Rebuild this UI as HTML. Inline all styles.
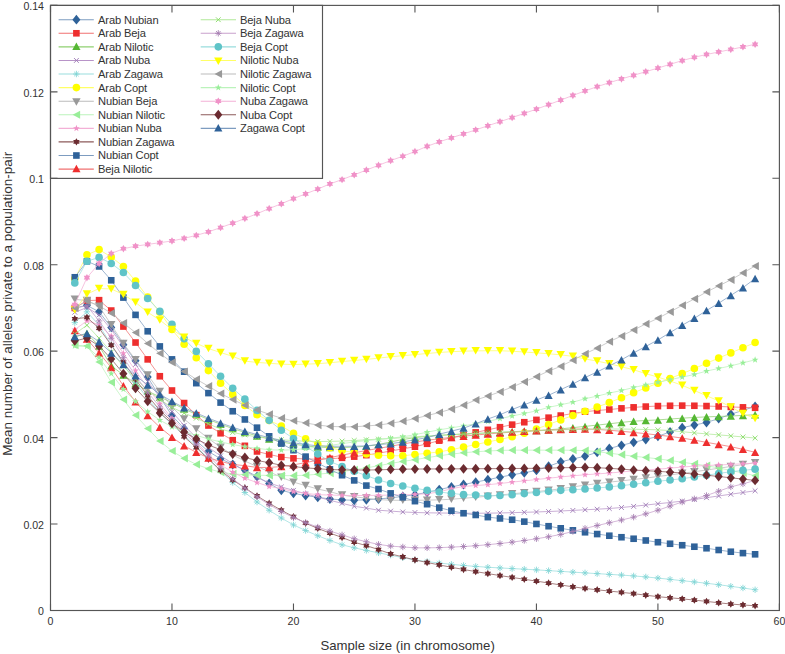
<!DOCTYPE html>
<html><head><meta charset="utf-8"><style>
html,body{margin:0;padding:0;background:#fff;}
svg{display:block;}
text{font-family:"Liberation Sans",sans-serif;fill:#333333;}
.tk text{font-size:10.6px;}
.lg text{font-size:11.15px;letter-spacing:-0.13px;}
.al{font-size:13.2px;} .al2{font-size:13.5px;}
</style></head><body>
<svg width="785" height="654" viewBox="0 0 785 654">
<rect width="785" height="654" fill="#fff"/>
<g><path d="M74.80 307.95L86.94 305.36L99.09 311.84L111.24 327.40L123.39 344.69L135.54 360.70L147.69 377.10L159.83 396.95L171.98 415.57L184.13 428.54L196.28 440.87L208.43 451.45L220.58 458.79L232.72 464.50L244.87 470.03L257.02 476.55L269.17 483.43L281.32 490.34L293.47 493.37L305.62 495.53L317.76 497.26L329.91 498.99L342.06 499.89L354.21 500.29L366.36 499.86L378.50 498.99L390.65 497.89L402.80 496.42L414.95 494.67L427.10 492.38L439.25 489.59L451.40 486.89L463.54 484.49L475.69 482.13L487.84 479.66L499.99 477.17L512.14 474.78L524.28 472.77L536.43 470.46L548.58 466.27L560.73 461.82L572.88 458.97L585.03 456.20L597.17 452.34L609.32 448.42L621.47 445.30L633.62 442.37L645.77 439.48L657.92 436.32L670.07 431.92L682.21 427.67L694.36 425.06L706.51 422.49L718.66 418.58L730.81 414.27L742.95 410.33L755.10 406.49" stroke="#7d9cc0" stroke-width="0.75" fill="none"/><path d="M74.80 303.05L78.80 307.95L74.80 312.85L70.80 307.95Z" fill="#2f6299"/><path d="M86.94 300.46L90.94 305.36L86.94 310.26L82.94 305.36Z" fill="#2f6299"/><path d="M99.09 306.94L103.09 311.84L99.09 316.74L95.09 311.84Z" fill="#2f6299"/><path d="M111.24 322.50L115.24 327.40L111.24 332.30L107.24 327.40Z" fill="#2f6299"/><path d="M123.39 339.79L127.39 344.69L123.39 349.59L119.39 344.69Z" fill="#2f6299"/><path d="M135.54 355.80L139.54 360.70L135.54 365.60L131.54 360.70Z" fill="#2f6299"/><path d="M147.69 372.20L151.69 377.10L147.69 382.00L143.69 377.10Z" fill="#2f6299"/><path d="M159.83 392.05L163.83 396.95L159.83 401.85L155.83 396.95Z" fill="#2f6299"/><path d="M171.98 410.67L175.98 415.57L171.98 420.47L167.98 415.57Z" fill="#2f6299"/><path d="M184.13 423.64L188.13 428.54L184.13 433.44L180.13 428.54Z" fill="#2f6299"/><path d="M196.28 435.97L200.28 440.87L196.28 445.77L192.28 440.87Z" fill="#2f6299"/><path d="M208.43 446.55L212.43 451.45L208.43 456.35L204.43 451.45Z" fill="#2f6299"/><path d="M220.58 453.89L224.58 458.79L220.58 463.69L216.58 458.79Z" fill="#2f6299"/><path d="M232.72 459.60L236.72 464.50L232.72 469.40L228.72 464.50Z" fill="#2f6299"/><path d="M244.87 465.13L248.87 470.03L244.87 474.93L240.87 470.03Z" fill="#2f6299"/><path d="M257.02 471.65L261.02 476.55L257.02 481.45L253.02 476.55Z" fill="#2f6299"/><path d="M269.17 478.53L273.17 483.43L269.17 488.33L265.17 483.43Z" fill="#2f6299"/><path d="M281.32 485.44L285.32 490.34L281.32 495.24L277.32 490.34Z" fill="#2f6299"/><path d="M293.47 488.47L297.47 493.37L293.47 498.27L289.47 493.37Z" fill="#2f6299"/><path d="M305.62 490.63L309.62 495.53L305.62 500.43L301.62 495.53Z" fill="#2f6299"/><path d="M317.76 492.36L321.76 497.26L317.76 502.16L313.76 497.26Z" fill="#2f6299"/><path d="M329.91 494.09L333.91 498.99L329.91 503.89L325.91 498.99Z" fill="#2f6299"/><path d="M342.06 494.99L346.06 499.89L342.06 504.79L338.06 499.89Z" fill="#2f6299"/><path d="M354.21 495.39L358.21 500.29L354.21 505.19L350.21 500.29Z" fill="#2f6299"/><path d="M366.36 494.96L370.36 499.86L366.36 504.76L362.36 499.86Z" fill="#2f6299"/><path d="M378.50 494.09L382.50 498.99L378.50 503.89L374.50 498.99Z" fill="#2f6299"/><path d="M390.65 492.99L394.65 497.89L390.65 502.79L386.65 497.89Z" fill="#2f6299"/><path d="M402.80 491.52L406.80 496.42L402.80 501.32L398.80 496.42Z" fill="#2f6299"/><path d="M414.95 489.77L418.95 494.67L414.95 499.57L410.95 494.67Z" fill="#2f6299"/><path d="M427.10 487.48L431.10 492.38L427.10 497.28L423.10 492.38Z" fill="#2f6299"/><path d="M439.25 484.69L443.25 489.59L439.25 494.49L435.25 489.59Z" fill="#2f6299"/><path d="M451.40 481.99L455.40 486.89L451.40 491.79L447.40 486.89Z" fill="#2f6299"/><path d="M463.54 479.59L467.54 484.49L463.54 489.39L459.54 484.49Z" fill="#2f6299"/><path d="M475.69 477.23L479.69 482.13L475.69 487.03L471.69 482.13Z" fill="#2f6299"/><path d="M487.84 474.76L491.84 479.66L487.84 484.56L483.84 479.66Z" fill="#2f6299"/><path d="M499.99 472.27L503.99 477.17L499.99 482.07L495.99 477.17Z" fill="#2f6299"/><path d="M512.14 469.88L516.14 474.78L512.14 479.68L508.14 474.78Z" fill="#2f6299"/><path d="M524.28 467.87L528.28 472.77L524.28 477.67L520.28 472.77Z" fill="#2f6299"/><path d="M536.43 465.56L540.43 470.46L536.43 475.36L532.43 470.46Z" fill="#2f6299"/><path d="M548.58 461.37L552.58 466.27L548.58 471.17L544.58 466.27Z" fill="#2f6299"/><path d="M560.73 456.92L564.73 461.82L560.73 466.72L556.73 461.82Z" fill="#2f6299"/><path d="M572.88 454.07L576.88 458.97L572.88 463.87L568.88 458.97Z" fill="#2f6299"/><path d="M585.03 451.30L589.03 456.20L585.03 461.10L581.03 456.20Z" fill="#2f6299"/><path d="M597.17 447.44L601.17 452.34L597.17 457.24L593.17 452.34Z" fill="#2f6299"/><path d="M609.32 443.52L613.32 448.42L609.32 453.32L605.32 448.42Z" fill="#2f6299"/><path d="M621.47 440.40L625.47 445.30L621.47 450.20L617.47 445.30Z" fill="#2f6299"/><path d="M633.62 437.47L637.62 442.37L633.62 447.27L629.62 442.37Z" fill="#2f6299"/><path d="M645.77 434.58L649.77 439.48L645.77 444.38L641.77 439.48Z" fill="#2f6299"/><path d="M657.92 431.42L661.92 436.32L657.92 441.22L653.92 436.32Z" fill="#2f6299"/><path d="M670.07 427.02L674.07 431.92L670.07 436.82L666.07 431.92Z" fill="#2f6299"/><path d="M682.21 422.77L686.21 427.67L682.21 432.57L678.21 427.67Z" fill="#2f6299"/><path d="M694.36 420.16L698.36 425.06L694.36 429.96L690.36 425.06Z" fill="#2f6299"/><path d="M706.51 417.59L710.51 422.49L706.51 427.39L702.51 422.49Z" fill="#2f6299"/><path d="M718.66 413.68L722.66 418.58L718.66 423.48L714.66 418.58Z" fill="#2f6299"/><path d="M730.81 409.37L734.81 414.27L730.81 419.17L726.81 414.27Z" fill="#2f6299"/><path d="M742.95 405.43L746.95 410.33L742.95 415.23L738.95 410.33Z" fill="#2f6299"/><path d="M755.10 401.59L759.10 406.49L755.10 411.39L751.10 406.49Z" fill="#2f6299"/></g><g><path d="M74.80 307.95L86.94 300.60L99.09 300.17L111.24 310.54L123.39 326.54L135.54 342.53L147.69 359.38L159.83 376.24L171.98 390.50L184.13 403.04L196.28 415.14L208.43 425.51L220.58 433.29L232.72 440.21L244.87 445.83L257.02 451.45L269.17 454.47L281.32 457.06L293.47 458.36L305.62 458.96L317.76 459.23L329.91 458.81L342.06 457.83L354.21 456.63L366.36 455.14L378.50 453.19L390.65 451.01L402.80 448.85L414.95 446.69L427.10 443.77L439.25 440.64L451.40 437.78L463.54 435.02L475.69 432.40L487.84 429.83L499.99 427.21L512.14 424.65L524.28 422.22L536.43 419.89L548.58 417.68L560.73 415.57L572.88 413.46L585.03 411.68L597.17 410.52L609.32 409.52L621.47 408.37L633.62 407.36L645.77 406.59L657.92 406.06L670.07 405.77L682.21 405.63L694.36 405.77L706.51 406.06L718.66 406.46L730.81 406.93L742.95 407.36L755.10 407.79" stroke="#f07070" stroke-width="0.75" fill="none"/><rect x="71.50" y="304.65" width="6.60" height="6.60" fill="#ee2e2e"/><rect x="83.64" y="297.30" width="6.60" height="6.60" fill="#ee2e2e"/><rect x="95.79" y="296.87" width="6.60" height="6.60" fill="#ee2e2e"/><rect x="107.94" y="307.24" width="6.60" height="6.60" fill="#ee2e2e"/><rect x="120.09" y="323.24" width="6.60" height="6.60" fill="#ee2e2e"/><rect x="132.24" y="339.23" width="6.60" height="6.60" fill="#ee2e2e"/><rect x="144.39" y="356.08" width="6.60" height="6.60" fill="#ee2e2e"/><rect x="156.53" y="372.94" width="6.60" height="6.60" fill="#ee2e2e"/><rect x="168.68" y="387.20" width="6.60" height="6.60" fill="#ee2e2e"/><rect x="180.83" y="399.74" width="6.60" height="6.60" fill="#ee2e2e"/><rect x="192.98" y="411.84" width="6.60" height="6.60" fill="#ee2e2e"/><rect x="205.13" y="422.21" width="6.60" height="6.60" fill="#ee2e2e"/><rect x="217.28" y="429.99" width="6.60" height="6.60" fill="#ee2e2e"/><rect x="229.42" y="436.91" width="6.60" height="6.60" fill="#ee2e2e"/><rect x="241.57" y="442.53" width="6.60" height="6.60" fill="#ee2e2e"/><rect x="253.72" y="448.15" width="6.60" height="6.60" fill="#ee2e2e"/><rect x="265.87" y="451.17" width="6.60" height="6.60" fill="#ee2e2e"/><rect x="278.02" y="453.76" width="6.60" height="6.60" fill="#ee2e2e"/><rect x="290.17" y="455.06" width="6.60" height="6.60" fill="#ee2e2e"/><rect x="302.31" y="455.66" width="6.60" height="6.60" fill="#ee2e2e"/><rect x="314.46" y="455.93" width="6.60" height="6.60" fill="#ee2e2e"/><rect x="326.61" y="455.51" width="6.60" height="6.60" fill="#ee2e2e"/><rect x="338.76" y="454.53" width="6.60" height="6.60" fill="#ee2e2e"/><rect x="350.91" y="453.33" width="6.60" height="6.60" fill="#ee2e2e"/><rect x="363.06" y="451.84" width="6.60" height="6.60" fill="#ee2e2e"/><rect x="375.20" y="449.89" width="6.60" height="6.60" fill="#ee2e2e"/><rect x="387.35" y="447.71" width="6.60" height="6.60" fill="#ee2e2e"/><rect x="399.50" y="445.55" width="6.60" height="6.60" fill="#ee2e2e"/><rect x="411.65" y="443.39" width="6.60" height="6.60" fill="#ee2e2e"/><rect x="423.80" y="440.47" width="6.60" height="6.60" fill="#ee2e2e"/><rect x="435.95" y="437.34" width="6.60" height="6.60" fill="#ee2e2e"/><rect x="448.10" y="434.48" width="6.60" height="6.60" fill="#ee2e2e"/><rect x="460.24" y="431.72" width="6.60" height="6.60" fill="#ee2e2e"/><rect x="472.39" y="429.10" width="6.60" height="6.60" fill="#ee2e2e"/><rect x="484.54" y="426.53" width="6.60" height="6.60" fill="#ee2e2e"/><rect x="496.69" y="423.91" width="6.60" height="6.60" fill="#ee2e2e"/><rect x="508.84" y="421.35" width="6.60" height="6.60" fill="#ee2e2e"/><rect x="520.99" y="418.92" width="6.60" height="6.60" fill="#ee2e2e"/><rect x="533.13" y="416.59" width="6.60" height="6.60" fill="#ee2e2e"/><rect x="545.28" y="414.38" width="6.60" height="6.60" fill="#ee2e2e"/><rect x="557.43" y="412.27" width="6.60" height="6.60" fill="#ee2e2e"/><rect x="569.58" y="410.16" width="6.60" height="6.60" fill="#ee2e2e"/><rect x="581.73" y="408.38" width="6.60" height="6.60" fill="#ee2e2e"/><rect x="593.88" y="407.22" width="6.60" height="6.60" fill="#ee2e2e"/><rect x="606.02" y="406.22" width="6.60" height="6.60" fill="#ee2e2e"/><rect x="618.17" y="405.07" width="6.60" height="6.60" fill="#ee2e2e"/><rect x="630.32" y="404.06" width="6.60" height="6.60" fill="#ee2e2e"/><rect x="642.47" y="403.29" width="6.60" height="6.60" fill="#ee2e2e"/><rect x="654.62" y="402.76" width="6.60" height="6.60" fill="#ee2e2e"/><rect x="666.77" y="402.47" width="6.60" height="6.60" fill="#ee2e2e"/><rect x="678.91" y="402.33" width="6.60" height="6.60" fill="#ee2e2e"/><rect x="691.06" y="402.47" width="6.60" height="6.60" fill="#ee2e2e"/><rect x="703.21" y="402.76" width="6.60" height="6.60" fill="#ee2e2e"/><rect x="715.36" y="403.16" width="6.60" height="6.60" fill="#ee2e2e"/><rect x="727.51" y="403.63" width="6.60" height="6.60" fill="#ee2e2e"/><rect x="739.65" y="404.06" width="6.60" height="6.60" fill="#ee2e2e"/><rect x="751.80" y="404.49" width="6.60" height="6.60" fill="#ee2e2e"/></g><g><path d="M74.80 336.91L86.94 333.45L99.09 345.98L111.24 365.87L123.39 374.94L135.54 383.59L147.69 390.94L159.83 396.99L171.98 402.60L184.13 409.09L196.28 414.27L208.43 419.46L220.58 424.22L232.72 428.54L244.87 432.43L257.02 435.89L269.17 438.91L281.32 441.94L293.47 444.10L305.62 445.83L317.76 447.12L329.91 447.56L342.06 447.56L354.21 447.12L366.36 446.26L378.50 444.53L390.65 441.94L402.80 439.53L414.95 437.61L427.10 436.37L439.25 435.39L451.40 434.59L463.54 433.94L475.69 433.40L487.84 432.86L499.99 432.29L512.14 431.72L524.28 431.13L536.43 430.53L548.58 429.83L560.73 428.85L572.88 427.64L585.03 426.38L597.17 425.10L609.32 423.78L621.47 422.38L633.62 421.19L645.77 420.51L657.92 419.89L670.07 419.03L682.21 418.16L694.36 417.46L706.51 416.87L718.66 416.44L730.81 416.00L742.95 415.41L755.10 414.71" stroke="#8fd070" stroke-width="0.75" fill="none"/><path d="M74.80 333.16L78.90 340.66L70.70 340.66Z" fill="#55b733"/><path d="M86.94 329.70L91.04 337.20L82.84 337.20Z" fill="#55b733"/><path d="M99.09 342.23L103.19 349.73L94.99 349.73Z" fill="#55b733"/><path d="M111.24 362.12L115.34 369.62L107.14 369.62Z" fill="#55b733"/><path d="M123.39 371.19L127.49 378.69L119.29 378.69Z" fill="#55b733"/><path d="M135.54 379.84L139.64 387.34L131.44 387.34Z" fill="#55b733"/><path d="M147.69 387.19L151.79 394.69L143.59 394.69Z" fill="#55b733"/><path d="M159.83 393.24L163.93 400.74L155.73 400.74Z" fill="#55b733"/><path d="M171.98 398.85L176.08 406.35L167.88 406.35Z" fill="#55b733"/><path d="M184.13 405.34L188.23 412.84L180.03 412.84Z" fill="#55b733"/><path d="M196.28 410.52L200.38 418.02L192.18 418.02Z" fill="#55b733"/><path d="M208.43 415.71L212.53 423.21L204.33 423.21Z" fill="#55b733"/><path d="M220.58 420.47L224.68 427.97L216.48 427.97Z" fill="#55b733"/><path d="M232.72 424.79L236.82 432.29L228.62 432.29Z" fill="#55b733"/><path d="M244.87 428.68L248.97 436.18L240.77 436.18Z" fill="#55b733"/><path d="M257.02 432.14L261.12 439.64L252.92 439.64Z" fill="#55b733"/><path d="M269.17 435.16L273.27 442.66L265.07 442.66Z" fill="#55b733"/><path d="M281.32 438.19L285.42 445.69L277.22 445.69Z" fill="#55b733"/><path d="M293.47 440.35L297.57 447.85L289.37 447.85Z" fill="#55b733"/><path d="M305.62 442.08L309.72 449.58L301.51 449.58Z" fill="#55b733"/><path d="M317.76 443.37L321.86 450.87L313.66 450.87Z" fill="#55b733"/><path d="M329.91 443.81L334.01 451.31L325.81 451.31Z" fill="#55b733"/><path d="M342.06 443.81L346.16 451.31L337.96 451.31Z" fill="#55b733"/><path d="M354.21 443.37L358.31 450.87L350.11 450.87Z" fill="#55b733"/><path d="M366.36 442.51L370.46 450.01L362.26 450.01Z" fill="#55b733"/><path d="M378.50 440.78L382.61 448.28L374.40 448.28Z" fill="#55b733"/><path d="M390.65 438.19L394.75 445.69L386.55 445.69Z" fill="#55b733"/><path d="M402.80 435.78L406.90 443.28L398.70 443.28Z" fill="#55b733"/><path d="M414.95 433.86L419.05 441.36L410.85 441.36Z" fill="#55b733"/><path d="M427.10 432.62L431.20 440.12L423.00 440.12Z" fill="#55b733"/><path d="M439.25 431.64L443.35 439.14L435.15 439.14Z" fill="#55b733"/><path d="M451.40 430.84L455.50 438.34L447.30 438.34Z" fill="#55b733"/><path d="M463.54 430.19L467.64 437.69L459.44 437.69Z" fill="#55b733"/><path d="M475.69 429.65L479.79 437.15L471.59 437.15Z" fill="#55b733"/><path d="M487.84 429.11L491.94 436.61L483.74 436.61Z" fill="#55b733"/><path d="M499.99 428.54L504.09 436.04L495.89 436.04Z" fill="#55b733"/><path d="M512.14 427.97L516.24 435.47L508.04 435.47Z" fill="#55b733"/><path d="M524.28 427.38L528.38 434.88L520.18 434.88Z" fill="#55b733"/><path d="M536.43 426.78L540.53 434.28L532.33 434.28Z" fill="#55b733"/><path d="M548.58 426.08L552.68 433.58L544.48 433.58Z" fill="#55b733"/><path d="M560.73 425.10L564.83 432.60L556.63 432.60Z" fill="#55b733"/><path d="M572.88 423.89L576.98 431.39L568.78 431.39Z" fill="#55b733"/><path d="M585.03 422.63L589.13 430.13L580.93 430.13Z" fill="#55b733"/><path d="M597.17 421.35L601.27 428.85L593.07 428.85Z" fill="#55b733"/><path d="M609.32 420.03L613.42 427.53L605.22 427.53Z" fill="#55b733"/><path d="M621.47 418.63L625.57 426.13L617.37 426.13Z" fill="#55b733"/><path d="M633.62 417.44L637.72 424.94L629.52 424.94Z" fill="#55b733"/><path d="M645.77 416.76L649.87 424.26L641.67 424.26Z" fill="#55b733"/><path d="M657.92 416.14L662.02 423.64L653.82 423.64Z" fill="#55b733"/><path d="M670.07 415.28L674.17 422.78L665.97 422.78Z" fill="#55b733"/><path d="M682.21 414.41L686.31 421.91L678.11 421.91Z" fill="#55b733"/><path d="M694.36 413.71L698.46 421.21L690.26 421.21Z" fill="#55b733"/><path d="M706.51 413.12L710.61 420.62L702.41 420.62Z" fill="#55b733"/><path d="M718.66 412.69L722.76 420.19L714.56 420.19Z" fill="#55b733"/><path d="M730.81 412.25L734.91 419.75L726.71 419.75Z" fill="#55b733"/><path d="M742.95 411.66L747.05 419.16L738.85 419.16Z" fill="#55b733"/><path d="M755.10 410.96L759.20 418.46L751.00 418.46Z" fill="#55b733"/></g><g><path d="M74.80 312.27L86.94 307.52L99.09 314.87L111.24 329.56L123.39 346.85L135.54 364.43L147.69 381.43L159.83 397.10L171.98 411.68L184.13 425.51L196.28 437.61L208.43 447.36L220.58 455.87L232.72 463.55L244.87 470.86L257.02 477.55L269.17 483.00L281.32 486.95L293.47 490.34L305.62 493.78L317.76 497.09L329.91 500.29L342.06 503.31L354.21 506.34L366.36 508.07L378.50 510.23L390.65 511.09L402.80 511.96L414.95 512.49L427.10 512.82L439.25 512.99L451.40 513.13L463.54 513.22L475.69 513.25L487.84 513.17L499.99 512.97L512.14 512.67L524.28 512.32L536.43 511.96L548.58 511.53L560.73 510.99L572.88 510.40L585.03 509.79L597.17 509.20L609.32 508.50L621.47 507.51L633.62 506.34L645.77 505.07L657.92 503.74L670.07 502.49L682.21 501.15L694.36 499.48L706.51 497.69L718.66 495.96L730.81 494.23L742.95 492.51L755.10 490.78" stroke="#b894c8" stroke-width="0.75" fill="none"/><path d="M72.40 309.87L77.20 314.67M72.40 314.67L77.20 309.87" stroke="#9c78b4" stroke-width="0.9" fill="none"/><path d="M84.54 305.12L89.34 309.92M84.54 309.92L89.34 305.12" stroke="#9c78b4" stroke-width="0.9" fill="none"/><path d="M96.69 312.47L101.49 317.27M96.69 317.27L101.49 312.47" stroke="#9c78b4" stroke-width="0.9" fill="none"/><path d="M108.84 327.16L113.64 331.96M108.84 331.96L113.64 327.16" stroke="#9c78b4" stroke-width="0.9" fill="none"/><path d="M120.99 344.45L125.79 349.25M120.99 349.25L125.79 344.45" stroke="#9c78b4" stroke-width="0.9" fill="none"/><path d="M133.14 362.03L137.94 366.83M133.14 366.83L137.94 362.03" stroke="#9c78b4" stroke-width="0.9" fill="none"/><path d="M145.29 379.03L150.09 383.83M145.29 383.83L150.09 379.03" stroke="#9c78b4" stroke-width="0.9" fill="none"/><path d="M157.43 394.70L162.23 399.50M157.43 399.50L162.23 394.70" stroke="#9c78b4" stroke-width="0.9" fill="none"/><path d="M169.58 409.28L174.38 414.08M169.58 414.08L174.38 409.28" stroke="#9c78b4" stroke-width="0.9" fill="none"/><path d="M181.73 423.11L186.53 427.91M181.73 427.91L186.53 423.11" stroke="#9c78b4" stroke-width="0.9" fill="none"/><path d="M193.88 435.21L198.68 440.01M193.88 440.01L198.68 435.21" stroke="#9c78b4" stroke-width="0.9" fill="none"/><path d="M206.03 444.96L210.83 449.76M206.03 449.76L210.83 444.96" stroke="#9c78b4" stroke-width="0.9" fill="none"/><path d="M218.18 453.47L222.98 458.27M218.18 458.27L222.98 453.47" stroke="#9c78b4" stroke-width="0.9" fill="none"/><path d="M230.32 461.15L235.12 465.95M230.32 465.95L235.12 461.15" stroke="#9c78b4" stroke-width="0.9" fill="none"/><path d="M242.47 468.46L247.27 473.26M242.47 473.26L247.27 468.46" stroke="#9c78b4" stroke-width="0.9" fill="none"/><path d="M254.62 475.15L259.42 479.95M254.62 479.95L259.42 475.15" stroke="#9c78b4" stroke-width="0.9" fill="none"/><path d="M266.77 480.60L271.57 485.40M266.77 485.40L271.57 480.60" stroke="#9c78b4" stroke-width="0.9" fill="none"/><path d="M278.92 484.55L283.72 489.35M278.92 489.35L283.72 484.55" stroke="#9c78b4" stroke-width="0.9" fill="none"/><path d="M291.07 487.94L295.87 492.74M291.07 492.74L295.87 487.94" stroke="#9c78b4" stroke-width="0.9" fill="none"/><path d="M303.22 491.38L308.01 496.18M303.22 496.18L308.01 491.38" stroke="#9c78b4" stroke-width="0.9" fill="none"/><path d="M315.36 494.69L320.16 499.49M315.36 499.49L320.16 494.69" stroke="#9c78b4" stroke-width="0.9" fill="none"/><path d="M327.51 497.89L332.31 502.69M327.51 502.69L332.31 497.89" stroke="#9c78b4" stroke-width="0.9" fill="none"/><path d="M339.66 500.91L344.46 505.71M339.66 505.71L344.46 500.91" stroke="#9c78b4" stroke-width="0.9" fill="none"/><path d="M351.81 503.94L356.61 508.74M351.81 508.74L356.61 503.94" stroke="#9c78b4" stroke-width="0.9" fill="none"/><path d="M363.96 505.67L368.76 510.47M363.96 510.47L368.76 505.67" stroke="#9c78b4" stroke-width="0.9" fill="none"/><path d="M376.11 507.83L380.90 512.63M376.11 512.63L380.90 507.83" stroke="#9c78b4" stroke-width="0.9" fill="none"/><path d="M388.25 508.69L393.05 513.49M388.25 513.49L393.05 508.69" stroke="#9c78b4" stroke-width="0.9" fill="none"/><path d="M400.40 509.56L405.20 514.36M400.40 514.36L405.20 509.56" stroke="#9c78b4" stroke-width="0.9" fill="none"/><path d="M412.55 510.09L417.35 514.89M412.55 514.89L417.35 510.09" stroke="#9c78b4" stroke-width="0.9" fill="none"/><path d="M424.70 510.42L429.50 515.22M424.70 515.22L429.50 510.42" stroke="#9c78b4" stroke-width="0.9" fill="none"/><path d="M436.85 510.59L441.65 515.39M436.85 515.39L441.65 510.59" stroke="#9c78b4" stroke-width="0.9" fill="none"/><path d="M449.00 510.73L453.80 515.53M449.00 515.53L453.80 510.73" stroke="#9c78b4" stroke-width="0.9" fill="none"/><path d="M461.14 510.82L465.94 515.62M461.14 515.62L465.94 510.82" stroke="#9c78b4" stroke-width="0.9" fill="none"/><path d="M473.29 510.85L478.09 515.65M473.29 515.65L478.09 510.85" stroke="#9c78b4" stroke-width="0.9" fill="none"/><path d="M485.44 510.77L490.24 515.57M485.44 515.57L490.24 510.77" stroke="#9c78b4" stroke-width="0.9" fill="none"/><path d="M497.59 510.57L502.39 515.37M497.59 515.37L502.39 510.57" stroke="#9c78b4" stroke-width="0.9" fill="none"/><path d="M509.74 510.27L514.54 515.07M509.74 515.07L514.54 510.27" stroke="#9c78b4" stroke-width="0.9" fill="none"/><path d="M521.88 509.92L526.68 514.72M521.88 514.72L526.68 509.92" stroke="#9c78b4" stroke-width="0.9" fill="none"/><path d="M534.03 509.56L538.83 514.36M534.03 514.36L538.83 509.56" stroke="#9c78b4" stroke-width="0.9" fill="none"/><path d="M546.18 509.13L550.98 513.93M546.18 513.93L550.98 509.13" stroke="#9c78b4" stroke-width="0.9" fill="none"/><path d="M558.33 508.59L563.13 513.39M558.33 513.39L563.13 508.59" stroke="#9c78b4" stroke-width="0.9" fill="none"/><path d="M570.48 508.00L575.28 512.80M570.48 512.80L575.28 508.00" stroke="#9c78b4" stroke-width="0.9" fill="none"/><path d="M582.63 507.39L587.43 512.19M582.63 512.19L587.43 507.39" stroke="#9c78b4" stroke-width="0.9" fill="none"/><path d="M594.77 506.80L599.57 511.60M594.77 511.60L599.57 506.80" stroke="#9c78b4" stroke-width="0.9" fill="none"/><path d="M606.92 506.10L611.72 510.90M606.92 510.90L611.72 506.10" stroke="#9c78b4" stroke-width="0.9" fill="none"/><path d="M619.07 505.11L623.87 509.91M619.07 509.91L623.87 505.11" stroke="#9c78b4" stroke-width="0.9" fill="none"/><path d="M631.22 503.94L636.02 508.74M631.22 508.74L636.02 503.94" stroke="#9c78b4" stroke-width="0.9" fill="none"/><path d="M643.37 502.67L648.17 507.47M643.37 507.47L648.17 502.67" stroke="#9c78b4" stroke-width="0.9" fill="none"/><path d="M655.52 501.34L660.32 506.14M655.52 506.14L660.32 501.34" stroke="#9c78b4" stroke-width="0.9" fill="none"/><path d="M667.67 500.09L672.47 504.89M667.67 504.89L672.47 500.09" stroke="#9c78b4" stroke-width="0.9" fill="none"/><path d="M679.81 498.75L684.61 503.55M679.81 503.55L684.61 498.75" stroke="#9c78b4" stroke-width="0.9" fill="none"/><path d="M691.96 497.08L696.76 501.88M691.96 501.88L696.76 497.08" stroke="#9c78b4" stroke-width="0.9" fill="none"/><path d="M704.11 495.29L708.91 500.09M704.11 500.09L708.91 495.29" stroke="#9c78b4" stroke-width="0.9" fill="none"/><path d="M716.26 493.56L721.06 498.36M716.26 498.36L721.06 493.56" stroke="#9c78b4" stroke-width="0.9" fill="none"/><path d="M728.41 491.83L733.21 496.63M728.41 496.63L733.21 491.83" stroke="#9c78b4" stroke-width="0.9" fill="none"/><path d="M740.55 490.11L745.35 494.91M740.55 494.91L745.35 490.11" stroke="#9c78b4" stroke-width="0.9" fill="none"/><path d="M752.70 488.38L757.50 493.18M752.70 493.18L757.50 488.38" stroke="#9c78b4" stroke-width="0.9" fill="none"/></g><g><path d="M74.80 322.65L86.94 311.84L99.09 325.24L111.24 344.69L123.39 364.14L135.54 382.33L147.69 398.72L159.83 412.44L171.98 424.65L184.13 435.56L196.28 446.26L208.43 458.34L220.58 470.91L232.72 482.56L244.87 492.51L257.02 502.01L269.17 510.23L281.32 518.01L293.47 524.92L305.62 530.54L317.76 535.73L329.91 540.48L342.06 544.80L354.21 547.83L366.36 550.42L378.50 552.83L390.65 555.18L402.80 557.71L414.95 559.93L427.10 561.58L439.25 563.04L451.40 564.32L463.54 565.44L475.69 566.41L487.84 567.24L499.99 567.93L512.14 568.57L524.28 569.19L536.43 569.87L548.58 570.61L560.73 571.37L572.88 572.13L585.03 572.90L597.17 573.63L609.32 574.33L621.47 575.08L633.62 575.92L645.77 576.94L657.92 578.08L670.07 579.35L682.21 580.68L694.36 581.95L706.51 583.27L718.66 584.73L730.81 586.30L742.95 587.97L755.10 589.75" stroke="#99dddd" stroke-width="0.75" fill="none"/><path d="M71.60 322.65H78.00M74.80 319.45V325.85M72.53 320.38L77.06 324.91M72.53 324.91L77.06 320.38" stroke="#7fd4d4" stroke-width="0.85" fill="none"/><path d="M83.74 311.84H90.14M86.94 308.64V315.04M84.68 309.58L89.21 314.10M84.68 314.10L89.21 309.58" stroke="#7fd4d4" stroke-width="0.85" fill="none"/><path d="M95.89 325.24H102.29M99.09 322.04V328.44M96.83 322.98L101.36 327.50M96.83 327.50L101.36 322.98" stroke="#7fd4d4" stroke-width="0.85" fill="none"/><path d="M108.04 344.69H114.44M111.24 341.49V347.89M108.98 342.43L113.50 346.95M108.98 346.95L113.50 342.43" stroke="#7fd4d4" stroke-width="0.85" fill="none"/><path d="M120.19 364.14H126.59M123.39 360.94V367.34M121.13 361.88L125.65 366.40M121.13 366.40L125.65 361.88" stroke="#7fd4d4" stroke-width="0.85" fill="none"/><path d="M132.34 382.33H138.74M135.54 379.13V385.53M133.28 380.07L137.80 384.59M133.28 384.59L137.80 380.07" stroke="#7fd4d4" stroke-width="0.85" fill="none"/><path d="M144.49 398.72H150.89M147.69 395.52V401.92M145.42 396.45L149.95 400.98M145.42 400.98L149.95 396.45" stroke="#7fd4d4" stroke-width="0.85" fill="none"/><path d="M156.63 412.44H163.03M159.83 409.24V415.64M157.57 410.18L162.10 414.70M157.57 414.70L162.10 410.18" stroke="#7fd4d4" stroke-width="0.85" fill="none"/><path d="M168.78 424.65H175.18M171.98 421.45V427.85M169.72 422.39L174.25 426.91M169.72 426.91L174.25 422.39" stroke="#7fd4d4" stroke-width="0.85" fill="none"/><path d="M180.93 435.56H187.33M184.13 432.36V438.76M181.87 433.29L186.39 437.82M181.87 437.82L186.39 433.29" stroke="#7fd4d4" stroke-width="0.85" fill="none"/><path d="M193.08 446.26H199.48M196.28 443.06V449.46M194.02 444.00L198.54 448.52M194.02 448.52L198.54 444.00" stroke="#7fd4d4" stroke-width="0.85" fill="none"/><path d="M205.23 458.34H211.63M208.43 455.14V461.54M206.17 456.08L210.69 460.60M206.17 460.60L210.69 456.08" stroke="#7fd4d4" stroke-width="0.85" fill="none"/><path d="M217.38 470.91H223.78M220.58 467.71V474.11M218.31 468.64L222.84 473.17M218.31 473.17L222.84 468.64" stroke="#7fd4d4" stroke-width="0.85" fill="none"/><path d="M229.53 482.56H235.92M232.72 479.36V485.76M230.46 480.30L234.99 484.83M230.46 484.83L234.99 480.30" stroke="#7fd4d4" stroke-width="0.85" fill="none"/><path d="M241.67 492.51H248.07M244.87 489.31V495.71M242.61 490.24L247.14 494.77M242.61 494.77L247.14 490.24" stroke="#7fd4d4" stroke-width="0.85" fill="none"/><path d="M253.82 502.01H260.22M257.02 498.81V505.21M254.76 499.75L259.28 504.28M254.76 504.28L259.28 499.75" stroke="#7fd4d4" stroke-width="0.85" fill="none"/><path d="M265.97 510.23H272.37M269.17 507.03V513.43M266.91 507.96L271.43 512.49M266.91 512.49L271.43 507.96" stroke="#7fd4d4" stroke-width="0.85" fill="none"/><path d="M278.12 518.01H284.52M281.32 514.81V521.21M279.06 515.74L283.58 520.27M279.06 520.27L283.58 515.74" stroke="#7fd4d4" stroke-width="0.85" fill="none"/><path d="M290.27 524.92H296.67M293.47 521.72V528.12M291.20 522.66L295.73 527.18M291.20 527.18L295.73 522.66" stroke="#7fd4d4" stroke-width="0.85" fill="none"/><path d="M302.42 530.54H308.81M305.62 527.34V533.74M303.35 528.28L307.88 532.80M303.35 532.80L307.88 528.28" stroke="#7fd4d4" stroke-width="0.85" fill="none"/><path d="M314.56 535.73H320.96M317.76 532.53V538.93M315.50 533.46L320.03 537.99M315.50 537.99L320.03 533.46" stroke="#7fd4d4" stroke-width="0.85" fill="none"/><path d="M326.71 540.48H333.11M329.91 537.28V543.68M327.65 538.22L332.17 542.74M327.65 542.74L332.17 538.22" stroke="#7fd4d4" stroke-width="0.85" fill="none"/><path d="M338.86 544.80H345.26M342.06 541.60V548.00M339.80 542.54L344.32 547.07M339.80 547.07L344.32 542.54" stroke="#7fd4d4" stroke-width="0.85" fill="none"/><path d="M351.01 547.83H357.41M354.21 544.63V551.03M351.95 545.57L356.47 550.09M351.95 550.09L356.47 545.57" stroke="#7fd4d4" stroke-width="0.85" fill="none"/><path d="M363.16 550.42H369.56M366.36 547.22V553.62M364.09 548.16L368.62 552.68M364.09 552.68L368.62 548.16" stroke="#7fd4d4" stroke-width="0.85" fill="none"/><path d="M375.31 552.83H381.70M378.50 549.63V556.03M376.24 550.57L380.77 555.09M376.24 555.09L380.77 550.57" stroke="#7fd4d4" stroke-width="0.85" fill="none"/><path d="M387.45 555.18H393.85M390.65 551.98V558.38M388.39 552.91L392.92 557.44M388.39 557.44L392.92 552.91" stroke="#7fd4d4" stroke-width="0.85" fill="none"/><path d="M399.60 557.71H406.00M402.80 554.51V560.91M400.54 555.45L405.06 559.97M400.54 559.97L405.06 555.45" stroke="#7fd4d4" stroke-width="0.85" fill="none"/><path d="M411.75 559.93H418.15M414.95 556.73V563.13M412.69 557.67L417.21 562.19M412.69 562.19L417.21 557.67" stroke="#7fd4d4" stroke-width="0.85" fill="none"/><path d="M423.90 561.58H430.30M427.10 558.38V564.78M424.84 559.32L429.36 563.84M424.84 563.84L429.36 559.32" stroke="#7fd4d4" stroke-width="0.85" fill="none"/><path d="M436.05 563.04H442.45M439.25 559.84V566.24M436.98 560.78L441.51 565.30M436.98 565.30L441.51 560.78" stroke="#7fd4d4" stroke-width="0.85" fill="none"/><path d="M448.20 564.32H454.60M451.40 561.12V567.52M449.13 562.06L453.66 566.59M449.13 566.59L453.66 562.06" stroke="#7fd4d4" stroke-width="0.85" fill="none"/><path d="M460.34 565.44H466.74M463.54 562.24V568.64M461.28 563.18L465.81 567.71M461.28 567.71L465.81 563.18" stroke="#7fd4d4" stroke-width="0.85" fill="none"/><path d="M472.49 566.41H478.89M475.69 563.21V569.61M473.43 564.15L477.95 568.68M473.43 568.68L477.95 564.15" stroke="#7fd4d4" stroke-width="0.85" fill="none"/><path d="M484.64 567.24H491.04M487.84 564.04V570.44M485.58 564.97L490.10 569.50M485.58 569.50L490.10 564.97" stroke="#7fd4d4" stroke-width="0.85" fill="none"/><path d="M496.79 567.93H503.19M499.99 564.73V571.13M497.73 565.67L502.25 570.20M497.73 570.20L502.25 565.67" stroke="#7fd4d4" stroke-width="0.85" fill="none"/><path d="M508.94 568.57H515.34M512.14 565.37V571.77M509.87 566.30L514.40 570.83M509.87 570.83L514.40 566.30" stroke="#7fd4d4" stroke-width="0.85" fill="none"/><path d="M521.08 569.19H527.49M524.28 565.99V572.39M522.02 566.93L526.55 571.46M522.02 571.46L526.55 566.93" stroke="#7fd4d4" stroke-width="0.85" fill="none"/><path d="M533.23 569.87H539.63M536.43 566.67V573.07M534.17 567.61L538.70 572.13M534.17 572.13L538.70 567.61" stroke="#7fd4d4" stroke-width="0.85" fill="none"/><path d="M545.38 570.61H551.78M548.58 567.41V573.81M546.32 568.35L550.84 572.87M546.32 572.87L550.84 568.35" stroke="#7fd4d4" stroke-width="0.85" fill="none"/><path d="M557.53 571.37H563.93M560.73 568.17V574.57M558.47 569.11L562.99 573.63M558.47 573.63L562.99 569.11" stroke="#7fd4d4" stroke-width="0.85" fill="none"/><path d="M569.68 572.13H576.08M572.88 568.93V575.33M570.62 569.87L575.14 574.40M570.62 574.40L575.14 569.87" stroke="#7fd4d4" stroke-width="0.85" fill="none"/><path d="M581.83 572.90H588.23M585.03 569.70V576.10M582.76 570.63L587.29 575.16M582.76 575.16L587.29 570.63" stroke="#7fd4d4" stroke-width="0.85" fill="none"/><path d="M593.97 573.63H600.38M597.17 570.43V576.83M594.91 571.36L599.44 575.89M594.91 575.89L599.44 571.36" stroke="#7fd4d4" stroke-width="0.85" fill="none"/><path d="M606.12 574.33H612.52M609.32 571.13V577.53M607.06 572.07L611.59 576.60M607.06 576.60L611.59 572.07" stroke="#7fd4d4" stroke-width="0.85" fill="none"/><path d="M618.27 575.08H624.67M621.47 571.88V578.28M619.21 572.82L623.73 577.34M619.21 577.34L623.73 572.82" stroke="#7fd4d4" stroke-width="0.85" fill="none"/><path d="M630.42 575.92H636.82M633.62 572.72V579.12M631.36 573.66L635.88 578.19M631.36 578.19L635.88 573.66" stroke="#7fd4d4" stroke-width="0.85" fill="none"/><path d="M642.57 576.94H648.97M645.77 573.74V580.14M643.51 574.67L648.03 579.20M643.51 579.20L648.03 574.67" stroke="#7fd4d4" stroke-width="0.85" fill="none"/><path d="M654.72 578.08H661.12M657.92 574.88V581.28M655.65 575.82L660.18 580.35M655.65 580.35L660.18 575.82" stroke="#7fd4d4" stroke-width="0.85" fill="none"/><path d="M666.87 579.35H673.27M670.07 576.15V582.55M667.80 577.09L672.33 581.61M667.80 581.61L672.33 577.09" stroke="#7fd4d4" stroke-width="0.85" fill="none"/><path d="M679.01 580.68H685.41M682.21 577.48V583.88M679.95 578.41L684.48 582.94M679.95 582.94L684.48 578.41" stroke="#7fd4d4" stroke-width="0.85" fill="none"/><path d="M691.16 581.95H697.56M694.36 578.75V585.15M692.10 579.69L696.62 584.21M692.10 584.21L696.62 579.69" stroke="#7fd4d4" stroke-width="0.85" fill="none"/><path d="M703.31 583.27H709.71M706.51 580.07V586.47M704.25 581.01L708.77 585.53M704.25 585.53L708.77 581.01" stroke="#7fd4d4" stroke-width="0.85" fill="none"/><path d="M715.46 584.73H721.86M718.66 581.53V587.93M716.40 582.47L720.92 586.99M716.40 586.99L720.92 582.47" stroke="#7fd4d4" stroke-width="0.85" fill="none"/><path d="M727.61 586.30H734.01M730.81 583.10V589.50M728.54 584.03L733.07 588.56M728.54 588.56L733.07 584.03" stroke="#7fd4d4" stroke-width="0.85" fill="none"/><path d="M739.75 587.97H746.15M742.95 584.77V591.17M740.69 585.71L745.22 590.23M740.69 590.23L745.22 585.71" stroke="#7fd4d4" stroke-width="0.85" fill="none"/><path d="M751.90 589.75H758.30M755.10 586.55V592.95M752.84 587.49L757.37 592.02M752.84 592.02L757.37 587.49" stroke="#7fd4d4" stroke-width="0.85" fill="none"/></g><g><path d="M74.80 278.56L86.94 254.79L99.09 249.60L111.24 256.95L123.39 266.46L135.54 281.15L147.69 297.14L159.83 312.27L171.98 329.56L184.13 344.26L196.28 357.73L208.43 370.62L220.58 383.16L232.72 394.39L244.87 405.42L257.02 414.71L269.17 420.52L281.32 425.94L293.47 433.29L305.62 438.91L317.76 444.10L329.91 447.80L342.06 450.58L354.21 452.59L366.36 454.04L378.50 455.19L390.65 455.77L402.80 455.77L414.95 454.47L427.10 453.27L439.25 451.88L451.40 449.70L463.54 447.12L475.69 444.56L487.84 441.94L499.99 439.47L512.14 436.75L524.28 433.13L536.43 428.97L548.58 424.49L560.73 419.89L572.88 415.55L585.03 411.25L597.17 407.00L609.32 402.60L621.47 397.69L633.62 392.66L645.77 387.88L657.92 383.16L670.07 378.45L682.21 373.65L694.36 368.52L706.51 363.27L718.66 358.09L730.81 352.90L742.95 347.71L755.10 342.53" stroke="#ffff66" stroke-width="0.75" fill="none"/><circle cx="74.80" cy="278.56" r="3.8" fill="#ffff00"/><circle cx="86.94" cy="254.79" r="3.8" fill="#ffff00"/><circle cx="99.09" cy="249.60" r="3.8" fill="#ffff00"/><circle cx="111.24" cy="256.95" r="3.8" fill="#ffff00"/><circle cx="123.39" cy="266.46" r="3.8" fill="#ffff00"/><circle cx="135.54" cy="281.15" r="3.8" fill="#ffff00"/><circle cx="147.69" cy="297.14" r="3.8" fill="#ffff00"/><circle cx="159.83" cy="312.27" r="3.8" fill="#ffff00"/><circle cx="171.98" cy="329.56" r="3.8" fill="#ffff00"/><circle cx="184.13" cy="344.26" r="3.8" fill="#ffff00"/><circle cx="196.28" cy="357.73" r="3.8" fill="#ffff00"/><circle cx="208.43" cy="370.62" r="3.8" fill="#ffff00"/><circle cx="220.58" cy="383.16" r="3.8" fill="#ffff00"/><circle cx="232.72" cy="394.39" r="3.8" fill="#ffff00"/><circle cx="244.87" cy="405.42" r="3.8" fill="#ffff00"/><circle cx="257.02" cy="414.71" r="3.8" fill="#ffff00"/><circle cx="269.17" cy="420.52" r="3.8" fill="#ffff00"/><circle cx="281.32" cy="425.94" r="3.8" fill="#ffff00"/><circle cx="293.47" cy="433.29" r="3.8" fill="#ffff00"/><circle cx="305.62" cy="438.91" r="3.8" fill="#ffff00"/><circle cx="317.76" cy="444.10" r="3.8" fill="#ffff00"/><circle cx="329.91" cy="447.80" r="3.8" fill="#ffff00"/><circle cx="342.06" cy="450.58" r="3.8" fill="#ffff00"/><circle cx="354.21" cy="452.59" r="3.8" fill="#ffff00"/><circle cx="366.36" cy="454.04" r="3.8" fill="#ffff00"/><circle cx="378.50" cy="455.19" r="3.8" fill="#ffff00"/><circle cx="390.65" cy="455.77" r="3.8" fill="#ffff00"/><circle cx="402.80" cy="455.77" r="3.8" fill="#ffff00"/><circle cx="414.95" cy="454.47" r="3.8" fill="#ffff00"/><circle cx="427.10" cy="453.27" r="3.8" fill="#ffff00"/><circle cx="439.25" cy="451.88" r="3.8" fill="#ffff00"/><circle cx="451.40" cy="449.70" r="3.8" fill="#ffff00"/><circle cx="463.54" cy="447.12" r="3.8" fill="#ffff00"/><circle cx="475.69" cy="444.56" r="3.8" fill="#ffff00"/><circle cx="487.84" cy="441.94" r="3.8" fill="#ffff00"/><circle cx="499.99" cy="439.47" r="3.8" fill="#ffff00"/><circle cx="512.14" cy="436.75" r="3.8" fill="#ffff00"/><circle cx="524.28" cy="433.13" r="3.8" fill="#ffff00"/><circle cx="536.43" cy="428.97" r="3.8" fill="#ffff00"/><circle cx="548.58" cy="424.49" r="3.8" fill="#ffff00"/><circle cx="560.73" cy="419.89" r="3.8" fill="#ffff00"/><circle cx="572.88" cy="415.55" r="3.8" fill="#ffff00"/><circle cx="585.03" cy="411.25" r="3.8" fill="#ffff00"/><circle cx="597.17" cy="407.00" r="3.8" fill="#ffff00"/><circle cx="609.32" cy="402.60" r="3.8" fill="#ffff00"/><circle cx="621.47" cy="397.69" r="3.8" fill="#ffff00"/><circle cx="633.62" cy="392.66" r="3.8" fill="#ffff00"/><circle cx="645.77" cy="387.88" r="3.8" fill="#ffff00"/><circle cx="657.92" cy="383.16" r="3.8" fill="#ffff00"/><circle cx="670.07" cy="378.45" r="3.8" fill="#ffff00"/><circle cx="682.21" cy="373.65" r="3.8" fill="#ffff00"/><circle cx="694.36" cy="368.52" r="3.8" fill="#ffff00"/><circle cx="706.51" cy="363.27" r="3.8" fill="#ffff00"/><circle cx="718.66" cy="358.09" r="3.8" fill="#ffff00"/><circle cx="730.81" cy="352.90" r="3.8" fill="#ffff00"/><circle cx="742.95" cy="347.71" r="3.8" fill="#ffff00"/><circle cx="755.10" cy="342.53" r="3.8" fill="#ffff00"/></g><g><path d="M74.80 299.31L86.94 300.60L99.09 306.22L111.24 324.81L123.39 343.39L135.54 359.82L147.69 374.94L159.83 391.42L171.98 406.93L184.13 419.03L196.28 428.97L208.43 438.48L220.58 447.22L232.72 454.90L244.87 461.08L257.02 466.50L269.17 471.76L281.32 477.28L293.47 482.13L305.62 485.59L317.76 489.05L329.91 491.64L342.06 495.10L354.21 496.85L366.36 498.12L378.50 499.52L390.65 500.29L402.80 500.29L414.95 500.29L427.10 500.15L439.25 499.85L451.40 499.25L463.54 498.30L475.69 497.26L487.84 496.18L499.99 494.99L512.14 493.80L524.28 492.70L536.43 491.60L548.58 490.34L560.73 488.74L572.88 486.91L585.03 485.16L597.17 483.59L609.32 482.13L621.47 480.84L633.62 479.54L645.77 478.07L657.92 476.51L670.07 474.95L682.21 473.35L694.36 471.72L706.51 470.03L718.66 468.28L730.81 466.47L742.95 464.60L755.10 462.68" stroke="#bbbbbb" stroke-width="0.75" fill="none"/><path d="M74.80 303.06L79.00 295.56L70.60 295.56Z" fill="#999999"/><path d="M86.94 304.35L91.14 296.85L82.74 296.85Z" fill="#999999"/><path d="M99.09 309.97L103.29 302.47L94.89 302.47Z" fill="#999999"/><path d="M111.24 328.56L115.44 321.06L107.04 321.06Z" fill="#999999"/><path d="M123.39 347.14L127.59 339.64L119.19 339.64Z" fill="#999999"/><path d="M135.54 363.57L139.74 356.07L131.34 356.07Z" fill="#999999"/><path d="M147.69 378.69L151.89 371.19L143.49 371.19Z" fill="#999999"/><path d="M159.83 395.17L164.03 387.67L155.63 387.67Z" fill="#999999"/><path d="M171.98 410.68L176.18 403.18L167.78 403.18Z" fill="#999999"/><path d="M184.13 422.78L188.33 415.28L179.93 415.28Z" fill="#999999"/><path d="M196.28 432.72L200.48 425.22L192.08 425.22Z" fill="#999999"/><path d="M208.43 442.23L212.63 434.73L204.23 434.73Z" fill="#999999"/><path d="M220.58 450.97L224.78 443.47L216.38 443.47Z" fill="#999999"/><path d="M232.72 458.65L236.92 451.15L228.53 451.15Z" fill="#999999"/><path d="M244.87 464.83L249.07 457.33L240.67 457.33Z" fill="#999999"/><path d="M257.02 470.25L261.22 462.75L252.82 462.75Z" fill="#999999"/><path d="M269.17 475.51L273.37 468.01L264.97 468.01Z" fill="#999999"/><path d="M281.32 481.03L285.52 473.53L277.12 473.53Z" fill="#999999"/><path d="M293.47 485.88L297.67 478.38L289.27 478.38Z" fill="#999999"/><path d="M305.62 489.34L309.81 481.84L301.42 481.84Z" fill="#999999"/><path d="M317.76 492.80L321.96 485.30L313.56 485.30Z" fill="#999999"/><path d="M329.91 495.39L334.11 487.89L325.71 487.89Z" fill="#999999"/><path d="M342.06 498.85L346.26 491.35L337.86 491.35Z" fill="#999999"/><path d="M354.21 500.60L358.41 493.10L350.01 493.10Z" fill="#999999"/><path d="M366.36 501.87L370.56 494.37L362.16 494.37Z" fill="#999999"/><path d="M378.50 503.27L382.70 495.77L374.31 495.77Z" fill="#999999"/><path d="M390.65 504.04L394.85 496.54L386.45 496.54Z" fill="#999999"/><path d="M402.80 504.04L407.00 496.54L398.60 496.54Z" fill="#999999"/><path d="M414.95 504.04L419.15 496.54L410.75 496.54Z" fill="#999999"/><path d="M427.10 503.90L431.30 496.40L422.90 496.40Z" fill="#999999"/><path d="M439.25 503.60L443.45 496.10L435.05 496.10Z" fill="#999999"/><path d="M451.40 503.00L455.60 495.50L447.20 495.50Z" fill="#999999"/><path d="M463.54 502.05L467.74 494.55L459.34 494.55Z" fill="#999999"/><path d="M475.69 501.01L479.89 493.51L471.49 493.51Z" fill="#999999"/><path d="M487.84 499.93L492.04 492.43L483.64 492.43Z" fill="#999999"/><path d="M499.99 498.74L504.19 491.24L495.79 491.24Z" fill="#999999"/><path d="M512.14 497.55L516.34 490.05L507.94 490.05Z" fill="#999999"/><path d="M524.28 496.45L528.49 488.95L520.08 488.95Z" fill="#999999"/><path d="M536.43 495.35L540.63 487.85L532.23 487.85Z" fill="#999999"/><path d="M548.58 494.09L552.78 486.59L544.38 486.59Z" fill="#999999"/><path d="M560.73 492.49L564.93 484.99L556.53 484.99Z" fill="#999999"/><path d="M572.88 490.66L577.08 483.16L568.68 483.16Z" fill="#999999"/><path d="M585.03 488.91L589.23 481.41L580.83 481.41Z" fill="#999999"/><path d="M597.17 487.34L601.38 479.84L592.97 479.84Z" fill="#999999"/><path d="M609.32 485.88L613.52 478.38L605.12 478.38Z" fill="#999999"/><path d="M621.47 484.59L625.67 477.09L617.27 477.09Z" fill="#999999"/><path d="M633.62 483.29L637.82 475.79L629.42 475.79Z" fill="#999999"/><path d="M645.77 481.82L649.97 474.32L641.57 474.32Z" fill="#999999"/><path d="M657.92 480.26L662.12 472.76L653.72 472.76Z" fill="#999999"/><path d="M670.07 478.70L674.27 471.20L665.87 471.20Z" fill="#999999"/><path d="M682.21 477.10L686.41 469.60L678.01 469.60Z" fill="#999999"/><path d="M694.36 475.47L698.56 467.97L690.16 467.97Z" fill="#999999"/><path d="M706.51 473.78L710.71 466.28L702.31 466.28Z" fill="#999999"/><path d="M718.66 472.03L722.86 464.53L714.46 464.53Z" fill="#999999"/><path d="M730.81 470.22L735.01 462.72L726.61 462.72Z" fill="#999999"/><path d="M742.95 468.35L747.15 460.85L738.75 460.85Z" fill="#999999"/><path d="M755.10 466.43L759.30 458.93L750.90 458.93Z" fill="#999999"/></g><g><path d="M74.80 345.12L86.94 345.98L99.09 361.98L111.24 382.29L123.39 399.58L135.54 415.14L147.69 428.54L159.83 441.07L171.98 451.01L184.13 458.36L196.28 464.41L208.43 468.73L220.58 472.19L232.72 473.92L244.87 474.76L257.02 475.22L269.17 475.44L281.32 475.59L293.47 475.65L305.62 475.23L317.76 474.24L329.91 473.06L342.06 471.63L354.21 469.81L366.36 467.87L378.50 465.75L390.65 463.48L402.80 461.39L414.95 459.66L427.10 457.68L439.25 455.77L451.40 454.10L463.54 452.74L475.69 451.75L487.84 451.01L499.99 450.44L512.14 450.15L524.28 450.15L536.43 450.15L548.58 450.15L560.73 450.15L572.88 450.27L585.03 450.58L597.17 451.62L609.32 453.17L621.47 454.69L633.62 456.20L645.77 457.47L657.92 458.79L670.07 460.46L682.21 462.25L694.36 463.91L706.51 465.71L718.66 467.97L730.81 470.46L742.95 473.00L755.10 475.65" stroke="#bbf3bb" stroke-width="0.75" fill="none"/><path d="M71.05 345.12L78.55 341.02L78.55 349.22Z" fill="#99ee99"/><path d="M83.19 345.98L90.69 341.88L90.69 350.08Z" fill="#99ee99"/><path d="M95.34 361.98L102.84 357.88L102.84 366.08Z" fill="#99ee99"/><path d="M107.49 382.29L114.99 378.19L114.99 386.39Z" fill="#99ee99"/><path d="M119.64 399.58L127.14 395.48L127.14 403.68Z" fill="#99ee99"/><path d="M131.79 415.14L139.29 411.04L139.29 419.24Z" fill="#99ee99"/><path d="M143.94 428.54L151.44 424.44L151.44 432.64Z" fill="#99ee99"/><path d="M156.08 441.07L163.58 436.97L163.58 445.17Z" fill="#99ee99"/><path d="M168.23 451.01L175.73 446.91L175.73 455.11Z" fill="#99ee99"/><path d="M180.38 458.36L187.88 454.26L187.88 462.46Z" fill="#99ee99"/><path d="M192.53 464.41L200.03 460.31L200.03 468.51Z" fill="#99ee99"/><path d="M204.68 468.73L212.18 464.63L212.18 472.83Z" fill="#99ee99"/><path d="M216.83 472.19L224.33 468.09L224.33 476.29Z" fill="#99ee99"/><path d="M228.97 473.92L236.47 469.82L236.47 478.02Z" fill="#99ee99"/><path d="M241.12 474.76L248.62 470.66L248.62 478.86Z" fill="#99ee99"/><path d="M253.27 475.22L260.77 471.12L260.77 479.32Z" fill="#99ee99"/><path d="M265.42 475.44L272.92 471.34L272.92 479.54Z" fill="#99ee99"/><path d="M277.57 475.59L285.07 471.49L285.07 479.69Z" fill="#99ee99"/><path d="M289.72 475.65L297.22 471.55L297.22 479.75Z" fill="#99ee99"/><path d="M301.87 475.23L309.37 471.13L309.37 479.33Z" fill="#99ee99"/><path d="M314.01 474.24L321.51 470.14L321.51 478.34Z" fill="#99ee99"/><path d="M326.16 473.06L333.66 468.96L333.66 477.16Z" fill="#99ee99"/><path d="M338.31 471.63L345.81 467.53L345.81 475.73Z" fill="#99ee99"/><path d="M350.46 469.81L357.96 465.71L357.96 473.91Z" fill="#99ee99"/><path d="M362.61 467.87L370.11 463.77L370.11 471.97Z" fill="#99ee99"/><path d="M374.75 465.75L382.25 461.65L382.25 469.85Z" fill="#99ee99"/><path d="M386.90 463.48L394.40 459.38L394.40 467.58Z" fill="#99ee99"/><path d="M399.05 461.39L406.55 457.29L406.55 465.49Z" fill="#99ee99"/><path d="M411.20 459.66L418.70 455.56L418.70 463.76Z" fill="#99ee99"/><path d="M423.35 457.68L430.85 453.58L430.85 461.78Z" fill="#99ee99"/><path d="M435.50 455.77L443.00 451.67L443.00 459.87Z" fill="#99ee99"/><path d="M447.65 454.10L455.15 450.00L455.15 458.20Z" fill="#99ee99"/><path d="M459.79 452.74L467.29 448.64L467.29 456.84Z" fill="#99ee99"/><path d="M471.94 451.75L479.44 447.65L479.44 455.85Z" fill="#99ee99"/><path d="M484.09 451.01L491.59 446.91L491.59 455.11Z" fill="#99ee99"/><path d="M496.24 450.44L503.74 446.34L503.74 454.54Z" fill="#99ee99"/><path d="M508.39 450.15L515.89 446.05L515.89 454.25Z" fill="#99ee99"/><path d="M520.53 450.15L528.03 446.05L528.03 454.25Z" fill="#99ee99"/><path d="M532.68 450.15L540.18 446.05L540.18 454.25Z" fill="#99ee99"/><path d="M544.83 450.15L552.33 446.05L552.33 454.25Z" fill="#99ee99"/><path d="M556.98 450.15L564.48 446.05L564.48 454.25Z" fill="#99ee99"/><path d="M569.13 450.27L576.63 446.17L576.63 454.37Z" fill="#99ee99"/><path d="M581.28 450.58L588.78 446.48L588.78 454.68Z" fill="#99ee99"/><path d="M593.42 451.62L600.92 447.52L600.92 455.72Z" fill="#99ee99"/><path d="M605.57 453.17L613.07 449.07L613.07 457.27Z" fill="#99ee99"/><path d="M617.72 454.69L625.22 450.59L625.22 458.79Z" fill="#99ee99"/><path d="M629.87 456.20L637.37 452.10L637.37 460.30Z" fill="#99ee99"/><path d="M642.02 457.47L649.52 453.37L649.52 461.57Z" fill="#99ee99"/><path d="M654.17 458.79L661.67 454.69L661.67 462.89Z" fill="#99ee99"/><path d="M666.32 460.46L673.82 456.36L673.82 464.56Z" fill="#99ee99"/><path d="M678.46 462.25L685.96 458.15L685.96 466.35Z" fill="#99ee99"/><path d="M690.61 463.91L698.11 459.81L698.11 468.01Z" fill="#99ee99"/><path d="M702.76 465.71L710.26 461.61L710.26 469.81Z" fill="#99ee99"/><path d="M714.91 467.97L722.41 463.87L722.41 472.07Z" fill="#99ee99"/><path d="M727.06 470.46L734.56 466.36L734.56 474.56Z" fill="#99ee99"/><path d="M739.20 473.00L746.70 468.90L746.70 477.10Z" fill="#99ee99"/><path d="M751.35 475.65L758.85 471.55L758.85 479.75Z" fill="#99ee99"/></g><g><path d="M74.80 329.56L86.94 320.92L99.09 324.81L111.24 336.04L123.39 353.33L135.54 370.62L147.69 387.91L159.83 403.77L171.98 418.16L184.13 430.26L196.28 441.94L208.43 454.90L220.58 464.84L232.72 472.19L244.87 478.24L257.02 482.56L269.17 486.45L281.32 488.62L293.47 491.64L305.62 493.37L317.76 494.67L329.91 495.10L342.06 495.39L354.21 495.53L366.36 495.47L378.50 495.31L390.65 495.10L402.80 494.83L414.95 494.42L427.10 493.80L439.25 491.85L451.40 488.75L463.54 486.45L475.69 485.54L487.84 484.73L499.99 483.49L512.14 482.13L524.28 480.84L536.43 479.54L548.58 478.21L560.73 476.95L572.88 475.81L585.03 474.78L597.17 473.92L609.32 473.06L621.47 471.98L633.62 470.89L645.77 470.02L657.92 469.17L670.07 468.13L682.21 467.04L694.36 466.14L706.51 465.50L718.66 464.97L730.81 464.41L742.95 463.78L755.10 463.11" stroke="#f3b0d6" stroke-width="0.75" fill="none"/><path d="M74.80 326.06L75.65 328.39L78.13 328.48L76.18 330.01L76.85 332.39L74.80 331.01L72.74 332.39L73.42 330.01L71.47 328.48L73.94 328.39Z" fill="#f092c8"/><path d="M86.94 317.42L87.80 319.74L90.27 319.83L88.32 321.36L89.00 323.75L86.94 322.37L84.89 323.75L85.57 321.36L83.62 319.83L86.09 319.74Z" fill="#f092c8"/><path d="M99.09 321.31L99.95 323.63L102.42 323.72L100.47 325.25L101.15 327.64L99.09 326.26L97.04 327.64L97.71 325.25L95.76 323.72L98.24 323.63Z" fill="#f092c8"/><path d="M111.24 332.54L112.09 334.87L114.57 334.96L112.62 336.49L113.30 338.88L111.24 337.49L109.18 338.88L109.86 336.49L107.91 334.96L110.39 334.87Z" fill="#f092c8"/><path d="M123.39 349.83L124.24 352.16L126.72 352.25L124.77 353.78L125.45 356.16L123.39 354.78L121.33 356.16L122.01 353.78L120.06 352.25L122.54 352.16Z" fill="#f092c8"/><path d="M135.54 367.12L136.39 369.45L138.87 369.54L136.92 371.07L137.60 373.45L135.54 372.07L133.48 373.45L134.16 371.07L132.21 369.54L134.69 369.45Z" fill="#f092c8"/><path d="M147.69 384.41L148.54 386.74L151.02 386.83L149.07 388.36L149.74 390.74L147.69 389.36L145.63 390.74L146.31 388.36L144.36 386.83L146.83 386.74Z" fill="#f092c8"/><path d="M159.83 400.27L160.69 402.60L163.16 402.69L161.21 404.22L161.89 406.60L159.83 405.22L157.78 406.60L158.46 404.22L156.51 402.69L158.98 402.60Z" fill="#f092c8"/><path d="M171.98 414.66L172.84 416.99L175.31 417.08L173.36 418.61L174.04 421.00L171.98 419.61L169.93 421.00L170.60 418.61L168.65 417.08L171.13 416.99Z" fill="#f092c8"/><path d="M184.13 426.76L184.98 429.09L187.46 429.18L185.51 430.71L186.19 433.09L184.13 431.71L182.07 433.09L182.75 430.71L180.80 429.18L183.28 429.09Z" fill="#f092c8"/><path d="M196.28 438.44L197.13 440.76L199.61 440.85L197.66 442.38L198.34 444.77L196.28 443.39L194.22 444.77L194.90 442.38L192.95 440.85L195.43 440.76Z" fill="#f092c8"/><path d="M208.43 451.40L209.28 453.73L211.76 453.82L209.81 455.35L210.49 457.73L208.43 456.35L206.37 457.73L207.05 455.35L205.10 453.82L207.58 453.73Z" fill="#f092c8"/><path d="M220.58 461.34L221.43 463.67L223.91 463.76L221.96 465.29L222.63 467.68L220.58 466.29L218.52 467.68L219.20 465.29L217.25 463.76L219.72 463.67Z" fill="#f092c8"/><path d="M232.72 468.69L233.58 471.02L236.05 471.11L234.10 472.64L234.78 475.02L232.72 473.64L230.67 475.02L231.35 472.64L229.40 471.11L231.87 471.02Z" fill="#f092c8"/><path d="M244.87 474.74L245.73 477.07L248.20 477.16L246.25 478.69L246.93 481.07L244.87 479.69L242.82 481.07L243.49 478.69L241.54 477.16L244.02 477.07Z" fill="#f092c8"/><path d="M257.02 479.06L257.87 481.39L260.35 481.48L258.40 483.01L259.08 485.40L257.02 484.01L254.96 485.40L255.64 483.01L253.69 481.48L256.17 481.39Z" fill="#f092c8"/><path d="M269.17 482.95L270.02 485.28L272.50 485.37L270.55 486.90L271.23 489.29L269.17 487.90L267.11 489.29L267.79 486.90L265.84 485.37L268.32 485.28Z" fill="#f092c8"/><path d="M281.32 485.12L282.17 487.44L284.65 487.53L282.70 489.06L283.38 491.45L281.32 490.07L279.26 491.45L279.94 489.06L277.99 487.53L280.47 487.44Z" fill="#f092c8"/><path d="M293.47 488.14L294.32 490.47L296.80 490.56L294.85 492.09L295.52 494.47L293.47 493.09L291.41 494.47L292.09 492.09L290.14 490.56L292.61 490.47Z" fill="#f092c8"/><path d="M305.62 489.87L306.47 492.20L308.94 492.29L306.99 493.82L307.67 496.20L305.62 494.82L303.56 496.20L304.24 493.82L302.29 492.29L304.76 492.20Z" fill="#f092c8"/><path d="M317.76 491.17L318.62 493.49L321.09 493.59L319.14 495.11L319.82 497.50L317.76 496.12L315.71 497.50L316.38 495.11L314.43 493.59L316.91 493.49Z" fill="#f092c8"/><path d="M329.91 491.60L330.76 493.93L333.24 494.02L331.29 495.55L331.97 497.93L329.91 496.55L327.85 497.93L328.53 495.55L326.58 494.02L329.06 493.93Z" fill="#f092c8"/><path d="M342.06 491.89L342.91 494.22L345.39 494.31L343.44 495.84L344.12 498.22L342.06 496.84L340.00 498.22L340.68 495.84L338.73 494.31L341.21 494.22Z" fill="#f092c8"/><path d="M354.21 492.03L355.06 494.36L357.54 494.45L355.59 495.98L356.27 498.36L354.21 496.98L352.15 498.36L352.83 495.98L350.88 494.45L353.36 494.36Z" fill="#f092c8"/><path d="M366.36 491.97L367.21 494.29L369.69 494.39L367.74 495.92L368.41 498.30L366.36 496.92L364.30 498.30L364.98 495.92L363.03 494.39L365.50 494.29Z" fill="#f092c8"/><path d="M378.50 491.81L379.36 494.13L381.83 494.23L379.88 495.75L380.56 498.14L378.50 496.76L376.45 498.14L377.13 495.75L375.18 494.23L377.65 494.13Z" fill="#f092c8"/><path d="M390.65 491.60L391.51 493.93L393.98 494.02L392.03 495.55L392.71 497.93L390.65 496.55L388.60 497.93L389.27 495.55L387.32 494.02L389.80 493.93Z" fill="#f092c8"/><path d="M402.80 491.33L403.65 493.66L406.13 493.75L404.18 495.28L404.86 497.66L402.80 496.28L400.74 497.66L401.42 495.28L399.47 493.75L401.95 493.66Z" fill="#f092c8"/><path d="M414.95 490.92L415.80 493.24L418.28 493.34L416.33 494.86L417.01 497.25L414.95 495.87L412.89 497.25L413.57 494.86L411.62 493.34L414.10 493.24Z" fill="#f092c8"/><path d="M427.10 490.30L427.95 492.63L430.43 492.72L428.48 494.25L429.16 496.63L427.10 495.25L425.04 496.63L425.72 494.25L423.77 492.72L426.25 492.63Z" fill="#f092c8"/><path d="M439.25 488.35L440.10 490.67L442.58 490.76L440.63 492.29L441.30 494.68L439.25 493.30L437.19 494.68L437.87 492.29L435.92 490.76L438.39 490.67Z" fill="#f092c8"/><path d="M451.40 485.25L452.25 487.57L454.72 487.66L452.77 489.19L453.45 491.58L451.40 490.20L449.34 491.58L450.02 489.19L448.07 487.66L450.54 487.57Z" fill="#f092c8"/><path d="M463.54 482.95L464.40 485.28L466.87 485.37L464.92 486.90L465.60 489.29L463.54 487.90L461.49 489.29L462.16 486.90L460.21 485.37L462.69 485.28Z" fill="#f092c8"/><path d="M475.69 482.04L476.54 484.37L479.02 484.46L477.07 485.99L477.75 488.37L475.69 486.99L473.63 488.37L474.31 485.99L472.36 484.46L474.84 484.37Z" fill="#f092c8"/><path d="M487.84 481.23L488.69 483.55L491.17 483.64L489.22 485.17L489.90 487.56L487.84 486.18L485.78 487.56L486.46 485.17L484.51 483.64L486.99 483.55Z" fill="#f092c8"/><path d="M499.99 479.99L500.84 482.32L503.32 482.41L501.37 483.94L502.05 486.33L499.99 484.94L497.93 486.33L498.61 483.94L496.66 482.41L499.14 482.32Z" fill="#f092c8"/><path d="M512.14 478.63L512.99 480.96L515.47 481.05L513.52 482.58L514.19 484.96L512.14 483.58L510.08 484.96L510.76 482.58L508.81 481.05L511.28 480.96Z" fill="#f092c8"/><path d="M524.28 477.34L525.14 479.66L527.61 479.75L525.66 481.28L526.34 483.67L524.28 482.29L522.23 483.67L522.91 481.28L520.96 479.75L523.43 479.66Z" fill="#f092c8"/><path d="M536.43 476.04L537.29 478.37L539.76 478.46L537.81 479.99L538.49 482.37L536.43 480.99L534.38 482.37L535.05 479.99L533.10 478.46L535.58 478.37Z" fill="#f092c8"/><path d="M548.58 474.71L549.43 477.04L551.91 477.13L549.96 478.66L550.64 481.04L548.58 479.66L546.52 481.04L547.20 478.66L545.25 477.13L547.73 477.04Z" fill="#f092c8"/><path d="M560.73 473.45L561.58 475.77L564.06 475.86L562.11 477.39L562.79 479.78L560.73 478.40L558.67 479.78L559.35 477.39L557.40 475.86L559.88 475.77Z" fill="#f092c8"/><path d="M572.88 472.31L573.73 474.64L576.21 474.73L574.26 476.26L574.94 478.64L572.88 477.26L570.82 478.64L571.50 476.26L569.55 474.73L572.03 474.64Z" fill="#f092c8"/><path d="M585.03 471.28L585.88 473.61L588.36 473.70L586.41 475.23L587.08 477.62L585.03 476.23L582.97 477.62L583.65 475.23L581.70 473.70L584.17 473.61Z" fill="#f092c8"/><path d="M597.17 470.42L598.03 472.75L600.50 472.84L598.55 474.37L599.23 476.75L597.17 475.37L595.12 476.75L595.80 474.37L593.85 472.84L596.32 472.75Z" fill="#f092c8"/><path d="M609.32 469.56L610.18 471.88L612.65 471.97L610.70 473.50L611.38 475.89L609.32 474.51L607.27 475.89L607.94 473.50L605.99 471.97L608.47 471.88Z" fill="#f092c8"/><path d="M621.47 468.48L622.32 470.80L624.80 470.89L622.85 472.42L623.53 474.81L621.47 473.43L619.41 474.81L620.09 472.42L618.14 470.89L620.62 470.80Z" fill="#f092c8"/><path d="M633.62 467.39L634.47 469.72L636.95 469.81L635.00 471.34L635.68 473.73L633.62 472.34L631.56 473.73L632.24 471.34L630.29 469.81L632.77 469.72Z" fill="#f092c8"/><path d="M645.77 466.52L646.62 468.85L649.10 468.94L647.15 470.47L647.83 472.85L645.77 471.47L643.71 472.85L644.39 470.47L642.44 468.94L644.92 468.85Z" fill="#f092c8"/><path d="M657.92 465.67L658.77 467.99L661.25 468.08L659.30 469.61L659.97 472.00L657.92 470.62L655.86 472.00L656.54 469.61L654.59 468.08L657.06 467.99Z" fill="#f092c8"/><path d="M670.07 464.63L670.92 466.96L673.39 467.05L671.44 468.58L672.12 470.96L670.07 469.58L668.01 470.96L668.69 468.58L666.74 467.05L669.21 466.96Z" fill="#f092c8"/><path d="M682.21 463.54L683.07 465.87L685.54 465.96L683.59 467.49L684.27 469.88L682.21 468.49L680.16 469.88L680.83 467.49L678.88 465.96L681.36 465.87Z" fill="#f092c8"/><path d="M694.36 462.64L695.21 464.97L697.69 465.06L695.74 466.59L696.42 468.97L694.36 467.59L692.30 468.97L692.98 466.59L691.03 465.06L693.51 464.97Z" fill="#f092c8"/><path d="M706.51 462.00L707.36 464.33L709.84 464.42L707.89 465.95L708.57 468.33L706.51 466.95L704.45 468.33L705.13 465.95L703.18 464.42L705.66 464.33Z" fill="#f092c8"/><path d="M718.66 461.47L719.51 463.80L721.99 463.89L720.04 465.42L720.72 467.80L718.66 466.42L716.60 467.80L717.28 465.42L715.33 463.89L717.81 463.80Z" fill="#f092c8"/><path d="M730.81 460.91L731.66 463.24L734.14 463.33L732.19 464.86L732.86 467.24L730.81 465.86L728.75 467.24L729.43 464.86L727.48 463.33L729.95 463.24Z" fill="#f092c8"/><path d="M742.95 460.28L743.81 462.61L746.28 462.70L744.33 464.23L745.01 466.61L742.95 465.23L740.90 466.61L741.58 464.23L739.63 462.70L742.10 462.61Z" fill="#f092c8"/><path d="M755.10 459.61L755.96 461.94L758.43 462.03L756.48 463.56L757.16 465.95L755.10 464.56L753.05 465.95L753.72 463.56L751.77 462.03L754.25 461.94Z" fill="#f092c8"/></g><g><path d="M74.80 318.76L86.94 317.46L99.09 328.26L111.24 345.12L123.39 361.98L135.54 379.27L147.69 395.69L159.83 410.38L171.98 421.62L184.13 436.75L196.28 447.56L208.43 459.21L220.58 470.46L232.72 479.97L244.87 487.75L257.02 495.96L269.17 503.31L281.32 510.23L293.47 516.71L305.62 523.19L317.76 528.38L329.91 533.13L342.06 537.46L354.21 542.21L366.36 545.67L378.50 549.56L390.65 553.88L402.80 556.91L414.95 559.93L427.10 562.52L439.25 564.93L451.40 567.25L463.54 569.47L475.69 571.60L487.84 573.62L499.99 575.55L512.14 577.41L524.28 579.26L536.43 581.11L548.58 583.03L560.73 584.97L572.88 586.82L585.03 588.46L597.17 589.80L609.32 591.05L621.47 592.32L633.62 593.64L645.77 595.19L657.92 596.67L670.07 597.77L682.21 598.83L694.36 600.10L706.51 601.42L718.66 602.78L730.81 604.02L742.95 604.98L755.10 605.75" stroke="#8c5a5a" stroke-width="0.75" fill="none"/><path d="M74.80 315.06L75.87 316.89L78.00 316.91L76.95 318.76L78.00 320.61L75.87 320.62L74.80 322.46L73.72 320.62L71.59 320.61L72.65 318.76L71.59 316.91L73.72 316.89Z" fill="#6b2b30"/><path d="M86.94 313.76L88.02 315.60L90.15 315.61L89.09 317.46L90.15 319.31L88.02 319.32L86.94 321.16L85.87 319.32L83.74 319.31L84.79 317.46L83.74 315.61L85.87 315.60Z" fill="#6b2b30"/><path d="M99.09 324.56L100.17 326.40L102.30 326.41L101.24 328.26L102.30 330.11L100.17 330.13L99.09 331.96L98.02 330.13L95.89 330.11L96.94 328.26L95.89 326.41L98.02 326.40Z" fill="#6b2b30"/><path d="M111.24 341.42L112.32 343.26L114.45 343.27L113.39 345.12L114.45 346.97L112.32 346.98L111.24 348.82L110.17 346.98L108.04 346.97L109.09 345.12L108.04 343.27L110.17 343.26Z" fill="#6b2b30"/><path d="M123.39 358.28L124.47 360.11L126.59 360.13L125.54 361.98L126.59 363.83L124.47 363.84L123.39 365.68L122.31 363.84L120.19 363.83L121.24 361.98L120.19 360.13L122.31 360.11Z" fill="#6b2b30"/><path d="M135.54 375.57L136.61 377.40L138.74 377.42L137.69 379.27L138.74 381.12L136.61 381.13L135.54 382.97L134.46 381.13L132.33 381.12L133.39 379.27L132.33 377.42L134.46 377.40Z" fill="#6b2b30"/><path d="M147.69 391.99L148.76 393.83L150.89 393.84L149.84 395.69L150.89 397.54L148.76 397.55L147.69 399.39L146.61 397.55L144.48 397.54L145.54 395.69L144.48 393.84L146.61 393.83Z" fill="#6b2b30"/><path d="M159.83 406.68L160.91 408.52L163.04 408.53L161.98 410.38L163.04 412.23L160.91 412.25L159.83 414.08L158.76 412.25L156.63 412.23L157.68 410.38L156.63 408.53L158.76 408.52Z" fill="#6b2b30"/><path d="M171.98 417.92L173.06 419.76L175.19 419.77L174.13 421.62L175.19 423.47L173.06 423.48L171.98 425.32L170.91 423.48L168.78 423.47L169.83 421.62L168.78 419.77L170.91 419.76Z" fill="#6b2b30"/><path d="M184.13 433.05L185.21 434.89L187.34 434.90L186.28 436.75L187.34 438.60L185.21 438.61L184.13 440.45L183.06 438.61L180.93 438.60L181.98 436.75L180.93 434.90L183.06 434.89Z" fill="#6b2b30"/><path d="M196.28 443.86L197.35 445.69L199.48 445.71L198.43 447.56L199.48 449.41L197.35 449.42L196.28 451.26L195.21 449.42L193.08 449.41L194.13 447.56L193.08 445.71L195.21 445.69Z" fill="#6b2b30"/><path d="M208.43 455.51L209.50 457.35L211.63 457.36L210.58 459.21L211.63 461.06L209.50 461.07L208.43 462.91L207.35 461.07L205.22 461.06L206.28 459.21L205.22 457.36L207.35 457.35Z" fill="#6b2b30"/><path d="M220.58 466.76L221.65 468.60L223.78 468.61L222.73 470.46L223.78 472.31L221.65 472.32L220.58 474.16L219.50 472.32L217.37 472.31L218.43 470.46L217.37 468.61L219.50 468.60Z" fill="#6b2b30"/><path d="M232.72 476.27L233.80 478.11L235.93 478.12L234.88 479.97L235.93 481.82L233.80 481.83L232.72 483.67L231.65 481.83L229.52 481.82L230.57 479.97L229.52 478.12L231.65 478.11Z" fill="#6b2b30"/><path d="M244.87 484.05L245.95 485.89L248.08 485.90L247.02 487.75L248.08 489.60L245.95 489.61L244.87 491.45L243.80 489.61L241.67 489.60L242.72 487.75L241.67 485.90L243.80 485.89Z" fill="#6b2b30"/><path d="M257.02 492.26L258.10 494.10L260.23 494.11L259.17 495.96L260.23 497.81L258.10 497.83L257.02 499.66L255.95 497.83L253.82 497.81L254.87 495.96L253.82 494.11L255.95 494.10Z" fill="#6b2b30"/><path d="M269.17 499.61L270.24 501.45L272.37 501.46L271.32 503.31L272.37 505.16L270.24 505.17L269.17 507.01L268.09 505.17L265.97 505.16L267.02 503.31L265.97 501.46L268.09 501.45Z" fill="#6b2b30"/><path d="M281.32 506.53L282.39 508.36L284.52 508.38L283.47 510.23L284.52 512.08L282.39 512.09L281.32 513.93L280.24 512.09L278.11 512.08L279.17 510.23L278.11 508.38L280.24 508.36Z" fill="#6b2b30"/><path d="M293.47 513.01L294.54 514.85L296.67 514.86L295.62 516.71L296.67 518.56L294.54 518.57L293.47 520.41L292.39 518.57L290.26 518.56L291.32 516.71L290.26 514.86L292.39 514.85Z" fill="#6b2b30"/><path d="M305.62 519.49L306.69 521.33L308.82 521.34L307.76 523.19L308.82 525.04L306.69 525.05L305.62 526.89L304.54 525.05L302.41 525.04L303.47 523.19L302.41 521.34L304.54 521.33Z" fill="#6b2b30"/><path d="M317.76 524.68L318.84 526.52L320.97 526.53L319.91 528.38L320.97 530.23L318.84 530.24L317.76 532.08L316.69 530.24L314.56 530.23L315.61 528.38L314.56 526.53L316.69 526.52Z" fill="#6b2b30"/><path d="M329.91 529.43L330.99 531.27L333.12 531.28L332.06 533.13L333.12 534.98L330.99 535.00L329.91 536.83L328.84 535.00L326.71 534.98L327.76 533.13L326.71 531.28L328.84 531.27Z" fill="#6b2b30"/><path d="M342.06 533.76L343.13 535.59L345.26 535.61L344.21 537.46L345.26 539.31L343.13 539.32L342.06 541.16L340.99 539.32L338.86 539.31L339.91 537.46L338.86 535.61L340.99 535.59Z" fill="#6b2b30"/><path d="M354.21 538.51L355.28 540.35L357.41 540.36L356.36 542.21L357.41 544.06L355.28 544.07L354.21 545.91L353.13 544.07L351.00 544.06L352.06 542.21L351.00 540.36L353.13 540.35Z" fill="#6b2b30"/><path d="M366.36 541.97L367.43 543.81L369.56 543.82L368.51 545.67L369.56 547.52L367.43 547.53L366.36 549.37L365.28 547.53L363.15 547.52L364.21 545.67L363.15 543.82L365.28 543.81Z" fill="#6b2b30"/><path d="M378.50 545.86L379.58 547.70L381.71 547.71L380.65 549.56L381.71 551.41L379.58 551.42L378.50 553.26L377.43 551.42L375.30 551.41L376.36 549.56L375.30 547.71L377.43 547.70Z" fill="#6b2b30"/><path d="M390.65 550.18L391.73 552.02L393.86 552.03L392.80 553.88L393.86 555.73L391.73 555.74L390.65 557.58L389.58 555.74L387.45 555.73L388.50 553.88L387.45 552.03L389.58 552.02Z" fill="#6b2b30"/><path d="M402.80 553.21L403.88 555.04L406.01 555.06L404.95 556.91L406.01 558.76L403.88 558.77L402.80 560.61L401.73 558.77L399.60 558.76L400.65 556.91L399.60 555.06L401.73 555.04Z" fill="#6b2b30"/><path d="M414.95 556.23L416.02 558.07L418.15 558.08L417.10 559.93L418.15 561.78L416.02 561.79L414.95 563.63L413.88 561.79L411.75 561.78L412.80 559.93L411.75 558.08L413.88 558.07Z" fill="#6b2b30"/><path d="M427.10 558.82L428.17 560.66L430.30 560.67L429.25 562.52L430.30 564.37L428.17 564.39L427.10 566.22L426.02 564.39L423.89 564.37L424.95 562.52L423.89 560.67L426.02 560.66Z" fill="#6b2b30"/><path d="M439.25 561.23L440.32 563.07L442.45 563.08L441.40 564.93L442.45 566.78L440.32 566.79L439.25 568.63L438.17 566.79L436.04 566.78L437.10 564.93L436.04 563.08L438.17 563.07Z" fill="#6b2b30"/><path d="M451.40 563.55L452.47 565.39L454.60 565.40L453.55 567.25L454.60 569.10L452.47 569.11L451.40 570.95L450.32 569.11L448.19 569.10L449.25 567.25L448.19 565.40L450.32 565.39Z" fill="#6b2b30"/><path d="M463.54 565.77L464.62 567.61L466.75 567.62L465.69 569.47L466.75 571.32L464.62 571.34L463.54 573.17L462.47 571.34L460.34 571.32L461.39 569.47L460.34 567.62L462.47 567.61Z" fill="#6b2b30"/><path d="M475.69 567.90L476.77 569.74L478.90 569.75L477.84 571.60L478.90 573.45L476.77 573.46L475.69 575.30L474.62 573.46L472.49 573.45L473.54 571.60L472.49 569.75L474.62 569.74Z" fill="#6b2b30"/><path d="M487.84 569.92L488.91 571.76L491.04 571.77L489.99 573.62L491.04 575.47L488.91 575.48L487.84 577.32L486.76 575.48L484.64 575.47L485.69 573.62L484.64 571.77L486.76 571.76Z" fill="#6b2b30"/><path d="M499.99 571.85L501.06 573.68L503.19 573.70L502.14 575.55L503.19 577.40L501.06 577.41L499.99 579.25L498.91 577.41L496.78 577.40L497.84 575.55L496.78 573.70L498.91 573.68Z" fill="#6b2b30"/><path d="M512.14 573.71L513.21 575.55L515.34 575.56L514.29 577.41L515.34 579.26L513.21 579.28L512.14 581.11L511.06 579.28L508.93 579.26L509.99 577.41L508.93 575.56L511.06 575.55Z" fill="#6b2b30"/><path d="M524.28 575.56L525.36 577.40L527.49 577.41L526.43 579.26L527.49 581.11L525.36 581.12L524.28 582.96L523.21 581.12L521.08 581.11L522.13 579.26L521.08 577.41L523.21 577.40Z" fill="#6b2b30"/><path d="M536.43 577.41L537.51 579.25L539.64 579.26L538.58 581.11L539.64 582.96L537.51 582.97L536.43 584.81L535.36 582.97L533.23 582.96L534.28 581.11L533.23 579.26L535.36 579.25Z" fill="#6b2b30"/><path d="M548.58 579.33L549.66 581.17L551.79 581.18L550.73 583.03L551.79 584.88L549.66 584.89L548.58 586.73L547.51 584.89L545.38 584.88L546.43 583.03L545.38 581.18L547.51 581.17Z" fill="#6b2b30"/><path d="M560.73 581.27L561.81 583.11L563.93 583.12L562.88 584.97L563.93 586.82L561.81 586.83L560.73 588.67L559.65 586.83L557.53 586.82L558.58 584.97L557.53 583.12L559.65 583.11Z" fill="#6b2b30"/><path d="M572.88 583.12L573.95 584.96L576.08 584.97L575.03 586.82L576.08 588.67L573.95 588.68L572.88 590.52L571.80 588.68L569.67 588.67L570.73 586.82L569.67 584.97L571.80 584.96Z" fill="#6b2b30"/><path d="M585.03 584.76L586.10 586.60L588.23 586.61L587.18 588.46L588.23 590.31L586.10 590.32L585.03 592.16L583.95 590.32L581.82 590.31L582.88 588.46L581.82 586.61L583.95 586.60Z" fill="#6b2b30"/><path d="M597.17 586.10L598.25 587.94L600.38 587.95L599.32 589.80L600.38 591.65L598.25 591.66L597.17 593.50L596.10 591.66L593.97 591.65L595.02 589.80L593.97 587.95L596.10 587.94Z" fill="#6b2b30"/><path d="M609.32 587.35L610.40 589.19L612.53 589.20L611.47 591.05L612.53 592.90L610.40 592.91L609.32 594.75L608.25 592.91L606.12 592.90L607.17 591.05L606.12 589.20L608.25 589.19Z" fill="#6b2b30"/><path d="M621.47 588.62L622.55 590.46L624.68 590.47L623.62 592.32L624.68 594.17L622.55 594.18L621.47 596.02L620.40 594.18L618.27 594.17L619.32 592.32L618.27 590.47L620.40 590.46Z" fill="#6b2b30"/><path d="M633.62 589.94L634.70 591.78L636.82 591.79L635.77 593.64L636.82 595.49L634.70 595.51L633.62 597.34L632.54 595.51L630.42 595.49L631.47 593.64L630.42 591.79L632.54 591.78Z" fill="#6b2b30"/><path d="M645.77 591.49L646.84 593.33L648.97 593.34L647.92 595.19L648.97 597.04L646.84 597.05L645.77 598.89L644.69 597.05L642.56 597.04L643.62 595.19L642.56 593.34L644.69 593.33Z" fill="#6b2b30"/><path d="M657.92 592.97L658.99 594.81L661.12 594.82L660.07 596.67L661.12 598.52L658.99 598.53L657.92 600.37L656.84 598.53L654.71 598.52L655.77 596.67L654.71 594.82L656.84 594.81Z" fill="#6b2b30"/><path d="M670.07 594.07L671.14 595.91L673.27 595.92L672.22 597.77L673.27 599.62L671.14 599.63L670.07 601.47L668.99 599.63L666.86 599.62L667.92 597.77L666.86 595.92L668.99 595.91Z" fill="#6b2b30"/><path d="M682.21 595.13L683.29 596.97L685.42 596.98L684.36 598.83L685.42 600.68L683.29 600.69L682.21 602.53L681.14 600.69L679.01 600.68L680.06 598.83L679.01 596.98L681.14 596.97Z" fill="#6b2b30"/><path d="M694.36 596.40L695.44 598.24L697.57 598.25L696.51 600.10L697.57 601.95L695.44 601.96L694.36 603.80L693.29 601.96L691.16 601.95L692.21 600.10L691.16 598.25L693.29 598.24Z" fill="#6b2b30"/><path d="M706.51 597.72L707.59 599.56L709.71 599.57L708.66 601.42L709.71 603.27L707.59 603.29L706.51 605.12L705.43 603.29L703.31 603.27L704.36 601.42L703.31 599.57L705.43 599.56Z" fill="#6b2b30"/><path d="M718.66 599.08L719.73 600.92L721.86 600.93L720.81 602.78L721.86 604.63L719.73 604.65L718.66 606.48L717.58 604.65L715.45 604.63L716.51 602.78L715.45 600.93L717.58 600.92Z" fill="#6b2b30"/><path d="M730.81 600.32L731.88 602.15L734.01 602.17L732.96 604.02L734.01 605.87L731.88 605.88L730.81 607.72L729.73 605.88L727.60 605.87L728.66 604.02L727.60 602.17L729.73 602.15Z" fill="#6b2b30"/><path d="M742.95 601.28L744.03 603.12L746.16 603.13L745.10 604.98L746.16 606.83L744.03 606.84L742.95 608.68L741.88 606.84L739.75 606.83L740.80 604.98L739.75 603.13L741.88 603.12Z" fill="#6b2b30"/><path d="M755.10 602.05L756.18 603.88L758.31 603.90L757.25 605.75L758.31 607.60L756.18 607.61L755.10 609.45L754.03 607.61L751.90 607.60L752.95 605.75L751.90 603.90L754.03 603.88Z" fill="#6b2b30"/></g><g><path d="M74.80 277.26L86.94 261.27L99.09 266.46L111.24 280.29L123.39 297.58L135.54 314.87L147.69 331.29L159.83 346.42L171.98 359.38L184.13 371.70L196.28 383.16L208.43 393.10L220.58 402.60L232.72 411.25L244.87 419.46L257.02 427.67L269.17 436.32L281.32 443.59L293.47 450.21L305.62 456.63L317.76 463.09L329.91 469.36L342.06 475.22L354.21 480.40L366.36 485.59L378.50 489.05L390.65 493.37L402.80 497.26L414.95 501.15L427.10 504.18L439.25 507.63L451.40 510.71L463.54 513.25L475.69 514.98L487.84 517.14L499.99 518.44L512.14 519.74L524.28 521.64L536.43 523.96L548.58 526.22L560.73 528.30L572.88 530.34L585.03 532.27L597.17 534.06L609.32 535.73L621.47 537.24L633.62 538.75L645.77 540.48L657.92 542.21L670.07 543.75L682.21 545.24L694.36 546.72L706.51 548.26L718.66 550.02L730.81 551.72L742.95 553.12L755.10 554.31" stroke="#7d9cc0" stroke-width="0.75" fill="none"/><rect x="71.50" y="273.96" width="6.60" height="6.60" fill="#2f6299"/><rect x="83.64" y="257.97" width="6.60" height="6.60" fill="#2f6299"/><rect x="95.79" y="263.16" width="6.60" height="6.60" fill="#2f6299"/><rect x="107.94" y="276.99" width="6.60" height="6.60" fill="#2f6299"/><rect x="120.09" y="294.28" width="6.60" height="6.60" fill="#2f6299"/><rect x="132.24" y="311.57" width="6.60" height="6.60" fill="#2f6299"/><rect x="144.39" y="327.99" width="6.60" height="6.60" fill="#2f6299"/><rect x="156.53" y="343.12" width="6.60" height="6.60" fill="#2f6299"/><rect x="168.68" y="356.08" width="6.60" height="6.60" fill="#2f6299"/><rect x="180.83" y="368.40" width="6.60" height="6.60" fill="#2f6299"/><rect x="192.98" y="379.86" width="6.60" height="6.60" fill="#2f6299"/><rect x="205.13" y="389.80" width="6.60" height="6.60" fill="#2f6299"/><rect x="217.28" y="399.30" width="6.60" height="6.60" fill="#2f6299"/><rect x="229.42" y="407.95" width="6.60" height="6.60" fill="#2f6299"/><rect x="241.57" y="416.16" width="6.60" height="6.60" fill="#2f6299"/><rect x="253.72" y="424.37" width="6.60" height="6.60" fill="#2f6299"/><rect x="265.87" y="433.02" width="6.60" height="6.60" fill="#2f6299"/><rect x="278.02" y="440.29" width="6.60" height="6.60" fill="#2f6299"/><rect x="290.17" y="446.91" width="6.60" height="6.60" fill="#2f6299"/><rect x="302.31" y="453.33" width="6.60" height="6.60" fill="#2f6299"/><rect x="314.46" y="459.79" width="6.60" height="6.60" fill="#2f6299"/><rect x="326.61" y="466.06" width="6.60" height="6.60" fill="#2f6299"/><rect x="338.76" y="471.92" width="6.60" height="6.60" fill="#2f6299"/><rect x="350.91" y="477.10" width="6.60" height="6.60" fill="#2f6299"/><rect x="363.06" y="482.29" width="6.60" height="6.60" fill="#2f6299"/><rect x="375.20" y="485.75" width="6.60" height="6.60" fill="#2f6299"/><rect x="387.35" y="490.07" width="6.60" height="6.60" fill="#2f6299"/><rect x="399.50" y="493.96" width="6.60" height="6.60" fill="#2f6299"/><rect x="411.65" y="497.85" width="6.60" height="6.60" fill="#2f6299"/><rect x="423.80" y="500.88" width="6.60" height="6.60" fill="#2f6299"/><rect x="435.95" y="504.33" width="6.60" height="6.60" fill="#2f6299"/><rect x="448.10" y="507.41" width="6.60" height="6.60" fill="#2f6299"/><rect x="460.24" y="509.95" width="6.60" height="6.60" fill="#2f6299"/><rect x="472.39" y="511.68" width="6.60" height="6.60" fill="#2f6299"/><rect x="484.54" y="513.84" width="6.60" height="6.60" fill="#2f6299"/><rect x="496.69" y="515.14" width="6.60" height="6.60" fill="#2f6299"/><rect x="508.84" y="516.44" width="6.60" height="6.60" fill="#2f6299"/><rect x="520.99" y="518.34" width="6.60" height="6.60" fill="#2f6299"/><rect x="533.13" y="520.66" width="6.60" height="6.60" fill="#2f6299"/><rect x="545.28" y="522.92" width="6.60" height="6.60" fill="#2f6299"/><rect x="557.43" y="525.00" width="6.60" height="6.60" fill="#2f6299"/><rect x="569.58" y="527.04" width="6.60" height="6.60" fill="#2f6299"/><rect x="581.73" y="528.97" width="6.60" height="6.60" fill="#2f6299"/><rect x="593.88" y="530.76" width="6.60" height="6.60" fill="#2f6299"/><rect x="606.02" y="532.43" width="6.60" height="6.60" fill="#2f6299"/><rect x="618.17" y="533.94" width="6.60" height="6.60" fill="#2f6299"/><rect x="630.32" y="535.45" width="6.60" height="6.60" fill="#2f6299"/><rect x="642.47" y="537.18" width="6.60" height="6.60" fill="#2f6299"/><rect x="654.62" y="538.91" width="6.60" height="6.60" fill="#2f6299"/><rect x="666.77" y="540.45" width="6.60" height="6.60" fill="#2f6299"/><rect x="678.91" y="541.94" width="6.60" height="6.60" fill="#2f6299"/><rect x="691.06" y="543.42" width="6.60" height="6.60" fill="#2f6299"/><rect x="703.21" y="544.96" width="6.60" height="6.60" fill="#2f6299"/><rect x="715.36" y="546.72" width="6.60" height="6.60" fill="#2f6299"/><rect x="727.51" y="548.42" width="6.60" height="6.60" fill="#2f6299"/><rect x="739.65" y="549.82" width="6.60" height="6.60" fill="#2f6299"/><rect x="751.80" y="551.01" width="6.60" height="6.60" fill="#2f6299"/></g><g><path d="M74.80 330.43L86.94 339.07L99.09 352.90L111.24 367.60L123.39 385.75L135.54 401.74L147.69 415.57L159.83 427.24L171.98 437.18L184.13 445.83L196.28 452.31L208.43 457.93L220.58 461.39L232.72 464.41L244.87 465.71L257.02 467.44L269.17 467.44L281.32 466.56L293.47 464.84L305.62 462.65L317.76 460.09L329.91 457.62L342.06 455.13L354.21 452.74L366.36 450.52L378.50 448.39L390.65 446.26L402.80 443.99L414.95 441.94L427.10 440.27L439.25 438.76L451.40 437.39L463.54 436.14L475.69 435.02L487.84 433.98L499.99 433.01L512.14 432.12L524.28 431.34L536.43 430.70L548.58 430.11L560.73 429.55L572.88 429.13L585.03 428.97L597.17 429.42L609.32 430.27L621.47 431.26L633.62 432.43L645.77 433.67L657.92 435.02L670.07 436.44L682.21 438.05L694.36 440.11L706.51 442.37L718.66 444.46L730.81 446.69L742.95 449.33L755.10 452.31" stroke="#f07070" stroke-width="0.75" fill="none"/><path d="M74.80 326.68L78.90 334.18L70.70 334.18Z" fill="#ee2e2e"/><path d="M86.94 335.32L91.04 342.82L82.84 342.82Z" fill="#ee2e2e"/><path d="M99.09 349.15L103.19 356.65L94.99 356.65Z" fill="#ee2e2e"/><path d="M111.24 363.85L115.34 371.35L107.14 371.35Z" fill="#ee2e2e"/><path d="M123.39 382.00L127.49 389.50L119.29 389.50Z" fill="#ee2e2e"/><path d="M135.54 397.99L139.64 405.49L131.44 405.49Z" fill="#ee2e2e"/><path d="M147.69 411.82L151.79 419.32L143.59 419.32Z" fill="#ee2e2e"/><path d="M159.83 423.49L163.93 430.99L155.73 430.99Z" fill="#ee2e2e"/><path d="M171.98 433.43L176.08 440.93L167.88 440.93Z" fill="#ee2e2e"/><path d="M184.13 442.08L188.23 449.58L180.03 449.58Z" fill="#ee2e2e"/><path d="M196.28 448.56L200.38 456.06L192.18 456.06Z" fill="#ee2e2e"/><path d="M208.43 454.18L212.53 461.68L204.33 461.68Z" fill="#ee2e2e"/><path d="M220.58 457.64L224.68 465.14L216.48 465.14Z" fill="#ee2e2e"/><path d="M232.72 460.66L236.82 468.16L228.62 468.16Z" fill="#ee2e2e"/><path d="M244.87 461.96L248.97 469.46L240.77 469.46Z" fill="#ee2e2e"/><path d="M257.02 463.69L261.12 471.19L252.92 471.19Z" fill="#ee2e2e"/><path d="M269.17 463.69L273.27 471.19L265.07 471.19Z" fill="#ee2e2e"/><path d="M281.32 462.81L285.42 470.31L277.22 470.31Z" fill="#ee2e2e"/><path d="M293.47 461.09L297.57 468.59L289.37 468.59Z" fill="#ee2e2e"/><path d="M305.62 458.90L309.72 466.40L301.51 466.40Z" fill="#ee2e2e"/><path d="M317.76 456.34L321.86 463.84L313.66 463.84Z" fill="#ee2e2e"/><path d="M329.91 453.87L334.01 461.37L325.81 461.37Z" fill="#ee2e2e"/><path d="M342.06 451.38L346.16 458.88L337.96 458.88Z" fill="#ee2e2e"/><path d="M354.21 448.99L358.31 456.49L350.11 456.49Z" fill="#ee2e2e"/><path d="M366.36 446.77L370.46 454.27L362.26 454.27Z" fill="#ee2e2e"/><path d="M378.50 444.64L382.61 452.14L374.40 452.14Z" fill="#ee2e2e"/><path d="M390.65 442.51L394.75 450.01L386.55 450.01Z" fill="#ee2e2e"/><path d="M402.80 440.24L406.90 447.74L398.70 447.74Z" fill="#ee2e2e"/><path d="M414.95 438.19L419.05 445.69L410.85 445.69Z" fill="#ee2e2e"/><path d="M427.10 436.52L431.20 444.02L423.00 444.02Z" fill="#ee2e2e"/><path d="M439.25 435.01L443.35 442.51L435.15 442.51Z" fill="#ee2e2e"/><path d="M451.40 433.64L455.50 441.14L447.30 441.14Z" fill="#ee2e2e"/><path d="M463.54 432.39L467.64 439.89L459.44 439.89Z" fill="#ee2e2e"/><path d="M475.69 431.27L479.79 438.77L471.59 438.77Z" fill="#ee2e2e"/><path d="M487.84 430.23L491.94 437.73L483.74 437.73Z" fill="#ee2e2e"/><path d="M499.99 429.26L504.09 436.76L495.89 436.76Z" fill="#ee2e2e"/><path d="M512.14 428.37L516.24 435.87L508.04 435.87Z" fill="#ee2e2e"/><path d="M524.28 427.59L528.38 435.09L520.18 435.09Z" fill="#ee2e2e"/><path d="M536.43 426.95L540.53 434.45L532.33 434.45Z" fill="#ee2e2e"/><path d="M548.58 426.36L552.68 433.86L544.48 433.86Z" fill="#ee2e2e"/><path d="M560.73 425.80L564.83 433.30L556.63 433.30Z" fill="#ee2e2e"/><path d="M572.88 425.38L576.98 432.88L568.78 432.88Z" fill="#ee2e2e"/><path d="M585.03 425.22L589.13 432.72L580.93 432.72Z" fill="#ee2e2e"/><path d="M597.17 425.67L601.27 433.17L593.07 433.17Z" fill="#ee2e2e"/><path d="M609.32 426.52L613.42 434.02L605.22 434.02Z" fill="#ee2e2e"/><path d="M621.47 427.51L625.57 435.01L617.37 435.01Z" fill="#ee2e2e"/><path d="M633.62 428.68L637.72 436.18L629.52 436.18Z" fill="#ee2e2e"/><path d="M645.77 429.92L649.87 437.42L641.67 437.42Z" fill="#ee2e2e"/><path d="M657.92 431.27L662.02 438.77L653.82 438.77Z" fill="#ee2e2e"/><path d="M670.07 432.69L674.17 440.19L665.97 440.19Z" fill="#ee2e2e"/><path d="M682.21 434.30L686.31 441.80L678.11 441.80Z" fill="#ee2e2e"/><path d="M694.36 436.36L698.46 443.86L690.26 443.86Z" fill="#ee2e2e"/><path d="M706.51 438.62L710.61 446.12L702.41 446.12Z" fill="#ee2e2e"/><path d="M718.66 440.71L722.76 448.21L714.56 448.21Z" fill="#ee2e2e"/><path d="M730.81 442.94L734.91 450.44L726.71 450.44Z" fill="#ee2e2e"/><path d="M742.95 445.58L747.05 453.08L738.85 453.08Z" fill="#ee2e2e"/><path d="M755.10 448.56L759.20 456.06L751.00 456.06Z" fill="#ee2e2e"/></g><g><path d="M74.80 333.88L86.94 325.24L99.09 338.20L111.24 352.04L123.39 366.30L135.54 378.96L147.69 390.07L159.83 399.55L171.98 407.36L184.13 413.07L196.28 418.16L208.43 423.89L220.58 428.97L232.72 432.43L244.87 434.87L257.02 436.89L269.17 438.48L281.32 439.75L293.47 440.64L305.62 441.23L317.76 441.50L329.91 441.37L342.06 441.07L354.21 440.50L366.36 439.78L378.50 439.15L390.65 438.48L402.80 437.62L414.95 436.75L427.10 436.03L439.25 435.37L451.40 434.75L463.54 434.16L475.69 433.59L487.84 433.05L499.99 432.53L512.14 432.00L524.28 431.41L536.43 430.80L548.58 430.24L560.73 429.83L572.88 429.53L585.03 429.25L597.17 429.05L609.32 428.97L621.47 429.04L633.62 429.22L645.77 429.49L657.92 429.83L670.07 430.56L682.21 431.71L694.36 432.86L706.51 433.86L718.66 434.86L730.81 435.89L742.95 436.95L755.10 438.05" stroke="#b0e898" stroke-width="0.75" fill="none"/><path d="M72.40 331.48L77.20 336.28M72.40 336.28L77.20 331.48" stroke="#88dd66" stroke-width="0.9" fill="none"/><path d="M84.54 322.84L89.34 327.64M84.54 327.64L89.34 322.84" stroke="#88dd66" stroke-width="0.9" fill="none"/><path d="M96.69 335.81L101.49 340.60M96.69 340.60L101.49 335.81" stroke="#88dd66" stroke-width="0.9" fill="none"/><path d="M108.84 349.64L113.64 354.44M108.84 354.44L113.64 349.64" stroke="#88dd66" stroke-width="0.9" fill="none"/><path d="M120.99 363.90L125.79 368.70M120.99 368.70L125.79 363.90" stroke="#88dd66" stroke-width="0.9" fill="none"/><path d="M133.14 376.56L137.94 381.36M133.14 381.36L137.94 376.56" stroke="#88dd66" stroke-width="0.9" fill="none"/><path d="M145.29 387.67L150.09 392.47M145.29 392.47L150.09 387.67" stroke="#88dd66" stroke-width="0.9" fill="none"/><path d="M157.43 397.15L162.23 401.95M157.43 401.95L162.23 397.15" stroke="#88dd66" stroke-width="0.9" fill="none"/><path d="M169.58 404.96L174.38 409.76M169.58 409.76L174.38 404.96" stroke="#88dd66" stroke-width="0.9" fill="none"/><path d="M181.73 410.67L186.53 415.47M181.73 415.47L186.53 410.67" stroke="#88dd66" stroke-width="0.9" fill="none"/><path d="M193.88 415.76L198.68 420.56M193.88 420.56L198.68 415.76" stroke="#88dd66" stroke-width="0.9" fill="none"/><path d="M206.03 421.49L210.83 426.29M206.03 426.29L210.83 421.49" stroke="#88dd66" stroke-width="0.9" fill="none"/><path d="M218.18 426.57L222.98 431.37M218.18 431.37L222.98 426.57" stroke="#88dd66" stroke-width="0.9" fill="none"/><path d="M230.32 430.03L235.12 434.83M230.32 434.83L235.12 430.03" stroke="#88dd66" stroke-width="0.9" fill="none"/><path d="M242.47 432.47L247.27 437.27M242.47 437.27L247.27 432.47" stroke="#88dd66" stroke-width="0.9" fill="none"/><path d="M254.62 434.49L259.42 439.29M254.62 439.29L259.42 434.49" stroke="#88dd66" stroke-width="0.9" fill="none"/><path d="M266.77 436.08L271.57 440.88M266.77 440.88L271.57 436.08" stroke="#88dd66" stroke-width="0.9" fill="none"/><path d="M278.92 437.35L283.72 442.15M278.92 442.15L283.72 437.35" stroke="#88dd66" stroke-width="0.9" fill="none"/><path d="M291.07 438.24L295.87 443.04M291.07 443.04L295.87 438.24" stroke="#88dd66" stroke-width="0.9" fill="none"/><path d="M303.22 438.83L308.01 443.63M303.22 443.63L308.01 438.83" stroke="#88dd66" stroke-width="0.9" fill="none"/><path d="M315.36 439.10L320.16 443.90M315.36 443.90L320.16 439.10" stroke="#88dd66" stroke-width="0.9" fill="none"/><path d="M327.51 438.97L332.31 443.77M327.51 443.77L332.31 438.97" stroke="#88dd66" stroke-width="0.9" fill="none"/><path d="M339.66 438.67L344.46 443.47M339.66 443.47L344.46 438.67" stroke="#88dd66" stroke-width="0.9" fill="none"/><path d="M351.81 438.10L356.61 442.90M351.81 442.90L356.61 438.10" stroke="#88dd66" stroke-width="0.9" fill="none"/><path d="M363.96 437.38L368.76 442.18M363.96 442.18L368.76 437.38" stroke="#88dd66" stroke-width="0.9" fill="none"/><path d="M376.11 436.75L380.90 441.55M376.11 441.55L380.90 436.75" stroke="#88dd66" stroke-width="0.9" fill="none"/><path d="M388.25 436.08L393.05 440.88M388.25 440.88L393.05 436.08" stroke="#88dd66" stroke-width="0.9" fill="none"/><path d="M400.40 435.22L405.20 440.02M400.40 440.02L405.20 435.22" stroke="#88dd66" stroke-width="0.9" fill="none"/><path d="M412.55 434.35L417.35 439.15M412.55 439.15L417.35 434.35" stroke="#88dd66" stroke-width="0.9" fill="none"/><path d="M424.70 433.63L429.50 438.43M424.70 438.43L429.50 433.63" stroke="#88dd66" stroke-width="0.9" fill="none"/><path d="M436.85 432.97L441.65 437.77M436.85 437.77L441.65 432.97" stroke="#88dd66" stroke-width="0.9" fill="none"/><path d="M449.00 432.35L453.80 437.15M449.00 437.15L453.80 432.35" stroke="#88dd66" stroke-width="0.9" fill="none"/><path d="M461.14 431.76L465.94 436.56M461.14 436.56L465.94 431.76" stroke="#88dd66" stroke-width="0.9" fill="none"/><path d="M473.29 431.19L478.09 435.99M473.29 435.99L478.09 431.19" stroke="#88dd66" stroke-width="0.9" fill="none"/><path d="M485.44 430.65L490.24 435.45M485.44 435.45L490.24 430.65" stroke="#88dd66" stroke-width="0.9" fill="none"/><path d="M497.59 430.13L502.39 434.93M497.59 434.93L502.39 430.13" stroke="#88dd66" stroke-width="0.9" fill="none"/><path d="M509.74 429.60L514.54 434.40M509.74 434.40L514.54 429.60" stroke="#88dd66" stroke-width="0.9" fill="none"/><path d="M521.88 429.01L526.68 433.81M521.88 433.81L526.68 429.01" stroke="#88dd66" stroke-width="0.9" fill="none"/><path d="M534.03 428.40L538.83 433.20M534.03 433.20L538.83 428.40" stroke="#88dd66" stroke-width="0.9" fill="none"/><path d="M546.18 427.84L550.98 432.64M546.18 432.64L550.98 427.84" stroke="#88dd66" stroke-width="0.9" fill="none"/><path d="M558.33 427.43L563.13 432.23M558.33 432.23L563.13 427.43" stroke="#88dd66" stroke-width="0.9" fill="none"/><path d="M570.48 427.13L575.28 431.93M570.48 431.93L575.28 427.13" stroke="#88dd66" stroke-width="0.9" fill="none"/><path d="M582.63 426.85L587.43 431.65M582.63 431.65L587.43 426.85" stroke="#88dd66" stroke-width="0.9" fill="none"/><path d="M594.77 426.65L599.57 431.45M594.77 431.45L599.57 426.65" stroke="#88dd66" stroke-width="0.9" fill="none"/><path d="M606.92 426.57L611.72 431.37M606.92 431.37L611.72 426.57" stroke="#88dd66" stroke-width="0.9" fill="none"/><path d="M619.07 426.64L623.87 431.44M619.07 431.44L623.87 426.64" stroke="#88dd66" stroke-width="0.9" fill="none"/><path d="M631.22 426.82L636.02 431.62M631.22 431.62L636.02 426.82" stroke="#88dd66" stroke-width="0.9" fill="none"/><path d="M643.37 427.09L648.17 431.89M643.37 431.89L648.17 427.09" stroke="#88dd66" stroke-width="0.9" fill="none"/><path d="M655.52 427.43L660.32 432.23M655.52 432.23L660.32 427.43" stroke="#88dd66" stroke-width="0.9" fill="none"/><path d="M667.67 428.16L672.47 432.96M667.67 432.96L672.47 428.16" stroke="#88dd66" stroke-width="0.9" fill="none"/><path d="M679.81 429.31L684.61 434.11M679.81 434.11L684.61 429.31" stroke="#88dd66" stroke-width="0.9" fill="none"/><path d="M691.96 430.46L696.76 435.26M691.96 435.26L696.76 430.46" stroke="#88dd66" stroke-width="0.9" fill="none"/><path d="M704.11 431.46L708.91 436.26M704.11 436.26L708.91 431.46" stroke="#88dd66" stroke-width="0.9" fill="none"/><path d="M716.26 432.46L721.06 437.26M716.26 437.26L721.06 432.46" stroke="#88dd66" stroke-width="0.9" fill="none"/><path d="M728.41 433.49L733.21 438.29M728.41 438.29L733.21 433.49" stroke="#88dd66" stroke-width="0.9" fill="none"/><path d="M740.55 434.55L745.35 439.35M740.55 439.35L745.35 434.55" stroke="#88dd66" stroke-width="0.9" fill="none"/><path d="M752.70 435.65L757.50 440.45M752.70 440.45L757.50 435.65" stroke="#88dd66" stroke-width="0.9" fill="none"/></g><g><path d="M74.80 307.95L86.94 305.79L99.09 320.92L111.24 338.20L123.39 357.65L135.54 375.67L147.69 392.23L159.83 406.93L171.98 420.33L184.13 432.50L196.28 444.10L208.43 456.07L220.58 467.92L232.72 478.67L244.87 488.16L257.02 496.82L269.17 504.61L281.32 511.55L293.47 517.57L305.62 522.63L317.76 527.08L329.91 531.07L342.06 534.86L354.21 538.75L366.36 541.78L378.50 544.37L390.65 546.10L402.80 546.96L414.95 547.83L427.10 547.83L439.25 547.63L451.40 547.14L463.54 546.53L475.69 545.75L487.84 544.70L499.99 543.51L512.14 542.14L524.28 540.53L536.43 538.75L548.58 536.76L560.73 534.43L572.88 531.50L585.03 528.38L597.17 525.54L609.32 522.76L621.47 520.02L633.62 517.14L645.77 513.85L657.92 510.23L670.07 506.09L682.21 502.01L694.36 498.81L706.51 495.53L718.66 491.21L730.81 486.89L742.95 483.86L755.10 480.40" stroke="#c8a0cc" stroke-width="0.75" fill="none"/><path d="M71.60 307.95H78.00M74.80 304.75V311.15M72.53 305.69L77.06 310.21M72.53 310.21L77.06 305.69" stroke="#a47cb0" stroke-width="0.85" fill="none"/><path d="M83.74 305.79H90.14M86.94 302.59V308.99M84.68 303.53L89.21 308.05M84.68 308.05L89.21 303.53" stroke="#a47cb0" stroke-width="0.85" fill="none"/><path d="M95.89 320.92H102.29M99.09 317.72V324.12M96.83 318.65L101.36 323.18M96.83 323.18L101.36 318.65" stroke="#a47cb0" stroke-width="0.85" fill="none"/><path d="M108.04 338.20H114.44M111.24 335.00V341.40M108.98 335.94L113.50 340.47M108.98 340.47L113.50 335.94" stroke="#a47cb0" stroke-width="0.85" fill="none"/><path d="M120.19 357.65H126.59M123.39 354.45V360.85M121.13 355.39L125.65 359.92M121.13 359.92L125.65 355.39" stroke="#a47cb0" stroke-width="0.85" fill="none"/><path d="M132.34 375.67H138.74M135.54 372.47V378.87M133.28 373.41L137.80 377.94M133.28 377.94L137.80 373.41" stroke="#a47cb0" stroke-width="0.85" fill="none"/><path d="M144.49 392.23H150.89M147.69 389.03V395.43M145.42 389.97L149.95 394.49M145.42 394.49L149.95 389.97" stroke="#a47cb0" stroke-width="0.85" fill="none"/><path d="M156.63 406.93H163.03M159.83 403.73V410.13M157.57 404.67L162.10 409.20M157.57 409.20L162.10 404.67" stroke="#a47cb0" stroke-width="0.85" fill="none"/><path d="M168.78 420.33H175.18M171.98 417.13V423.53M169.72 418.06L174.25 422.59M169.72 422.59L174.25 418.06" stroke="#a47cb0" stroke-width="0.85" fill="none"/><path d="M180.93 432.50H187.33M184.13 429.30V435.70M181.87 430.24L186.39 434.76M181.87 434.76L186.39 430.24" stroke="#a47cb0" stroke-width="0.85" fill="none"/><path d="M193.08 444.10H199.48M196.28 440.90V447.30M194.02 441.84L198.54 446.36M194.02 446.36L198.54 441.84" stroke="#a47cb0" stroke-width="0.85" fill="none"/><path d="M205.23 456.07H211.63M208.43 452.87V459.27M206.17 453.81L210.69 458.34M206.17 458.34L210.69 453.81" stroke="#a47cb0" stroke-width="0.85" fill="none"/><path d="M217.38 467.92H223.78M220.58 464.72V471.12M218.31 465.66L222.84 470.19M218.31 470.19L222.84 465.66" stroke="#a47cb0" stroke-width="0.85" fill="none"/><path d="M229.53 478.67H235.92M232.72 475.47V481.87M230.46 476.41L234.99 480.94M230.46 480.94L234.99 476.41" stroke="#a47cb0" stroke-width="0.85" fill="none"/><path d="M241.67 488.16H248.07M244.87 484.96V491.36M242.61 485.90L247.14 490.42M242.61 490.42L247.14 485.90" stroke="#a47cb0" stroke-width="0.85" fill="none"/><path d="M253.82 496.82H260.22M257.02 493.62V500.02M254.76 494.56L259.28 499.08M254.76 499.08L259.28 494.56" stroke="#a47cb0" stroke-width="0.85" fill="none"/><path d="M265.97 504.61H272.37M269.17 501.41V507.81M266.91 502.35L271.43 506.87M266.91 506.87L271.43 502.35" stroke="#a47cb0" stroke-width="0.85" fill="none"/><path d="M278.12 511.55H284.52M281.32 508.35V514.75M279.06 509.29L283.58 513.82M279.06 513.82L283.58 509.29" stroke="#a47cb0" stroke-width="0.85" fill="none"/><path d="M290.27 517.57H296.67M293.47 514.37V520.77M291.20 515.31L295.73 519.84M291.20 519.84L295.73 515.31" stroke="#a47cb0" stroke-width="0.85" fill="none"/><path d="M302.42 522.63H308.81M305.62 519.43V525.83M303.35 520.37L307.88 524.89M303.35 524.89L307.88 520.37" stroke="#a47cb0" stroke-width="0.85" fill="none"/><path d="M314.56 527.08H320.96M317.76 523.88V530.28M315.50 524.82L320.03 529.35M315.50 529.35L320.03 524.82" stroke="#a47cb0" stroke-width="0.85" fill="none"/><path d="M326.71 531.07H333.11M329.91 527.87V534.27M327.65 528.81L332.17 533.33M327.65 533.33L332.17 528.81" stroke="#a47cb0" stroke-width="0.85" fill="none"/><path d="M338.86 534.86H345.26M342.06 531.66V538.06M339.80 532.60L344.32 537.12M339.80 537.12L344.32 532.60" stroke="#a47cb0" stroke-width="0.85" fill="none"/><path d="M351.01 538.75H357.41M354.21 535.55V541.95M351.95 536.49L356.47 541.01M351.95 541.01L356.47 536.49" stroke="#a47cb0" stroke-width="0.85" fill="none"/><path d="M363.16 541.78H369.56M366.36 538.58V544.98M364.09 539.52L368.62 544.04M364.09 544.04L368.62 539.52" stroke="#a47cb0" stroke-width="0.85" fill="none"/><path d="M375.31 544.37H381.70M378.50 541.17V547.57M376.24 542.11L380.77 546.63M376.24 546.63L380.77 542.11" stroke="#a47cb0" stroke-width="0.85" fill="none"/><path d="M387.45 546.10H393.85M390.65 542.90V549.30M388.39 543.84L392.92 548.36M388.39 548.36L392.92 543.84" stroke="#a47cb0" stroke-width="0.85" fill="none"/><path d="M399.60 546.96H406.00M402.80 543.76V550.16M400.54 544.70L405.06 549.23M400.54 549.23L405.06 544.70" stroke="#a47cb0" stroke-width="0.85" fill="none"/><path d="M411.75 547.83H418.15M414.95 544.63V551.03M412.69 545.57L417.21 550.09M412.69 550.09L417.21 545.57" stroke="#a47cb0" stroke-width="0.85" fill="none"/><path d="M423.90 547.83H430.30M427.10 544.63V551.03M424.84 545.57L429.36 550.09M424.84 550.09L429.36 545.57" stroke="#a47cb0" stroke-width="0.85" fill="none"/><path d="M436.05 547.63H442.45M439.25 544.43V550.83M436.98 545.36L441.51 549.89M436.98 549.89L441.51 545.36" stroke="#a47cb0" stroke-width="0.85" fill="none"/><path d="M448.20 547.14H454.60M451.40 543.94V550.34M449.13 544.87L453.66 549.40M449.13 549.40L453.66 544.87" stroke="#a47cb0" stroke-width="0.85" fill="none"/><path d="M460.34 546.53H466.74M463.54 543.33V549.73M461.28 544.27L465.81 548.79M461.28 548.79L465.81 544.27" stroke="#a47cb0" stroke-width="0.85" fill="none"/><path d="M472.49 545.75H478.89M475.69 542.55V548.95M473.43 543.49L477.95 548.02M473.43 548.02L477.95 543.49" stroke="#a47cb0" stroke-width="0.85" fill="none"/><path d="M484.64 544.70H491.04M487.84 541.50V547.90M485.58 542.44L490.10 546.97M485.58 546.97L490.10 542.44" stroke="#a47cb0" stroke-width="0.85" fill="none"/><path d="M496.79 543.51H503.19M499.99 540.31V546.71M497.73 541.24L502.25 545.77M497.73 545.77L502.25 541.24" stroke="#a47cb0" stroke-width="0.85" fill="none"/><path d="M508.94 542.14H515.34M512.14 538.94V545.34M509.87 539.87L514.40 544.40M509.87 544.40L514.40 539.87" stroke="#a47cb0" stroke-width="0.85" fill="none"/><path d="M521.08 540.53H527.49M524.28 537.33V543.73M522.02 538.27L526.55 542.79M522.02 542.79L526.55 538.27" stroke="#a47cb0" stroke-width="0.85" fill="none"/><path d="M533.23 538.75H539.63M536.43 535.55V541.95M534.17 536.49L538.70 541.01M534.17 541.01L538.70 536.49" stroke="#a47cb0" stroke-width="0.85" fill="none"/><path d="M545.38 536.76H551.78M548.58 533.56V539.96M546.32 534.50L550.84 539.02M546.32 539.02L550.84 534.50" stroke="#a47cb0" stroke-width="0.85" fill="none"/><path d="M557.53 534.43H563.93M560.73 531.23V537.63M558.47 532.17L562.99 536.69M558.47 536.69L562.99 532.17" stroke="#a47cb0" stroke-width="0.85" fill="none"/><path d="M569.68 531.50H576.08M572.88 528.30V534.70M570.62 529.24L575.14 533.77M570.62 533.77L575.14 529.24" stroke="#a47cb0" stroke-width="0.85" fill="none"/><path d="M581.83 528.38H588.23M585.03 525.18V531.58M582.76 526.12L587.29 530.64M582.76 530.64L587.29 526.12" stroke="#a47cb0" stroke-width="0.85" fill="none"/><path d="M593.97 525.54H600.38M597.17 522.34V528.74M594.91 523.28L599.44 527.81M594.91 527.81L599.44 523.28" stroke="#a47cb0" stroke-width="0.85" fill="none"/><path d="M606.12 522.76H612.52M609.32 519.56V525.96M607.06 520.50L611.59 525.02M607.06 525.02L611.59 520.50" stroke="#a47cb0" stroke-width="0.85" fill="none"/><path d="M618.27 520.02H624.67M621.47 516.82V523.22M619.21 517.76L623.73 522.29M619.21 522.29L623.73 517.76" stroke="#a47cb0" stroke-width="0.85" fill="none"/><path d="M630.42 517.14H636.82M633.62 513.94V520.34M631.36 514.88L635.88 519.40M631.36 519.40L635.88 514.88" stroke="#a47cb0" stroke-width="0.85" fill="none"/><path d="M642.57 513.85H648.97M645.77 510.65V517.05M643.51 511.59L648.03 516.11M643.51 516.11L648.03 511.59" stroke="#a47cb0" stroke-width="0.85" fill="none"/><path d="M654.72 510.23H661.12M657.92 507.03V513.43M655.65 507.96L660.18 512.49M655.65 512.49L660.18 507.96" stroke="#a47cb0" stroke-width="0.85" fill="none"/><path d="M666.87 506.09H673.27M670.07 502.89V509.29M667.80 503.83L672.33 508.35M667.80 508.35L672.33 503.83" stroke="#a47cb0" stroke-width="0.85" fill="none"/><path d="M679.01 502.01H685.41M682.21 498.81V505.21M679.95 499.75L684.48 504.28M679.95 504.28L684.48 499.75" stroke="#a47cb0" stroke-width="0.85" fill="none"/><path d="M691.16 498.81H697.56M694.36 495.61V502.01M692.10 496.55L696.62 501.07M692.10 501.07L696.62 496.55" stroke="#a47cb0" stroke-width="0.85" fill="none"/><path d="M703.31 495.53H709.71M706.51 492.33V498.73M704.25 493.27L708.77 497.79M704.25 497.79L708.77 493.27" stroke="#a47cb0" stroke-width="0.85" fill="none"/><path d="M715.46 491.21H721.86M718.66 488.01V494.41M716.40 488.95L720.92 493.47M716.40 493.47L720.92 488.95" stroke="#a47cb0" stroke-width="0.85" fill="none"/><path d="M727.61 486.89H734.01M730.81 483.69V490.09M728.54 484.62L733.07 489.15M728.54 489.15L733.07 484.62" stroke="#a47cb0" stroke-width="0.85" fill="none"/><path d="M739.75 483.86H746.15M742.95 480.66V487.06M740.69 481.60L745.22 486.12M740.69 486.12L745.22 481.60" stroke="#a47cb0" stroke-width="0.85" fill="none"/><path d="M751.90 480.40H758.30M755.10 477.20V483.60M752.84 478.14L757.37 482.67M752.84 482.67L757.37 478.14" stroke="#a47cb0" stroke-width="0.85" fill="none"/></g><g><path d="M74.80 282.88L86.94 261.27L99.09 257.38L111.24 263.43L123.39 272.51L135.54 285.47L147.69 298.44L159.83 311.41L171.98 324.37L184.13 338.64L196.28 351.40L208.43 363.71L220.58 376.24L232.72 388.34L244.87 399.15L257.02 410.38L269.17 420.33L281.32 430.27L293.47 438.48L305.62 446.38L317.76 454.04L329.91 461.39L342.06 466.57L354.21 471.23L366.36 475.65L378.50 479.97L390.65 483.43L402.80 486.02L414.95 488.18L427.10 490.34L439.25 492.07L451.40 493.37L463.54 494.67L475.69 495.10L487.84 495.96L499.99 495.53L512.14 494.67L524.28 493.62L536.43 492.51L548.58 491.36L560.73 490.34L572.88 489.70L585.03 489.05L597.17 488.06L609.32 486.89L621.47 485.64L633.62 484.29L645.77 482.78L657.92 481.27L670.07 479.99L682.21 478.67L694.36 477.01L706.51 475.22L718.66 473.43L730.81 471.76L742.95 470.36L755.10 469.17" stroke="#99dddd" stroke-width="0.75" fill="none"/><circle cx="74.80" cy="282.88" r="3.8" fill="#5fc4c8"/><circle cx="86.94" cy="261.27" r="3.8" fill="#5fc4c8"/><circle cx="99.09" cy="257.38" r="3.8" fill="#5fc4c8"/><circle cx="111.24" cy="263.43" r="3.8" fill="#5fc4c8"/><circle cx="123.39" cy="272.51" r="3.8" fill="#5fc4c8"/><circle cx="135.54" cy="285.47" r="3.8" fill="#5fc4c8"/><circle cx="147.69" cy="298.44" r="3.8" fill="#5fc4c8"/><circle cx="159.83" cy="311.41" r="3.8" fill="#5fc4c8"/><circle cx="171.98" cy="324.37" r="3.8" fill="#5fc4c8"/><circle cx="184.13" cy="338.64" r="3.8" fill="#5fc4c8"/><circle cx="196.28" cy="351.40" r="3.8" fill="#5fc4c8"/><circle cx="208.43" cy="363.71" r="3.8" fill="#5fc4c8"/><circle cx="220.58" cy="376.24" r="3.8" fill="#5fc4c8"/><circle cx="232.72" cy="388.34" r="3.8" fill="#5fc4c8"/><circle cx="244.87" cy="399.15" r="3.8" fill="#5fc4c8"/><circle cx="257.02" cy="410.38" r="3.8" fill="#5fc4c8"/><circle cx="269.17" cy="420.33" r="3.8" fill="#5fc4c8"/><circle cx="281.32" cy="430.27" r="3.8" fill="#5fc4c8"/><circle cx="293.47" cy="438.48" r="3.8" fill="#5fc4c8"/><circle cx="305.62" cy="446.38" r="3.8" fill="#5fc4c8"/><circle cx="317.76" cy="454.04" r="3.8" fill="#5fc4c8"/><circle cx="329.91" cy="461.39" r="3.8" fill="#5fc4c8"/><circle cx="342.06" cy="466.57" r="3.8" fill="#5fc4c8"/><circle cx="354.21" cy="471.23" r="3.8" fill="#5fc4c8"/><circle cx="366.36" cy="475.65" r="3.8" fill="#5fc4c8"/><circle cx="378.50" cy="479.97" r="3.8" fill="#5fc4c8"/><circle cx="390.65" cy="483.43" r="3.8" fill="#5fc4c8"/><circle cx="402.80" cy="486.02" r="3.8" fill="#5fc4c8"/><circle cx="414.95" cy="488.18" r="3.8" fill="#5fc4c8"/><circle cx="427.10" cy="490.34" r="3.8" fill="#5fc4c8"/><circle cx="439.25" cy="492.07" r="3.8" fill="#5fc4c8"/><circle cx="451.40" cy="493.37" r="3.8" fill="#5fc4c8"/><circle cx="463.54" cy="494.67" r="3.8" fill="#5fc4c8"/><circle cx="475.69" cy="495.10" r="3.8" fill="#5fc4c8"/><circle cx="487.84" cy="495.96" r="3.8" fill="#5fc4c8"/><circle cx="499.99" cy="495.53" r="3.8" fill="#5fc4c8"/><circle cx="512.14" cy="494.67" r="3.8" fill="#5fc4c8"/><circle cx="524.28" cy="493.62" r="3.8" fill="#5fc4c8"/><circle cx="536.43" cy="492.51" r="3.8" fill="#5fc4c8"/><circle cx="548.58" cy="491.36" r="3.8" fill="#5fc4c8"/><circle cx="560.73" cy="490.34" r="3.8" fill="#5fc4c8"/><circle cx="572.88" cy="489.70" r="3.8" fill="#5fc4c8"/><circle cx="585.03" cy="489.05" r="3.8" fill="#5fc4c8"/><circle cx="597.17" cy="488.06" r="3.8" fill="#5fc4c8"/><circle cx="609.32" cy="486.89" r="3.8" fill="#5fc4c8"/><circle cx="621.47" cy="485.64" r="3.8" fill="#5fc4c8"/><circle cx="633.62" cy="484.29" r="3.8" fill="#5fc4c8"/><circle cx="645.77" cy="482.78" r="3.8" fill="#5fc4c8"/><circle cx="657.92" cy="481.27" r="3.8" fill="#5fc4c8"/><circle cx="670.07" cy="479.99" r="3.8" fill="#5fc4c8"/><circle cx="682.21" cy="478.67" r="3.8" fill="#5fc4c8"/><circle cx="694.36" cy="477.01" r="3.8" fill="#5fc4c8"/><circle cx="706.51" cy="475.22" r="3.8" fill="#5fc4c8"/><circle cx="718.66" cy="473.43" r="3.8" fill="#5fc4c8"/><circle cx="730.81" cy="471.76" r="3.8" fill="#5fc4c8"/><circle cx="742.95" cy="470.36" r="3.8" fill="#5fc4c8"/><circle cx="755.10" cy="469.17" r="3.8" fill="#5fc4c8"/></g><g><path d="M74.80 310.11L86.94 294.12L99.09 288.50L111.24 288.93L123.39 294.55L135.54 302.33L147.69 312.27L159.83 320.05L171.98 329.56L184.13 337.34L196.28 343.39L208.43 348.58L220.58 352.52L232.72 356.36L244.87 361.11L257.02 362.41L269.17 363.27L281.32 364.14L293.47 364.57L305.62 364.14L317.76 363.71L329.91 362.75L342.06 361.54L354.21 360.49L366.36 359.38L378.50 358.09L390.65 356.79L402.80 355.69L414.95 354.63L427.10 353.48L439.25 352.47L451.40 351.70L463.54 351.17L475.69 350.87L487.84 350.74L499.99 350.74L512.14 351.20L524.28 352.04L536.43 352.83L548.58 353.76L560.73 354.87L572.88 356.36L585.03 358.95L597.17 361.11L609.32 363.71L621.47 366.73L633.62 369.76L645.77 373.65L657.92 377.10L670.07 380.99L682.21 385.32L694.36 390.50L706.51 395.69L718.66 400.88L730.81 406.93L742.95 413.41L755.10 418.60" stroke="#ffff66" stroke-width="0.75" fill="none"/><path d="M74.80 313.86L79.00 306.36L70.60 306.36Z" fill="#ffff00"/><path d="M86.94 297.87L91.14 290.37L82.74 290.37Z" fill="#ffff00"/><path d="M99.09 292.25L103.29 284.75L94.89 284.75Z" fill="#ffff00"/><path d="M111.24 292.68L115.44 285.18L107.04 285.18Z" fill="#ffff00"/><path d="M123.39 298.30L127.59 290.80L119.19 290.80Z" fill="#ffff00"/><path d="M135.54 306.08L139.74 298.58L131.34 298.58Z" fill="#ffff00"/><path d="M147.69 316.02L151.89 308.52L143.49 308.52Z" fill="#ffff00"/><path d="M159.83 323.80L164.03 316.30L155.63 316.30Z" fill="#ffff00"/><path d="M171.98 333.31L176.18 325.81L167.78 325.81Z" fill="#ffff00"/><path d="M184.13 341.09L188.33 333.59L179.93 333.59Z" fill="#ffff00"/><path d="M196.28 347.14L200.48 339.64L192.08 339.64Z" fill="#ffff00"/><path d="M208.43 352.33L212.63 344.83L204.23 344.83Z" fill="#ffff00"/><path d="M220.58 356.27L224.78 348.77L216.38 348.77Z" fill="#ffff00"/><path d="M232.72 360.11L236.92 352.61L228.53 352.61Z" fill="#ffff00"/><path d="M244.87 364.86L249.07 357.36L240.67 357.36Z" fill="#ffff00"/><path d="M257.02 366.16L261.22 358.66L252.82 358.66Z" fill="#ffff00"/><path d="M269.17 367.02L273.37 359.52L264.97 359.52Z" fill="#ffff00"/><path d="M281.32 367.89L285.52 360.39L277.12 360.39Z" fill="#ffff00"/><path d="M293.47 368.32L297.67 360.82L289.27 360.82Z" fill="#ffff00"/><path d="M305.62 367.89L309.81 360.39L301.42 360.39Z" fill="#ffff00"/><path d="M317.76 367.46L321.96 359.96L313.56 359.96Z" fill="#ffff00"/><path d="M329.91 366.50L334.11 359.00L325.71 359.00Z" fill="#ffff00"/><path d="M342.06 365.29L346.26 357.79L337.86 357.79Z" fill="#ffff00"/><path d="M354.21 364.24L358.41 356.74L350.01 356.74Z" fill="#ffff00"/><path d="M366.36 363.13L370.56 355.63L362.16 355.63Z" fill="#ffff00"/><path d="M378.50 361.84L382.70 354.34L374.31 354.34Z" fill="#ffff00"/><path d="M390.65 360.54L394.85 353.04L386.45 353.04Z" fill="#ffff00"/><path d="M402.80 359.44L407.00 351.94L398.60 351.94Z" fill="#ffff00"/><path d="M414.95 358.38L419.15 350.88L410.75 350.88Z" fill="#ffff00"/><path d="M427.10 357.23L431.30 349.73L422.90 349.73Z" fill="#ffff00"/><path d="M439.25 356.22L443.45 348.72L435.05 348.72Z" fill="#ffff00"/><path d="M451.40 355.45L455.60 347.95L447.20 347.95Z" fill="#ffff00"/><path d="M463.54 354.92L467.74 347.42L459.34 347.42Z" fill="#ffff00"/><path d="M475.69 354.62L479.89 347.12L471.49 347.12Z" fill="#ffff00"/><path d="M487.84 354.49L492.04 346.99L483.64 346.99Z" fill="#ffff00"/><path d="M499.99 354.49L504.19 346.99L495.79 346.99Z" fill="#ffff00"/><path d="M512.14 354.95L516.34 347.45L507.94 347.45Z" fill="#ffff00"/><path d="M524.28 355.79L528.49 348.29L520.08 348.29Z" fill="#ffff00"/><path d="M536.43 356.58L540.63 349.08L532.23 349.08Z" fill="#ffff00"/><path d="M548.58 357.51L552.78 350.01L544.38 350.01Z" fill="#ffff00"/><path d="M560.73 358.62L564.93 351.12L556.53 351.12Z" fill="#ffff00"/><path d="M572.88 360.11L577.08 352.61L568.68 352.61Z" fill="#ffff00"/><path d="M585.03 362.70L589.23 355.20L580.83 355.20Z" fill="#ffff00"/><path d="M597.17 364.86L601.38 357.36L592.97 357.36Z" fill="#ffff00"/><path d="M609.32 367.46L613.52 359.96L605.12 359.96Z" fill="#ffff00"/><path d="M621.47 370.48L625.67 362.98L617.27 362.98Z" fill="#ffff00"/><path d="M633.62 373.51L637.82 366.01L629.42 366.01Z" fill="#ffff00"/><path d="M645.77 377.40L649.97 369.90L641.57 369.90Z" fill="#ffff00"/><path d="M657.92 380.85L662.12 373.35L653.72 373.35Z" fill="#ffff00"/><path d="M670.07 384.74L674.27 377.24L665.87 377.24Z" fill="#ffff00"/><path d="M682.21 389.07L686.41 381.57L678.01 381.57Z" fill="#ffff00"/><path d="M694.36 394.25L698.56 386.75L690.16 386.75Z" fill="#ffff00"/><path d="M706.51 399.44L710.71 391.94L702.31 391.94Z" fill="#ffff00"/><path d="M718.66 404.63L722.86 397.13L714.46 397.13Z" fill="#ffff00"/><path d="M730.81 410.68L735.01 403.18L726.61 403.18Z" fill="#ffff00"/><path d="M742.95 417.16L747.15 409.66L738.75 409.66Z" fill="#ffff00"/><path d="M755.10 422.35L759.30 414.85L750.90 414.85Z" fill="#ffff00"/></g><g><path d="M74.80 307.95L86.94 301.03L99.09 305.79L111.24 313.14L123.39 323.08L135.54 332.59L147.69 343.39L159.83 353.33L171.98 362.41L184.13 371.49L196.28 379.27L208.43 386.18L220.58 393.53L232.72 399.58L244.87 405.20L257.02 409.95L269.17 414.27L281.32 418.16L293.47 420.76L305.62 422.92L317.76 425.08L329.91 426.38L342.06 426.81L354.21 426.81L366.36 425.94L378.50 425.08L390.65 423.35L402.80 421.19L414.95 418.60L427.10 415.57L439.25 412.55L451.40 409.09L463.54 405.20L475.69 400.01L487.84 396.12L499.99 391.80L512.14 387.05L524.28 381.86L536.43 376.67L548.58 371.05L560.73 366.30L572.88 360.25L585.03 353.76L597.17 348.15L609.32 341.66L621.47 336.04L633.62 329.99L645.77 323.94L657.92 318.32L670.07 311.84L682.21 305.36L694.36 298.87L706.51 291.96L718.66 285.91L730.81 279.86L742.95 272.94L755.10 266.03" stroke="#bbbbbb" stroke-width="0.75" fill="none"/><path d="M71.05 307.95L78.55 303.85L78.55 312.05Z" fill="#999999"/><path d="M83.19 301.03L90.69 296.93L90.69 305.13Z" fill="#999999"/><path d="M95.34 305.79L102.84 301.69L102.84 309.89Z" fill="#999999"/><path d="M107.49 313.14L114.99 309.04L114.99 317.24Z" fill="#999999"/><path d="M119.64 323.08L127.14 318.98L127.14 327.18Z" fill="#999999"/><path d="M131.79 332.59L139.29 328.49L139.29 336.69Z" fill="#999999"/><path d="M143.94 343.39L151.44 339.29L151.44 347.49Z" fill="#999999"/><path d="M156.08 353.33L163.58 349.23L163.58 357.43Z" fill="#999999"/><path d="M168.23 362.41L175.73 358.31L175.73 366.51Z" fill="#999999"/><path d="M180.38 371.49L187.88 367.39L187.88 375.59Z" fill="#999999"/><path d="M192.53 379.27L200.03 375.17L200.03 383.37Z" fill="#999999"/><path d="M204.68 386.18L212.18 382.08L212.18 390.28Z" fill="#999999"/><path d="M216.83 393.53L224.33 389.43L224.33 397.63Z" fill="#999999"/><path d="M228.97 399.58L236.47 395.48L236.47 403.68Z" fill="#999999"/><path d="M241.12 405.20L248.62 401.10L248.62 409.30Z" fill="#999999"/><path d="M253.27 409.95L260.77 405.85L260.77 414.05Z" fill="#999999"/><path d="M265.42 414.27L272.92 410.17L272.92 418.37Z" fill="#999999"/><path d="M277.57 418.16L285.07 414.06L285.07 422.26Z" fill="#999999"/><path d="M289.72 420.76L297.22 416.66L297.22 424.86Z" fill="#999999"/><path d="M301.87 422.92L309.37 418.82L309.37 427.02Z" fill="#999999"/><path d="M314.01 425.08L321.51 420.98L321.51 429.18Z" fill="#999999"/><path d="M326.16 426.38L333.66 422.28L333.66 430.48Z" fill="#999999"/><path d="M338.31 426.81L345.81 422.71L345.81 430.91Z" fill="#999999"/><path d="M350.46 426.81L357.96 422.71L357.96 430.91Z" fill="#999999"/><path d="M362.61 425.94L370.11 421.84L370.11 430.04Z" fill="#999999"/><path d="M374.75 425.08L382.25 420.98L382.25 429.18Z" fill="#999999"/><path d="M386.90 423.35L394.40 419.25L394.40 427.45Z" fill="#999999"/><path d="M399.05 421.19L406.55 417.09L406.55 425.29Z" fill="#999999"/><path d="M411.20 418.60L418.70 414.50L418.70 422.70Z" fill="#999999"/><path d="M423.35 415.57L430.85 411.47L430.85 419.67Z" fill="#999999"/><path d="M435.50 412.55L443.00 408.45L443.00 416.65Z" fill="#999999"/><path d="M447.65 409.09L455.15 404.99L455.15 413.19Z" fill="#999999"/><path d="M459.79 405.20L467.29 401.10L467.29 409.30Z" fill="#999999"/><path d="M471.94 400.01L479.44 395.91L479.44 404.11Z" fill="#999999"/><path d="M484.09 396.12L491.59 392.02L491.59 400.22Z" fill="#999999"/><path d="M496.24 391.80L503.74 387.70L503.74 395.90Z" fill="#999999"/><path d="M508.39 387.05L515.89 382.95L515.89 391.15Z" fill="#999999"/><path d="M520.53 381.86L528.03 377.76L528.03 385.96Z" fill="#999999"/><path d="M532.68 376.67L540.18 372.57L540.18 380.77Z" fill="#999999"/><path d="M544.83 371.05L552.33 366.95L552.33 375.15Z" fill="#999999"/><path d="M556.98 366.30L564.48 362.20L564.48 370.40Z" fill="#999999"/><path d="M569.13 360.25L576.63 356.15L576.63 364.35Z" fill="#999999"/><path d="M581.28 353.76L588.78 349.66L588.78 357.86Z" fill="#999999"/><path d="M593.42 348.15L600.92 344.05L600.92 352.25Z" fill="#999999"/><path d="M605.57 341.66L613.07 337.56L613.07 345.76Z" fill="#999999"/><path d="M617.72 336.04L625.22 331.94L625.22 340.14Z" fill="#999999"/><path d="M629.87 329.99L637.37 325.89L637.37 334.09Z" fill="#999999"/><path d="M642.02 323.94L649.52 319.84L649.52 328.04Z" fill="#999999"/><path d="M654.17 318.32L661.67 314.22L661.67 322.42Z" fill="#999999"/><path d="M666.32 311.84L673.82 307.74L673.82 315.94Z" fill="#999999"/><path d="M678.46 305.36L685.96 301.26L685.96 309.46Z" fill="#999999"/><path d="M690.61 298.87L698.11 294.77L698.11 302.97Z" fill="#999999"/><path d="M702.76 291.96L710.26 287.86L710.26 296.06Z" fill="#999999"/><path d="M714.91 285.91L722.41 281.81L722.41 290.01Z" fill="#999999"/><path d="M727.06 279.86L734.56 275.76L734.56 283.96Z" fill="#999999"/><path d="M739.20 272.94L746.70 268.84L746.70 277.04Z" fill="#999999"/><path d="M751.35 266.03L758.85 261.93L758.85 270.13Z" fill="#999999"/></g><g><path d="M74.80 345.98L86.94 346.42L99.09 357.65L111.24 373.65L123.39 389.21L135.54 401.51L147.69 411.68L159.83 420.13L171.98 426.81L184.13 431.56L196.28 435.45L208.43 438.91L220.58 441.94L232.72 444.53L244.87 446.69L257.02 448.42L269.17 449.72L281.32 450.15L293.47 449.72L305.62 448.63L317.76 447.12L329.91 445.46L342.06 443.62L354.21 441.94L366.36 440.60L378.50 439.44L390.65 438.23L402.80 436.75L414.95 434.69L427.10 432.21L439.25 429.83L451.40 427.81L463.54 425.88L475.69 423.78L487.84 421.33L499.99 418.67L512.14 416.00L524.28 413.51L536.43 410.82L548.58 407.36L560.73 404.77L572.88 402.17L585.03 398.72L597.17 396.12L609.32 393.10L621.47 390.50L633.62 387.48L645.77 384.88L657.92 382.29L670.07 379.70L682.21 377.10L694.36 374.51L706.51 371.05L718.66 368.46L730.81 365.87L742.95 362.84L755.10 359.82" stroke="#bbf3bb" stroke-width="0.75" fill="none"/><path d="M74.80 342.48L75.65 344.81L78.13 344.90L76.18 346.43L76.85 348.82L74.80 347.43L72.74 348.82L73.42 346.43L71.47 344.90L73.94 344.81Z" fill="#99ee99"/><path d="M86.94 342.92L87.80 345.24L90.27 345.34L88.32 346.87L89.00 349.25L86.94 347.87L84.89 349.25L85.57 346.87L83.62 345.34L86.09 345.24Z" fill="#99ee99"/><path d="M99.09 354.15L99.95 356.48L102.42 356.57L100.47 358.10L101.15 360.49L99.09 359.10L97.04 360.49L97.71 358.10L95.76 356.57L98.24 356.48Z" fill="#99ee99"/><path d="M111.24 370.15L112.09 372.47L114.57 372.57L112.62 374.09L113.30 376.48L111.24 375.10L109.18 376.48L109.86 374.09L107.91 372.57L110.39 372.47Z" fill="#99ee99"/><path d="M123.39 385.71L124.24 388.03L126.72 388.12L124.77 389.65L125.45 392.04L123.39 390.66L121.33 392.04L122.01 389.65L120.06 388.12L122.54 388.03Z" fill="#99ee99"/><path d="M135.54 398.01L136.39 400.33L138.87 400.42L136.92 401.95L137.60 404.34L135.54 402.96L133.48 404.34L134.16 401.95L132.21 400.42L134.69 400.33Z" fill="#99ee99"/><path d="M147.69 408.18L148.54 410.51L151.02 410.60L149.07 412.13L149.74 414.51L147.69 413.13L145.63 414.51L146.31 412.13L144.36 410.60L146.83 410.51Z" fill="#99ee99"/><path d="M159.83 416.63L160.69 418.96L163.16 419.05L161.21 420.58L161.89 422.96L159.83 421.58L157.78 422.96L158.46 420.58L156.51 419.05L158.98 418.96Z" fill="#99ee99"/><path d="M171.98 423.31L172.84 425.64L175.31 425.73L173.36 427.26L174.04 429.64L171.98 428.26L169.93 429.64L170.60 427.26L168.65 425.73L171.13 425.64Z" fill="#99ee99"/><path d="M184.13 428.06L184.98 430.38L187.46 430.48L185.51 432.01L186.19 434.39L184.13 433.01L182.07 434.39L182.75 432.01L180.80 430.48L183.28 430.38Z" fill="#99ee99"/><path d="M196.28 431.95L197.13 434.28L199.61 434.37L197.66 435.90L198.34 438.28L196.28 436.90L194.22 438.28L194.90 435.90L192.95 434.37L195.43 434.28Z" fill="#99ee99"/><path d="M208.43 435.41L209.28 437.74L211.76 437.83L209.81 439.36L210.49 441.74L208.43 440.36L206.37 441.74L207.05 439.36L205.10 437.83L207.58 437.74Z" fill="#99ee99"/><path d="M220.58 438.44L221.43 440.76L223.91 440.85L221.96 442.38L222.63 444.77L220.58 443.39L218.52 444.77L219.20 442.38L217.25 440.85L219.72 440.76Z" fill="#99ee99"/><path d="M232.72 441.03L233.58 443.36L236.05 443.45L234.10 444.98L234.78 447.36L232.72 445.98L230.67 447.36L231.35 444.98L229.40 443.45L231.87 443.36Z" fill="#99ee99"/><path d="M244.87 443.19L245.73 445.52L248.20 445.61L246.25 447.14L246.93 449.52L244.87 448.14L242.82 449.52L243.49 447.14L241.54 445.61L244.02 445.52Z" fill="#99ee99"/><path d="M257.02 444.92L257.87 447.25L260.35 447.34L258.40 448.87L259.08 451.25L257.02 449.87L254.96 451.25L255.64 448.87L253.69 447.34L256.17 447.25Z" fill="#99ee99"/><path d="M269.17 446.22L270.02 448.54L272.50 448.63L270.55 450.16L271.23 452.55L269.17 451.17L267.11 452.55L267.79 450.16L265.84 448.63L268.32 448.54Z" fill="#99ee99"/><path d="M281.32 446.65L282.17 448.98L284.65 449.07L282.70 450.60L283.38 452.98L281.32 451.60L279.26 452.98L279.94 450.60L277.99 449.07L280.47 448.98Z" fill="#99ee99"/><path d="M293.47 446.22L294.32 448.54L296.80 448.63L294.85 450.16L295.52 452.55L293.47 451.17L291.41 452.55L292.09 450.16L290.14 448.63L292.61 448.54Z" fill="#99ee99"/><path d="M305.62 445.13L306.47 447.46L308.94 447.55L306.99 449.08L307.67 451.46L305.62 450.08L303.56 451.46L304.24 449.08L302.29 447.55L304.76 447.46Z" fill="#99ee99"/><path d="M317.76 443.62L318.62 445.95L321.09 446.04L319.14 447.57L319.82 449.95L317.76 448.57L315.71 449.95L316.38 447.57L314.43 446.04L316.91 445.95Z" fill="#99ee99"/><path d="M329.91 441.96L330.76 444.28L333.24 444.38L331.29 445.91L331.97 448.29L329.91 446.91L327.85 448.29L328.53 445.91L326.58 444.38L329.06 444.28Z" fill="#99ee99"/><path d="M342.06 440.12L342.91 442.44L345.39 442.54L343.44 444.07L344.12 446.45L342.06 445.07L340.00 446.45L340.68 444.07L338.73 442.54L341.21 442.44Z" fill="#99ee99"/><path d="M354.21 438.44L355.06 440.76L357.54 440.85L355.59 442.38L356.27 444.77L354.21 443.39L352.15 444.77L352.83 442.38L350.88 440.85L353.36 440.76Z" fill="#99ee99"/><path d="M366.36 437.10L367.21 439.43L369.69 439.52L367.74 441.05L368.41 443.43L366.36 442.05L364.30 443.43L364.98 441.05L363.03 439.52L365.50 439.43Z" fill="#99ee99"/><path d="M378.50 435.94L379.36 438.27L381.83 438.36L379.88 439.89L380.56 442.27L378.50 440.89L376.45 442.27L377.13 439.89L375.18 438.36L377.65 438.27Z" fill="#99ee99"/><path d="M390.65 434.73L391.51 437.05L393.98 437.15L392.03 438.67L392.71 441.06L390.65 439.68L388.60 441.06L389.27 438.67L387.32 437.15L389.80 437.05Z" fill="#99ee99"/><path d="M402.80 433.25L403.65 435.58L406.13 435.67L404.18 437.20L404.86 439.58L402.80 438.20L400.74 439.58L401.42 437.20L399.47 435.67L401.95 435.58Z" fill="#99ee99"/><path d="M414.95 431.19L415.80 433.51L418.28 433.61L416.33 435.14L417.01 437.52L414.95 436.14L412.89 437.52L413.57 435.14L411.62 433.61L414.10 433.51Z" fill="#99ee99"/><path d="M427.10 428.71L427.95 431.04L430.43 431.13L428.48 432.66L429.16 435.04L427.10 433.66L425.04 435.04L425.72 432.66L423.77 431.13L426.25 431.04Z" fill="#99ee99"/><path d="M439.25 426.33L440.10 428.66L442.58 428.75L440.63 430.28L441.30 432.67L439.25 431.28L437.19 432.67L437.87 430.28L435.92 428.75L438.39 428.66Z" fill="#99ee99"/><path d="M451.40 424.31L452.25 426.64L454.72 426.73L452.77 428.26L453.45 430.65L451.40 429.26L449.34 430.65L450.02 428.26L448.07 426.73L450.54 426.64Z" fill="#99ee99"/><path d="M463.54 422.38L464.40 424.71L466.87 424.80L464.92 426.33L465.60 428.71L463.54 427.33L461.49 428.71L462.16 426.33L460.21 424.80L462.69 424.71Z" fill="#99ee99"/><path d="M475.69 420.28L476.54 422.61L479.02 422.70L477.07 424.23L477.75 426.61L475.69 425.23L473.63 426.61L474.31 424.23L472.36 422.70L474.84 422.61Z" fill="#99ee99"/><path d="M487.84 417.83L488.69 420.16L491.17 420.25L489.22 421.78L489.90 424.17L487.84 422.78L485.78 424.17L486.46 421.78L484.51 420.25L486.99 420.16Z" fill="#99ee99"/><path d="M499.99 415.17L500.84 417.50L503.32 417.59L501.37 419.12L502.05 421.50L499.99 420.12L497.93 421.50L498.61 419.12L496.66 417.59L499.14 417.50Z" fill="#99ee99"/><path d="M512.14 412.50L512.99 414.83L515.47 414.92L513.52 416.45L514.19 418.84L512.14 417.45L510.08 418.84L510.76 416.45L508.81 414.92L511.28 414.83Z" fill="#99ee99"/><path d="M524.28 410.01L525.14 412.34L527.61 412.43L525.66 413.96L526.34 416.35L524.28 414.96L522.23 416.35L522.91 413.96L520.96 412.43L523.43 412.34Z" fill="#99ee99"/><path d="M536.43 407.32L537.29 409.64L539.76 409.74L537.81 411.27L538.49 413.65L536.43 412.27L534.38 413.65L535.05 411.27L533.10 409.74L535.58 409.64Z" fill="#99ee99"/><path d="M548.58 403.86L549.43 406.19L551.91 406.28L549.96 407.81L550.64 410.19L548.58 408.81L546.52 410.19L547.20 407.81L545.25 406.28L547.73 406.19Z" fill="#99ee99"/><path d="M560.73 401.27L561.58 403.59L564.06 403.68L562.11 405.21L562.79 407.60L560.73 406.22L558.67 407.60L559.35 405.21L557.40 403.68L559.88 403.59Z" fill="#99ee99"/><path d="M572.88 398.67L573.73 401.00L576.21 401.09L574.26 402.62L574.94 405.00L572.88 403.62L570.82 405.00L571.50 402.62L569.55 401.09L572.03 401.00Z" fill="#99ee99"/><path d="M585.03 395.22L585.88 397.54L588.36 397.63L586.41 399.16L587.08 401.55L585.03 400.17L582.97 401.55L583.65 399.16L581.70 397.63L584.17 397.54Z" fill="#99ee99"/><path d="M597.17 392.62L598.03 394.95L600.50 395.04L598.55 396.57L599.23 398.95L597.17 397.57L595.12 398.95L595.80 396.57L593.85 395.04L596.32 394.95Z" fill="#99ee99"/><path d="M609.32 389.60L610.18 391.92L612.65 392.01L610.70 393.54L611.38 395.93L609.32 394.55L607.27 395.93L607.94 393.54L605.99 392.01L608.47 391.92Z" fill="#99ee99"/><path d="M621.47 387.00L622.32 389.33L624.80 389.42L622.85 390.95L623.53 393.33L621.47 391.95L619.41 393.33L620.09 390.95L618.14 389.42L620.62 389.33Z" fill="#99ee99"/><path d="M633.62 383.98L634.47 386.30L636.95 386.40L635.00 387.93L635.68 390.31L633.62 388.93L631.56 390.31L632.24 387.93L630.29 386.40L632.77 386.30Z" fill="#99ee99"/><path d="M645.77 381.38L646.62 383.71L649.10 383.80L647.15 385.33L647.83 387.72L645.77 386.33L643.71 387.72L644.39 385.33L642.44 383.80L644.92 383.71Z" fill="#99ee99"/><path d="M657.92 378.79L658.77 381.12L661.25 381.21L659.30 382.74L659.97 385.12L657.92 383.74L655.86 385.12L656.54 382.74L654.59 381.21L657.06 381.12Z" fill="#99ee99"/><path d="M670.07 376.20L670.92 378.52L673.39 378.62L671.44 380.15L672.12 382.53L670.07 381.15L668.01 382.53L668.69 380.15L666.74 378.62L669.21 378.52Z" fill="#99ee99"/><path d="M682.21 373.60L683.07 375.93L685.54 376.02L683.59 377.55L684.27 379.94L682.21 378.55L680.16 379.94L680.83 377.55L678.88 376.02L681.36 375.93Z" fill="#99ee99"/><path d="M694.36 371.01L695.21 373.34L697.69 373.43L695.74 374.96L696.42 377.34L694.36 375.96L692.30 377.34L692.98 374.96L691.03 373.43L693.51 373.34Z" fill="#99ee99"/><path d="M706.51 367.55L707.36 369.88L709.84 369.97L707.89 371.50L708.57 373.88L706.51 372.50L704.45 373.88L705.13 371.50L703.18 369.97L705.66 369.88Z" fill="#99ee99"/><path d="M718.66 364.96L719.51 367.29L721.99 367.38L720.04 368.91L720.72 371.29L718.66 369.91L716.60 371.29L717.28 368.91L715.33 367.38L717.81 367.29Z" fill="#99ee99"/><path d="M730.81 362.37L731.66 364.69L734.14 364.79L732.19 366.31L732.86 368.70L730.81 367.32L728.75 368.70L729.43 366.31L727.48 364.79L729.95 364.69Z" fill="#99ee99"/><path d="M742.95 359.34L743.81 361.67L746.28 361.76L744.33 363.29L745.01 365.67L742.95 364.29L740.90 365.67L741.58 363.29L739.63 361.76L742.10 361.67Z" fill="#99ee99"/><path d="M755.10 356.32L755.96 358.64L758.43 358.73L756.48 360.26L757.16 362.65L755.10 361.27L753.05 362.65L753.72 360.26L751.77 358.73L754.25 358.64Z" fill="#99ee99"/></g><g><path d="M74.80 304.49L86.94 277.70L99.09 263.43L111.24 253.49L123.39 248.74L135.54 246.14L147.69 244.41L159.83 242.69L171.98 240.96L184.13 238.36L196.28 235.34L208.43 231.88L220.58 227.56L232.72 223.24L244.87 218.48L257.02 213.73L269.17 208.54L281.32 203.79L293.47 198.60L305.62 193.85L317.76 189.09L329.91 183.90L342.06 179.58L354.21 174.83L366.36 170.07L378.50 165.32L390.65 160.56L402.80 156.24L414.95 151.49L427.10 146.30L439.25 141.87L451.40 137.81L463.54 133.89L475.69 129.88L487.84 125.77L499.99 121.68L512.14 117.56L524.28 113.39L536.43 109.13L548.58 104.68L560.73 100.07L572.88 95.43L585.03 90.91L597.17 86.66L609.32 82.70L621.47 78.94L633.62 75.29L645.77 71.69L657.92 68.07L670.07 64.32L682.21 60.60L694.36 57.27L706.51 54.48L718.66 51.99L730.81 49.49L742.95 46.89L755.10 44.30" stroke="#f3b0d6" stroke-width="0.75" fill="none"/><path d="M74.80 300.79L75.87 302.63L78.00 302.64L76.95 304.49L78.00 306.34L75.87 306.35L74.80 308.19L73.72 306.35L71.59 306.34L72.65 304.49L71.59 302.64L73.72 302.63Z" fill="#f092c8"/><path d="M86.94 274.00L88.02 275.83L90.15 275.85L89.09 277.70L90.15 279.55L88.02 279.56L86.94 281.40L85.87 279.56L83.74 279.55L84.79 277.70L83.74 275.85L85.87 275.83Z" fill="#f092c8"/><path d="M99.09 259.73L100.17 261.57L102.30 261.58L101.24 263.43L102.30 265.28L100.17 265.29L99.09 267.13L98.02 265.29L95.89 265.28L96.94 263.43L95.89 261.58L98.02 261.57Z" fill="#f092c8"/><path d="M111.24 249.79L112.32 251.63L114.45 251.64L113.39 253.49L114.45 255.34L112.32 255.35L111.24 257.19L110.17 255.35L108.04 255.34L109.09 253.49L108.04 251.64L110.17 251.63Z" fill="#f092c8"/><path d="M123.39 245.04L124.47 246.87L126.59 246.89L125.54 248.74L126.59 250.59L124.47 250.60L123.39 252.44L122.31 250.60L120.19 250.59L121.24 248.74L120.19 246.89L122.31 246.87Z" fill="#f092c8"/><path d="M135.54 242.44L136.61 244.28L138.74 244.29L137.69 246.14L138.74 247.99L136.61 248.01L135.54 249.84L134.46 248.01L132.33 247.99L133.39 246.14L132.33 244.29L134.46 244.28Z" fill="#f092c8"/><path d="M147.69 240.71L148.76 242.55L150.89 242.56L149.84 244.41L150.89 246.26L148.76 246.28L147.69 248.11L146.61 246.28L144.48 246.26L145.54 244.41L144.48 242.56L146.61 242.55Z" fill="#f092c8"/><path d="M159.83 238.99L160.91 240.82L163.04 240.84L161.98 242.69L163.04 244.54L160.91 244.55L159.83 246.39L158.76 244.55L156.63 244.54L157.68 242.69L156.63 240.84L158.76 240.82Z" fill="#f092c8"/><path d="M171.98 237.26L173.06 239.09L175.19 239.11L174.13 240.96L175.19 242.81L173.06 242.82L171.98 244.66L170.91 242.82L168.78 242.81L169.83 240.96L168.78 239.11L170.91 239.09Z" fill="#f092c8"/><path d="M184.13 234.66L185.21 236.50L187.34 236.51L186.28 238.36L187.34 240.21L185.21 240.23L184.13 242.06L183.06 240.23L180.93 240.21L181.98 238.36L180.93 236.51L183.06 236.50Z" fill="#f092c8"/><path d="M196.28 231.64L197.35 233.48L199.48 233.49L198.43 235.34L199.48 237.19L197.35 237.20L196.28 239.04L195.21 237.20L193.08 237.19L194.13 235.34L193.08 233.49L195.21 233.48Z" fill="#f092c8"/><path d="M208.43 228.18L209.50 230.02L211.63 230.03L210.58 231.88L211.63 233.73L209.50 233.74L208.43 235.58L207.35 233.74L205.22 233.73L206.28 231.88L205.22 230.03L207.35 230.02Z" fill="#f092c8"/><path d="M220.58 223.86L221.65 225.70L223.78 225.71L222.73 227.56L223.78 229.41L221.65 229.42L220.58 231.26L219.50 229.42L217.37 229.41L218.43 227.56L217.37 225.71L219.50 225.70Z" fill="#f092c8"/><path d="M232.72 219.54L233.80 221.37L235.93 221.39L234.88 223.24L235.93 225.09L233.80 225.10L232.72 226.94L231.65 225.10L229.52 225.09L230.57 223.24L229.52 221.39L231.65 221.37Z" fill="#f092c8"/><path d="M244.87 214.78L245.95 216.62L248.08 216.63L247.02 218.48L248.08 220.33L245.95 220.34L244.87 222.18L243.80 220.34L241.67 220.33L242.72 218.48L241.67 216.63L243.80 216.62Z" fill="#f092c8"/><path d="M257.02 210.03L258.10 211.87L260.23 211.88L259.17 213.73L260.23 215.58L258.10 215.59L257.02 217.43L255.95 215.59L253.82 215.58L254.87 213.73L253.82 211.88L255.95 211.87Z" fill="#f092c8"/><path d="M269.17 204.84L270.24 206.68L272.37 206.69L271.32 208.54L272.37 210.39L270.24 210.40L269.17 212.24L268.09 210.40L265.97 210.39L267.02 208.54L265.97 206.69L268.09 206.68Z" fill="#f092c8"/><path d="M281.32 200.09L282.39 201.92L284.52 201.94L283.47 203.79L284.52 205.64L282.39 205.65L281.32 207.49L280.24 205.65L278.11 205.64L279.17 203.79L278.11 201.94L280.24 201.92Z" fill="#f092c8"/><path d="M293.47 194.90L294.54 196.74L296.67 196.75L295.62 198.60L296.67 200.45L294.54 200.46L293.47 202.30L292.39 200.46L290.26 200.45L291.32 198.60L290.26 196.75L292.39 196.74Z" fill="#f092c8"/><path d="M305.62 190.15L306.69 191.98L308.82 192.00L307.76 193.85L308.82 195.70L306.69 195.71L305.62 197.55L304.54 195.71L302.41 195.70L303.47 193.85L302.41 192.00L304.54 191.98Z" fill="#f092c8"/><path d="M317.76 185.39L318.84 187.23L320.97 187.24L319.91 189.09L320.97 190.94L318.84 190.95L317.76 192.79L316.69 190.95L314.56 190.94L315.61 189.09L314.56 187.24L316.69 187.23Z" fill="#f092c8"/><path d="M329.91 180.20L330.99 182.04L333.12 182.05L332.06 183.90L333.12 185.75L330.99 185.77L329.91 187.60L328.84 185.77L326.71 185.75L327.76 183.90L326.71 182.05L328.84 182.04Z" fill="#f092c8"/><path d="M342.06 175.88L343.13 177.72L345.26 177.73L344.21 179.58L345.26 181.43L343.13 181.44L342.06 183.28L340.99 181.44L338.86 181.43L339.91 179.58L338.86 177.73L340.99 177.72Z" fill="#f092c8"/><path d="M354.21 171.13L355.28 172.97L357.41 172.98L356.36 174.83L357.41 176.68L355.28 176.69L354.21 178.53L353.13 176.69L351.00 176.68L352.06 174.83L351.00 172.98L353.13 172.97Z" fill="#f092c8"/><path d="M366.36 166.37L367.43 168.21L369.56 168.22L368.51 170.07L369.56 171.92L367.43 171.94L366.36 173.77L365.28 171.94L363.15 171.92L364.21 170.07L363.15 168.22L365.28 168.21Z" fill="#f092c8"/><path d="M378.50 161.62L379.58 163.46L381.71 163.47L380.65 165.32L381.71 167.17L379.58 167.18L378.50 169.02L377.43 167.18L375.30 167.17L376.36 165.32L375.30 163.47L377.43 163.46Z" fill="#f092c8"/><path d="M390.65 156.86L391.73 158.70L393.86 158.71L392.80 160.56L393.86 162.41L391.73 162.43L390.65 164.26L389.58 162.43L387.45 162.41L388.50 160.56L387.45 158.71L389.58 158.70Z" fill="#f092c8"/><path d="M402.80 152.54L403.88 154.38L406.01 154.39L404.95 156.24L406.01 158.09L403.88 158.10L402.80 159.94L401.73 158.10L399.60 158.09L400.65 156.24L399.60 154.39L401.73 154.38Z" fill="#f092c8"/><path d="M414.95 147.79L416.02 149.63L418.15 149.64L417.10 151.49L418.15 153.34L416.02 153.35L414.95 155.19L413.88 153.35L411.75 153.34L412.80 151.49L411.75 149.64L413.88 149.63Z" fill="#f092c8"/><path d="M427.10 142.60L428.17 144.44L430.30 144.45L429.25 146.30L430.30 148.15L428.17 148.16L427.10 150.00L426.02 148.16L423.89 148.15L424.95 146.30L423.89 144.45L426.02 144.44Z" fill="#f092c8"/><path d="M439.25 138.17L440.32 140.01L442.45 140.02L441.40 141.87L442.45 143.72L440.32 143.73L439.25 145.57L438.17 143.73L436.04 143.72L437.10 141.87L436.04 140.02L438.17 140.01Z" fill="#f092c8"/><path d="M451.40 134.11L452.47 135.94L454.60 135.96L453.55 137.81L454.60 139.66L452.47 139.67L451.40 141.51L450.32 139.67L448.19 139.66L449.25 137.81L448.19 135.96L450.32 135.94Z" fill="#f092c8"/><path d="M463.54 130.19L464.62 132.02L466.75 132.04L465.69 133.89L466.75 135.74L464.62 135.75L463.54 137.59L462.47 135.75L460.34 135.74L461.39 133.89L460.34 132.04L462.47 132.02Z" fill="#f092c8"/><path d="M475.69 126.18L476.77 128.02L478.90 128.03L477.84 129.88L478.90 131.73L476.77 131.74L475.69 133.58L474.62 131.74L472.49 131.73L473.54 129.88L472.49 128.03L474.62 128.02Z" fill="#f092c8"/><path d="M487.84 122.07L488.91 123.91L491.04 123.92L489.99 125.77L491.04 127.62L488.91 127.63L487.84 129.47L486.76 127.63L484.64 127.62L485.69 125.77L484.64 123.92L486.76 123.91Z" fill="#f092c8"/><path d="M499.99 117.98L501.06 119.81L503.19 119.83L502.14 121.68L503.19 123.53L501.06 123.54L499.99 125.38L498.91 123.54L496.78 123.53L497.84 121.68L496.78 119.83L498.91 119.81Z" fill="#f092c8"/><path d="M512.14 113.86L513.21 115.70L515.34 115.71L514.29 117.56L515.34 119.41L513.21 119.42L512.14 121.26L511.06 119.42L508.93 119.41L509.99 117.56L508.93 115.71L511.06 115.70Z" fill="#f092c8"/><path d="M524.28 109.69L525.36 111.53L527.49 111.54L526.43 113.39L527.49 115.24L525.36 115.25L524.28 117.09L523.21 115.25L521.08 115.24L522.13 113.39L521.08 111.54L523.21 111.53Z" fill="#f092c8"/><path d="M536.43 105.43L537.51 107.27L539.64 107.28L538.58 109.13L539.64 110.98L537.51 110.99L536.43 112.83L535.36 110.99L533.23 110.98L534.28 109.13L533.23 107.28L535.36 107.27Z" fill="#f092c8"/><path d="M548.58 100.98L549.66 102.82L551.79 102.83L550.73 104.68L551.79 106.53L549.66 106.55L548.58 108.38L547.51 106.55L545.38 106.53L546.43 104.68L545.38 102.83L547.51 102.82Z" fill="#f092c8"/><path d="M560.73 96.37L561.81 98.20L563.93 98.22L562.88 100.07L563.93 101.92L561.81 101.93L560.73 103.77L559.65 101.93L557.53 101.92L558.58 100.07L557.53 98.22L559.65 98.20Z" fill="#f092c8"/><path d="M572.88 91.73L573.95 93.56L576.08 93.58L575.03 95.43L576.08 97.28L573.95 97.29L572.88 99.13L571.80 97.29L569.67 97.28L570.73 95.43L569.67 93.58L571.80 93.56Z" fill="#f092c8"/><path d="M585.03 87.21L586.10 89.05L588.23 89.06L587.18 90.91L588.23 92.76L586.10 92.77L585.03 94.61L583.95 92.77L581.82 92.76L582.88 90.91L581.82 89.06L583.95 89.05Z" fill="#f092c8"/><path d="M597.17 82.96L598.25 84.79L600.38 84.81L599.32 86.66L600.38 88.51L598.25 88.52L597.17 90.36L596.10 88.52L593.97 88.51L595.02 86.66L593.97 84.81L596.10 84.79Z" fill="#f092c8"/><path d="M609.32 79.00L610.40 80.84L612.53 80.85L611.47 82.70L612.53 84.55L610.40 84.57L609.32 86.40L608.25 84.57L606.12 84.55L607.17 82.70L606.12 80.85L608.25 80.84Z" fill="#f092c8"/><path d="M621.47 75.24L622.55 77.08L624.68 77.09L623.62 78.94L624.68 80.79L622.55 80.80L621.47 82.64L620.40 80.80L618.27 80.79L619.32 78.94L618.27 77.09L620.40 77.08Z" fill="#f092c8"/><path d="M633.62 71.59L634.70 73.43L636.82 73.44L635.77 75.29L636.82 77.14L634.70 77.15L633.62 78.99L632.54 77.15L630.42 77.14L631.47 75.29L630.42 73.44L632.54 73.43Z" fill="#f092c8"/><path d="M645.77 67.99L646.84 69.83L648.97 69.84L647.92 71.69L648.97 73.54L646.84 73.55L645.77 75.39L644.69 73.55L642.56 73.54L643.62 71.69L642.56 69.84L644.69 69.83Z" fill="#f092c8"/><path d="M657.92 64.37L658.99 66.21L661.12 66.22L660.07 68.07L661.12 69.92L658.99 69.93L657.92 71.77L656.84 69.93L654.71 69.92L655.77 68.07L654.71 66.22L656.84 66.21Z" fill="#f092c8"/><path d="M670.07 60.62L671.14 62.45L673.27 62.47L672.22 64.32L673.27 66.17L671.14 66.18L670.07 68.02L668.99 66.18L666.86 66.17L667.92 64.32L666.86 62.47L668.99 62.45Z" fill="#f092c8"/><path d="M682.21 56.90L683.29 58.73L685.42 58.75L684.36 60.60L685.42 62.45L683.29 62.46L682.21 64.30L681.14 62.46L679.01 62.45L680.06 60.60L679.01 58.75L681.14 58.73Z" fill="#f092c8"/><path d="M694.36 53.57L695.44 55.40L697.57 55.42L696.51 57.27L697.57 59.12L695.44 59.13L694.36 60.97L693.29 59.13L691.16 59.12L692.21 57.27L691.16 55.42L693.29 55.40Z" fill="#f092c8"/><path d="M706.51 50.78L707.59 52.62L709.71 52.63L708.66 54.48L709.71 56.33L707.59 56.35L706.51 58.18L705.43 56.35L703.31 56.33L704.36 54.48L703.31 52.63L705.43 52.62Z" fill="#f092c8"/><path d="M718.66 48.29L719.73 50.12L721.86 50.14L720.81 51.99L721.86 53.84L719.73 53.85L718.66 55.69L717.58 53.85L715.45 53.84L716.51 51.99L715.45 50.14L717.58 50.12Z" fill="#f092c8"/><path d="M730.81 45.79L731.88 47.62L734.01 47.64L732.96 49.49L734.01 51.34L731.88 51.35L730.81 53.19L729.73 51.35L727.60 51.34L728.66 49.49L727.60 47.64L729.73 47.62Z" fill="#f092c8"/><path d="M742.95 43.19L744.03 45.03L746.16 45.04L745.10 46.89L746.16 48.74L744.03 48.75L742.95 50.59L741.88 48.75L739.75 48.74L740.80 46.89L739.75 45.04L741.88 45.03Z" fill="#f092c8"/><path d="M755.10 40.60L756.18 42.44L758.31 42.45L757.25 44.30L758.31 46.15L756.18 46.16L755.10 48.00L754.03 46.16L751.90 46.15L752.95 44.30L751.90 42.45L754.03 42.44Z" fill="#f092c8"/></g><g><path d="M74.80 340.80L86.94 338.20L99.09 345.98L111.24 358.95L123.39 373.65L135.54 388.34L147.69 401.31L159.83 412.98L171.98 423.35L184.13 432.00L196.28 438.91L208.43 444.96L220.58 449.72L232.72 454.04L244.87 457.50L257.02 460.52L269.17 462.68L281.32 465.28L293.47 466.57L305.62 467.87L317.76 468.73L329.91 469.60L342.06 469.83L354.21 469.98L366.36 470.03L378.50 469.83L390.65 469.44L402.80 469.17L414.95 469.06L427.10 468.98L439.25 468.92L451.40 468.86L463.54 468.80L475.69 468.73L487.84 468.66L499.99 468.59L512.14 468.51L524.28 468.41L536.43 468.30L548.58 468.10L560.73 467.81L572.88 467.55L585.03 467.44L597.17 467.73L609.32 468.30L621.47 469.12L633.62 470.03L645.77 470.68L657.92 471.33L670.07 472.14L682.21 473.06L694.36 474.08L706.51 475.22L718.66 476.48L730.81 477.81L742.95 479.11L755.10 480.40" stroke="#8c5a5a" stroke-width="0.75" fill="none"/><path d="M74.80 335.90L78.80 340.80L74.80 345.70L70.80 340.80Z" fill="#6b2b30"/><path d="M86.94 333.31L90.94 338.20L86.94 343.10L82.94 338.20Z" fill="#6b2b30"/><path d="M99.09 341.08L103.09 345.98L99.09 350.88L95.09 345.98Z" fill="#6b2b30"/><path d="M111.24 354.05L115.24 358.95L111.24 363.85L107.24 358.95Z" fill="#6b2b30"/><path d="M123.39 368.75L127.39 373.65L123.39 378.55L119.39 373.65Z" fill="#6b2b30"/><path d="M135.54 383.44L139.54 388.34L135.54 393.24L131.54 388.34Z" fill="#6b2b30"/><path d="M147.69 396.41L151.69 401.31L147.69 406.21L143.69 401.31Z" fill="#6b2b30"/><path d="M159.83 408.08L163.83 412.98L159.83 417.88L155.83 412.98Z" fill="#6b2b30"/><path d="M171.98 418.45L175.98 423.35L171.98 428.25L167.98 423.35Z" fill="#6b2b30"/><path d="M184.13 427.10L188.13 432.00L184.13 436.90L180.13 432.00Z" fill="#6b2b30"/><path d="M196.28 434.01L200.28 438.91L196.28 443.81L192.28 438.91Z" fill="#6b2b30"/><path d="M208.43 440.06L212.43 444.96L208.43 449.86L204.43 444.96Z" fill="#6b2b30"/><path d="M220.58 444.82L224.58 449.72L220.58 454.62L216.58 449.72Z" fill="#6b2b30"/><path d="M232.72 449.14L236.72 454.04L232.72 458.94L228.72 454.04Z" fill="#6b2b30"/><path d="M244.87 452.60L248.87 457.50L244.87 462.40L240.87 457.50Z" fill="#6b2b30"/><path d="M257.02 455.62L261.02 460.52L257.02 465.42L253.02 460.52Z" fill="#6b2b30"/><path d="M269.17 457.78L273.17 462.68L269.17 467.58L265.17 462.68Z" fill="#6b2b30"/><path d="M281.32 460.38L285.32 465.28L281.32 470.18L277.32 465.28Z" fill="#6b2b30"/><path d="M293.47 461.67L297.47 466.57L293.47 471.47L289.47 466.57Z" fill="#6b2b30"/><path d="M305.62 462.97L309.62 467.87L305.62 472.77L301.62 467.87Z" fill="#6b2b30"/><path d="M317.76 463.83L321.76 468.73L317.76 473.63L313.76 468.73Z" fill="#6b2b30"/><path d="M329.91 464.70L333.91 469.60L329.91 474.50L325.91 469.60Z" fill="#6b2b30"/><path d="M342.06 464.93L346.06 469.83L342.06 474.73L338.06 469.83Z" fill="#6b2b30"/><path d="M354.21 465.08L358.21 469.98L354.21 474.88L350.21 469.98Z" fill="#6b2b30"/><path d="M366.36 465.13L370.36 470.03L366.36 474.93L362.36 470.03Z" fill="#6b2b30"/><path d="M378.50 464.93L382.50 469.83L378.50 474.73L374.50 469.83Z" fill="#6b2b30"/><path d="M390.65 464.54L394.65 469.44L390.65 474.34L386.65 469.44Z" fill="#6b2b30"/><path d="M402.80 464.27L406.80 469.17L402.80 474.07L398.80 469.17Z" fill="#6b2b30"/><path d="M414.95 464.16L418.95 469.06L414.95 473.96L410.95 469.06Z" fill="#6b2b30"/><path d="M427.10 464.08L431.10 468.98L427.10 473.88L423.10 468.98Z" fill="#6b2b30"/><path d="M439.25 464.02L443.25 468.92L439.25 473.82L435.25 468.92Z" fill="#6b2b30"/><path d="M451.40 463.96L455.40 468.86L451.40 473.76L447.40 468.86Z" fill="#6b2b30"/><path d="M463.54 463.90L467.54 468.80L463.54 473.70L459.54 468.80Z" fill="#6b2b30"/><path d="M475.69 463.83L479.69 468.73L475.69 473.63L471.69 468.73Z" fill="#6b2b30"/><path d="M487.84 463.76L491.84 468.66L487.84 473.56L483.84 468.66Z" fill="#6b2b30"/><path d="M499.99 463.69L503.99 468.59L499.99 473.49L495.99 468.59Z" fill="#6b2b30"/><path d="M512.14 463.61L516.14 468.51L512.14 473.41L508.14 468.51Z" fill="#6b2b30"/><path d="M524.28 463.51L528.28 468.41L524.28 473.31L520.28 468.41Z" fill="#6b2b30"/><path d="M536.43 463.40L540.43 468.30L536.43 473.20L532.43 468.30Z" fill="#6b2b30"/><path d="M548.58 463.20L552.58 468.10L548.58 473.00L544.58 468.10Z" fill="#6b2b30"/><path d="M560.73 462.91L564.73 467.81L560.73 472.71L556.73 467.81Z" fill="#6b2b30"/><path d="M572.88 462.65L576.88 467.55L572.88 472.45L568.88 467.55Z" fill="#6b2b30"/><path d="M585.03 462.54L589.03 467.44L585.03 472.34L581.03 467.44Z" fill="#6b2b30"/><path d="M597.17 462.83L601.17 467.73L597.17 472.63L593.17 467.73Z" fill="#6b2b30"/><path d="M609.32 463.40L613.32 468.30L609.32 473.20L605.32 468.30Z" fill="#6b2b30"/><path d="M621.47 464.22L625.47 469.12L621.47 474.02L617.47 469.12Z" fill="#6b2b30"/><path d="M633.62 465.13L637.62 470.03L633.62 474.93L629.62 470.03Z" fill="#6b2b30"/><path d="M645.77 465.78L649.77 470.68L645.77 475.58L641.77 470.68Z" fill="#6b2b30"/><path d="M657.92 466.43L661.92 471.33L657.92 476.23L653.92 471.33Z" fill="#6b2b30"/><path d="M670.07 467.24L674.07 472.14L670.07 477.04L666.07 472.14Z" fill="#6b2b30"/><path d="M682.21 468.16L686.21 473.06L682.21 477.96L678.21 473.06Z" fill="#6b2b30"/><path d="M694.36 469.18L698.36 474.08L694.36 478.98L690.36 474.08Z" fill="#6b2b30"/><path d="M706.51 470.32L710.51 475.22L706.51 480.12L702.51 475.22Z" fill="#6b2b30"/><path d="M718.66 471.58L722.66 476.48L718.66 481.38L714.66 476.48Z" fill="#6b2b30"/><path d="M730.81 472.91L734.81 477.81L730.81 482.71L726.81 477.81Z" fill="#6b2b30"/><path d="M742.95 474.21L746.95 479.11L742.95 484.01L738.95 479.11Z" fill="#6b2b30"/><path d="M755.10 475.50L759.10 480.40L755.10 485.30L751.10 480.40Z" fill="#6b2b30"/></g><g><path d="M74.80 336.48L86.94 333.45L99.09 341.66L111.24 352.90L123.39 364.57L135.54 375.81L147.69 384.88L159.83 394.39L171.98 401.31L184.13 407.79L196.28 412.98L208.43 418.16L220.58 422.92L232.72 427.24L244.87 431.13L257.02 434.59L269.17 437.61L281.32 440.64L293.47 442.80L305.62 444.53L317.76 445.83L329.91 446.26L342.06 446.26L354.21 446.26L366.36 445.83L378.50 444.53L390.65 443.67L402.80 441.94L414.95 439.78L427.10 437.61L439.25 434.16L451.40 431.13L463.54 428.11L475.69 423.78L487.84 419.03L499.99 414.71L512.14 409.52L524.28 404.77L536.43 400.01L548.58 395.26L560.73 389.64L572.88 384.02L585.03 377.54L597.17 371.92L609.32 365.87L621.47 359.82L633.62 352.90L645.77 346.42L657.92 339.93L670.07 332.59L682.21 325.24L694.36 318.32L706.51 310.54L718.66 303.20L730.81 295.42L742.95 287.64L755.10 278.56" stroke="#7d9cc0" stroke-width="0.75" fill="none"/><path d="M74.80 332.73L78.90 340.23L70.70 340.23Z" fill="#2f6299"/><path d="M86.94 329.70L91.04 337.20L82.84 337.20Z" fill="#2f6299"/><path d="M99.09 337.91L103.19 345.41L94.99 345.41Z" fill="#2f6299"/><path d="M111.24 349.15L115.34 356.65L107.14 356.65Z" fill="#2f6299"/><path d="M123.39 360.82L127.49 368.32L119.29 368.32Z" fill="#2f6299"/><path d="M135.54 372.06L139.64 379.56L131.44 379.56Z" fill="#2f6299"/><path d="M147.69 381.13L151.79 388.63L143.59 388.63Z" fill="#2f6299"/><path d="M159.83 390.64L163.93 398.14L155.73 398.14Z" fill="#2f6299"/><path d="M171.98 397.56L176.08 405.06L167.88 405.06Z" fill="#2f6299"/><path d="M184.13 404.04L188.23 411.54L180.03 411.54Z" fill="#2f6299"/><path d="M196.28 409.23L200.38 416.73L192.18 416.73Z" fill="#2f6299"/><path d="M208.43 414.41L212.53 421.91L204.33 421.91Z" fill="#2f6299"/><path d="M220.58 419.17L224.68 426.67L216.48 426.67Z" fill="#2f6299"/><path d="M232.72 423.49L236.82 430.99L228.62 430.99Z" fill="#2f6299"/><path d="M244.87 427.38L248.97 434.88L240.77 434.88Z" fill="#2f6299"/><path d="M257.02 430.84L261.12 438.34L252.92 438.34Z" fill="#2f6299"/><path d="M269.17 433.86L273.27 441.36L265.07 441.36Z" fill="#2f6299"/><path d="M281.32 436.89L285.42 444.39L277.22 444.39Z" fill="#2f6299"/><path d="M293.47 439.05L297.57 446.55L289.37 446.55Z" fill="#2f6299"/><path d="M305.62 440.78L309.72 448.28L301.51 448.28Z" fill="#2f6299"/><path d="M317.76 442.08L321.86 449.58L313.66 449.58Z" fill="#2f6299"/><path d="M329.91 442.51L334.01 450.01L325.81 450.01Z" fill="#2f6299"/><path d="M342.06 442.51L346.16 450.01L337.96 450.01Z" fill="#2f6299"/><path d="M354.21 442.51L358.31 450.01L350.11 450.01Z" fill="#2f6299"/><path d="M366.36 442.08L370.46 449.58L362.26 449.58Z" fill="#2f6299"/><path d="M378.50 440.78L382.61 448.28L374.40 448.28Z" fill="#2f6299"/><path d="M390.65 439.92L394.75 447.42L386.55 447.42Z" fill="#2f6299"/><path d="M402.80 438.19L406.90 445.69L398.70 445.69Z" fill="#2f6299"/><path d="M414.95 436.03L419.05 443.53L410.85 443.53Z" fill="#2f6299"/><path d="M427.10 433.86L431.20 441.36L423.00 441.36Z" fill="#2f6299"/><path d="M439.25 430.41L443.35 437.91L435.15 437.91Z" fill="#2f6299"/><path d="M451.40 427.38L455.50 434.88L447.30 434.88Z" fill="#2f6299"/><path d="M463.54 424.36L467.64 431.86L459.44 431.86Z" fill="#2f6299"/><path d="M475.69 420.03L479.79 427.53L471.59 427.53Z" fill="#2f6299"/><path d="M487.84 415.28L491.94 422.78L483.74 422.78Z" fill="#2f6299"/><path d="M499.99 410.96L504.09 418.46L495.89 418.46Z" fill="#2f6299"/><path d="M512.14 405.77L516.24 413.27L508.04 413.27Z" fill="#2f6299"/><path d="M524.28 401.02L528.38 408.52L520.18 408.52Z" fill="#2f6299"/><path d="M536.43 396.26L540.53 403.76L532.33 403.76Z" fill="#2f6299"/><path d="M548.58 391.51L552.68 399.01L544.48 399.01Z" fill="#2f6299"/><path d="M560.73 385.89L564.83 393.39L556.63 393.39Z" fill="#2f6299"/><path d="M572.88 380.27L576.98 387.77L568.78 387.77Z" fill="#2f6299"/><path d="M585.03 373.79L589.13 381.29L580.93 381.29Z" fill="#2f6299"/><path d="M597.17 368.17L601.27 375.67L593.07 375.67Z" fill="#2f6299"/><path d="M609.32 362.12L613.42 369.62L605.22 369.62Z" fill="#2f6299"/><path d="M621.47 356.07L625.57 363.57L617.37 363.57Z" fill="#2f6299"/><path d="M633.62 349.15L637.72 356.65L629.52 356.65Z" fill="#2f6299"/><path d="M645.77 342.67L649.87 350.17L641.67 350.17Z" fill="#2f6299"/><path d="M657.92 336.18L662.02 343.68L653.82 343.68Z" fill="#2f6299"/><path d="M670.07 328.84L674.17 336.34L665.97 336.34Z" fill="#2f6299"/><path d="M682.21 321.49L686.31 328.99L678.11 328.99Z" fill="#2f6299"/><path d="M694.36 314.57L698.46 322.07L690.26 322.07Z" fill="#2f6299"/><path d="M706.51 306.79L710.61 314.29L702.41 314.29Z" fill="#2f6299"/><path d="M718.66 299.45L722.76 306.95L714.56 306.95Z" fill="#2f6299"/><path d="M730.81 291.67L734.91 299.17L726.71 299.17Z" fill="#2f6299"/><path d="M742.95 283.89L747.05 291.39L738.85 291.39Z" fill="#2f6299"/><path d="M755.10 274.81L759.20 282.31L751.00 282.31Z" fill="#2f6299"/></g>
<g class="lg"><rect x="50.5" y="5.4" width="272.00" height="173.00" fill="#fff" stroke="#555555" stroke-width="1.15"/><path d="M58.6 19.70H93.8" stroke="#7d9cc0" stroke-width="1.1"/><path d="M76.40 14.80L80.40 19.70L76.40 24.60L72.40 19.70Z" fill="#2f6299"/><text x="98.0" y="23.60">Arab Nubian</text><path d="M58.6 33.28H93.8" stroke="#f07070" stroke-width="1.1"/><rect x="73.10" y="29.98" width="6.60" height="6.60" fill="#ee2e2e"/><text x="98.0" y="37.18">Arab Beja</text><path d="M58.6 46.86H93.8" stroke="#8fd070" stroke-width="1.1"/><path d="M76.40 42.51L80.50 50.01L72.30 50.01Z" fill="#55b733"/><text x="98.0" y="50.76">Arab Nilotic</text><path d="M58.6 60.44H93.8" stroke="#b894c8" stroke-width="1.1"/><path d="M74.00 58.04L78.80 62.84M74.00 62.84L78.80 58.04" stroke="#9c78b4" stroke-width="0.9" fill="none"/><text x="98.0" y="64.34">Arab Nuba</text><path d="M58.6 74.02H93.8" stroke="#99dddd" stroke-width="1.1"/><path d="M73.20 74.02H79.60M76.40 70.82V77.22M74.14 71.76L78.66 76.28M74.14 76.28L78.66 71.76" stroke="#7fd4d4" stroke-width="0.85" fill="none"/><text x="98.0" y="77.92">Arab Zagawa</text><path d="M58.6 87.60H93.8" stroke="#ffff66" stroke-width="1.1"/><circle cx="76.40" cy="87.60" r="3.8" fill="#ffff00"/><text x="98.0" y="91.50">Arab Copt</text><path d="M58.6 101.18H93.8" stroke="#bbbbbb" stroke-width="1.1"/><path d="M76.40 105.83L80.60 98.33L72.20 98.33Z" fill="#999999"/><text x="98.0" y="105.08">Nubian Beja</text><path d="M58.6 114.76H93.8" stroke="#bbf3bb" stroke-width="1.1"/><path d="M72.65 114.76L80.15 110.66L80.15 118.86Z" fill="#99ee99"/><text x="98.0" y="118.66">Nubian Nilotic</text><path d="M58.6 128.34H93.8" stroke="#f3b0d6" stroke-width="1.1"/><path d="M76.40 124.84L77.25 127.17L79.73 127.26L77.78 128.79L78.46 131.17L76.40 129.79L74.34 131.17L75.02 128.79L73.07 127.26L75.55 127.17Z" fill="#f092c8"/><text x="98.0" y="132.24">Nubian Nuba</text><path d="M58.6 141.92H93.8" stroke="#8c5a5a" stroke-width="1.1"/><path d="M76.40 138.22L77.48 140.06L79.60 140.07L78.55 141.92L79.60 143.77L77.48 143.78L76.40 145.62L75.33 143.78L73.20 143.77L74.25 141.92L73.20 140.07L75.33 140.06Z" fill="#6b2b30"/><text x="98.0" y="145.82">Nubian Zagawa</text><path d="M58.6 155.50H93.8" stroke="#7d9cc0" stroke-width="1.1"/><rect x="73.10" y="152.20" width="6.60" height="6.60" fill="#2f6299"/><text x="98.0" y="159.40">Nubian Copt</text><path d="M58.6 169.08H93.8" stroke="#f07070" stroke-width="1.1"/><path d="M76.40 164.73L80.50 172.23L72.30 172.23Z" fill="#ee2e2e"/><text x="98.0" y="172.98">Beja Nilotic</text><path d="M200.7 19.70H236.0" stroke="#b0e898" stroke-width="1.1"/><path d="M215.90 17.30L220.70 22.10M215.90 22.10L220.70 17.30" stroke="#88dd66" stroke-width="0.9" fill="none"/><text x="240.0" y="23.60">Beja Nuba</text><path d="M200.7 33.28H236.0" stroke="#c8a0cc" stroke-width="1.1"/><path d="M215.10 33.28H221.50M218.30 30.08V36.48M216.04 31.02L220.56 35.54M216.04 35.54L220.56 31.02" stroke="#a47cb0" stroke-width="0.85" fill="none"/><text x="240.0" y="37.18">Beja Zagawa</text><path d="M200.7 46.86H236.0" stroke="#99dddd" stroke-width="1.1"/><circle cx="218.30" cy="46.86" r="3.8" fill="#5fc4c8"/><text x="240.0" y="50.76">Beja Copt</text><path d="M200.7 60.44H236.0" stroke="#ffff66" stroke-width="1.1"/><path d="M218.30 65.09L222.50 57.59L214.10 57.59Z" fill="#ffff00"/><text x="240.0" y="64.34">Nilotic Nuba</text><path d="M200.7 74.02H236.0" stroke="#bbbbbb" stroke-width="1.1"/><path d="M214.55 74.02L222.05 69.92L222.05 78.12Z" fill="#999999"/><text x="240.0" y="77.92">Nilotic Zagawa</text><path d="M200.7 87.60H236.0" stroke="#bbf3bb" stroke-width="1.1"/><path d="M218.30 84.10L219.15 86.43L221.63 86.52L219.68 88.05L220.36 90.43L218.30 89.05L216.24 90.43L216.92 88.05L214.97 86.52L217.45 86.43Z" fill="#99ee99"/><text x="240.0" y="91.50">Nilotic Copt</text><path d="M200.7 101.18H236.0" stroke="#f3b0d6" stroke-width="1.1"/><path d="M218.30 97.48L219.38 99.32L221.50 99.33L220.45 101.18L221.50 103.03L219.38 103.04L218.30 104.88L217.23 103.04L215.10 103.03L216.15 101.18L215.10 99.33L217.23 99.32Z" fill="#f092c8"/><text x="240.0" y="105.08">Nuba Zagawa</text><path d="M200.7 114.76H236.0" stroke="#8c5a5a" stroke-width="1.1"/><path d="M218.30 109.86L222.30 114.76L218.30 119.66L214.30 114.76Z" fill="#6b2b30"/><text x="240.0" y="118.66">Nuba Copt</text><path d="M200.7 128.34H236.0" stroke="#7d9cc0" stroke-width="1.1"/><path d="M218.30 123.99L222.40 131.49L214.20 131.49Z" fill="#2f6299"/><text x="240.0" y="132.24">Zagawa Copt</text></g>
<rect x="50.5" y="5.4" width="728.90" height="605.10" fill="none" stroke="#555555" stroke-width="1.15"/><path d="M50.50 610.5V603.5M50.50 5.4V12.4" stroke="#555555" stroke-width="1.1"/><path d="M171.98 610.5V603.5M171.98 5.4V12.4" stroke="#555555" stroke-width="1.1"/><path d="M293.47 610.5V603.5M293.47 5.4V12.4" stroke="#555555" stroke-width="1.1"/><path d="M414.95 610.5V603.5M414.95 5.4V12.4" stroke="#555555" stroke-width="1.1"/><path d="M536.43 610.5V603.5M536.43 5.4V12.4" stroke="#555555" stroke-width="1.1"/><path d="M657.92 610.5V603.5M657.92 5.4V12.4" stroke="#555555" stroke-width="1.1"/><path d="M779.40 610.5V603.5M779.40 5.4V12.4" stroke="#555555" stroke-width="1.1"/><path d="M50.5 610.50H57.5M779.40 610.50H772.40" stroke="#555555" stroke-width="1.1"/><path d="M50.5 524.06H57.5M779.40 524.06H772.40" stroke="#555555" stroke-width="1.1"/><path d="M50.5 437.61H57.5M779.40 437.61H772.40" stroke="#555555" stroke-width="1.1"/><path d="M50.5 351.17H57.5M779.40 351.17H772.40" stroke="#555555" stroke-width="1.1"/><path d="M50.5 264.73H57.5M779.40 264.73H772.40" stroke="#555555" stroke-width="1.1"/><path d="M50.5 178.29H57.5M779.40 178.29H772.40" stroke="#555555" stroke-width="1.1"/><path d="M50.5 91.84H57.5M779.40 91.84H772.40" stroke="#555555" stroke-width="1.1"/><path d="M50.5 5.40H57.5M779.40 5.40H772.40" stroke="#555555" stroke-width="1.1"/>
<g class="tk"><text x="50.50" y="625.3" text-anchor="middle">0</text><text x="171.98" y="625.3" text-anchor="middle">10</text><text x="293.47" y="625.3" text-anchor="middle">20</text><text x="414.95" y="625.3" text-anchor="middle">30</text><text x="536.43" y="625.3" text-anchor="middle">40</text><text x="657.92" y="625.3" text-anchor="middle">50</text><text x="779.40" y="625.3" text-anchor="middle">60</text><text x="44" y="615.40" text-anchor="end">0</text><text x="44" y="528.96" text-anchor="end">0.02</text><text x="44" y="442.51" text-anchor="end">0.04</text><text x="44" y="356.07" text-anchor="end">0.06</text><text x="44" y="269.63" text-anchor="end">0.08</text><text x="44" y="183.19" text-anchor="end">0.1</text><text x="44" y="96.74" text-anchor="end">0.12</text><text x="44" y="10.30" text-anchor="end">0.14</text></g>
<text class="al" x="407.6" y="650.4" text-anchor="middle">Sample size (in chromosome)</text>
<text class="al2" transform="translate(11.8 303.8) rotate(-90)" text-anchor="middle">Mean number of alleles private to a population-pair</text>
</svg>
</body></html>
